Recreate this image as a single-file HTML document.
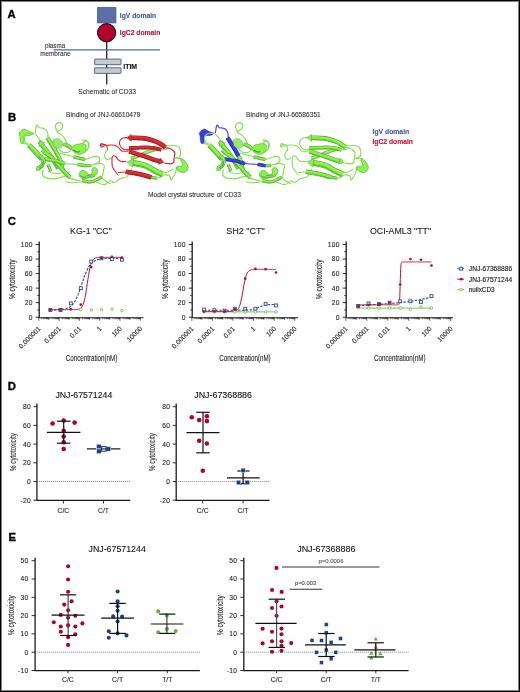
<!DOCTYPE html>
<html><head><meta charset="utf-8"><style>
html,body{margin:0;padding:0;background:#fff;width:520px;height:692px;overflow:hidden}
svg{display:block;font-family:"Liberation Sans", sans-serif;will-change:transform}
</style></head><body>
<svg width="520" height="692" viewBox="0 0 520 692">
<rect x="0.5" y="0.5" width="519" height="691" fill="#fff" stroke="#000" stroke-width="1"/>
<rect x="1.5" y="1.5" width="517" height="689" fill="none" stroke="#808080" stroke-width="1"/>
<text x="7.5" y="18.1" font-size="11.3" font-weight="bold" fill="#000" text-anchor="start"  stroke="#000" stroke-width="0.35">A</text>
<text x="7.9" y="121.3" font-size="11.3" font-weight="bold" fill="#000" text-anchor="start"  stroke="#000" stroke-width="0.35">B</text>
<text x="7.7" y="224.9" font-size="11.3" font-weight="bold" fill="#000" text-anchor="start"  stroke="#000" stroke-width="0.35">C</text>
<text x="7.7" y="389.9" font-size="11.3" font-weight="bold" fill="#000" text-anchor="start"  stroke="#000" stroke-width="0.35">D</text>
<text x="8.6" y="540.8" font-size="11.3" font-weight="bold" fill="#000" text-anchor="start"  stroke="#000" stroke-width="0.35">E</text>
<line x1="106.7" y1="40" x2="106.7" y2="84.4" stroke="#333" stroke-width="1.4"/>
<rect x="97.6" y="7.6" width="18.3" height="15.3" fill="#5b6ea6" stroke="#3d5591" stroke-width="0.8"/>
<circle cx="106.6" cy="32.7" r="9.1" fill="#b5002b" stroke="#000" stroke-width="1"/>
<line x1="53.7" y1="49.8" x2="160" y2="49.8" stroke="#4d6ba6" stroke-width="1.2"/>
<rect x="94.6" y="59.1" width="26.4" height="5.6" rx="0.5" fill="#c9c9c9" stroke="#3f5e9c" stroke-width="0.9"/>
<rect x="94.6" y="67.8" width="26.4" height="5.6" rx="0.5" fill="#c9c9c9" stroke="#3f5e9c" stroke-width="0.9"/>
<text x="119.8" y="17.7" font-size="6.8" font-weight="bold" fill="#3c5a96" text-anchor="start" textLength="36.4" lengthAdjust="spacingAndGlyphs"  stroke="#3c5a96" stroke-width="0.1">IgV domain</text>
<text x="119.8" y="35.2" font-size="6.8" font-weight="bold" fill="#b3123c" text-anchor="start" textLength="40.6" lengthAdjust="spacingAndGlyphs"  stroke="#b3123c" stroke-width="0.1">IgC2 domain</text>
<text x="45" y="48" font-size="6.3" font-weight="normal" fill="#333" text-anchor="start" textLength="20.2" lengthAdjust="spacingAndGlyphs"  stroke="#333" stroke-width="0.1">plasma</text>
<text x="40.2" y="55.9" font-size="6.3" font-weight="normal" fill="#333" text-anchor="start" textLength="30.4" lengthAdjust="spacingAndGlyphs"  stroke="#333" stroke-width="0.1">membrane</text>
<text x="123.3" y="68.5" font-size="6.9" font-weight="bold" fill="#111" text-anchor="start" textLength="13.8" lengthAdjust="spacingAndGlyphs"  stroke="#111" stroke-width="0.1">ITIM</text>
<text x="78.3" y="93.8" font-size="6.7" font-weight="normal" fill="#333" text-anchor="start" textLength="57.7" lengthAdjust="spacingAndGlyphs"  stroke="#333" stroke-width="0.1">Schematic of CD33</text>
<text x="66.1" y="117.1" font-size="6.6" font-weight="normal" fill="#333" text-anchor="start" textLength="74.3" lengthAdjust="spacingAndGlyphs"  stroke="#333" stroke-width="0.1">Binding of JNJ-66610479</text>
<text x="246.1" y="117.1" font-size="6.6" font-weight="normal" fill="#333" text-anchor="start" textLength="74.7" lengthAdjust="spacingAndGlyphs"  stroke="#333" stroke-width="0.1">Binding of JNJ-66586351</text>
<text x="148" y="196.6" font-size="6.6" font-weight="normal" fill="#333" text-anchor="start" textLength="93" lengthAdjust="spacingAndGlyphs"  stroke="#333" stroke-width="0.1">Model crystal structure of CD33</text>
<text x="372.5" y="133.8" font-size="6.8" font-weight="bold" fill="#3c5a96" text-anchor="start" textLength="36.7" lengthAdjust="spacingAndGlyphs"  stroke="#3c5a96" stroke-width="0.1">IgV domain</text>
<text x="372.5" y="144.2" font-size="6.8" font-weight="bold" fill="#b3123c" text-anchor="start" textLength="40.4" lengthAdjust="spacingAndGlyphs"  stroke="#b3123c" stroke-width="0.1">IgC2 domain</text>
<g id="prot"><g><path d="M35.20,132.70 C35.40,131.55 36.00,126.98 36.40,125.80 C36.80,124.62 37.13,125.27 37.60,125.60 C38.07,125.93 38.38,127.38 39.20,127.80 C40.02,128.22 41.37,127.77 42.50,128.10 C43.63,128.43 45.13,128.93 46.00,129.80 C46.87,130.67 47.37,132.15 47.70,133.30 C48.03,134.45 47.95,136.13 48.00,136.70" fill="none" stroke="#84e052" stroke-width="1.2" stroke-linecap="round" stroke-linejoin="round"/>
<path d="M57.50,131.80 C57.13,131.00 55.40,128.38 55.30,127.00 C55.20,125.62 56.05,124.18 56.90,123.50 C57.75,122.82 59.43,122.62 60.40,122.90 C61.37,123.18 62.52,124.23 62.70,125.20 C62.88,126.17 62.27,127.68 61.50,128.70 C60.73,129.72 58.82,130.70 58.10,131.30 C57.38,131.90 56.92,131.88 57.20,132.30 C57.48,132.72 58.78,133.07 59.80,133.80 C60.82,134.53 62.35,135.67 63.30,136.70 C64.25,137.73 64.88,138.87 65.50,140.00 C66.12,141.13 66.75,142.92 67.00,143.50" fill="none" stroke="#84e052" stroke-width="1.2" stroke-linecap="round" stroke-linejoin="round"/>
<path d="M35.20,133.80 C35.68,134.38 37.23,136.23 38.10,137.30 C38.97,138.37 40.02,139.72 40.40,140.20" fill="none" stroke="#84e052" stroke-width="1.1" stroke-linecap="round" stroke-linejoin="round"/>
<path d="M21.50,142.50 C22.00,142.67 23.50,143.17 24.50,143.50 C25.50,143.83 27.00,144.33 27.50,144.50" fill="none" stroke="#84e052" stroke-width="1.1" stroke-linecap="round" stroke-linejoin="round"/>
<path d="M43.10,170.20 C43.02,171.00 42.12,173.72 42.60,175.00 C43.08,176.28 44.00,177.27 46.00,177.90 C48.00,178.53 51.88,178.97 54.60,178.80 C57.32,178.63 59.73,177.53 62.30,176.90 C64.87,176.27 68.72,175.32 70.00,175.00" fill="none" stroke="#84e052" stroke-width="1.2" stroke-linecap="round" stroke-linejoin="round"/>
<path d="M48.00,171.00 C48.67,171.33 50.33,172.58 52.00,173.00 C53.67,173.42 56.00,173.58 58.00,173.50 C60.00,173.42 62.00,172.75 64.00,172.50 C66.00,172.25 69.00,172.08 70.00,172.00" fill="none" stroke="#84e052" stroke-width="1.0" stroke-linecap="round" stroke-linejoin="round"/>
<path d="M60.00,167.30 C60.48,168.10 61.30,170.33 62.90,172.10 C64.50,173.87 66.88,176.45 69.60,177.90 C72.32,179.35 77.60,180.32 79.20,180.80" fill="none" stroke="#84e052" stroke-width="1.2" stroke-linecap="round" stroke-linejoin="round"/>
<path d="M65.80,181.70 C66.75,181.87 68.78,182.70 71.50,182.70 C74.22,182.70 80.33,181.87 82.10,181.70" fill="none" stroke="#84e052" stroke-width="1.1" stroke-linecap="round" stroke-linejoin="round"/>
<path d="M58.80,149.20 C59.45,149.72 61.17,151.78 62.70,152.30 C64.23,152.82 66.72,152.55 68.00,152.30 C69.28,152.05 70.00,151.05 70.40,150.80" fill="none" stroke="#84e052" stroke-width="1.1" stroke-linecap="round" stroke-linejoin="round"/>
<path d="M60.00,152.90 C60.97,153.22 63.55,154.17 65.80,154.80 C68.05,155.43 72.22,156.38 73.50,156.70" fill="none" stroke="#84e052" stroke-width="1.1" stroke-linecap="round" stroke-linejoin="round"/>
<path d="M85.00,159.60 C85.50,159.45 86.83,159.13 88.00,158.70 C89.17,158.27 90.58,157.40 92.00,157.00 C93.42,156.60 95.27,156.18 96.50,156.30 C97.73,156.42 98.88,157.08 99.40,157.70 C99.92,158.32 99.60,159.37 99.60,160.00 C99.60,160.63 99.92,160.92 99.40,161.50 C98.88,162.08 97.45,163.02 96.50,163.50 C95.55,163.98 94.17,164.25 93.70,164.40" fill="none" stroke="#84e052" stroke-width="1.2" stroke-linecap="round" stroke-linejoin="round"/>
<path d="M90.80,165.40 C91.67,165.17 94.40,164.32 96.00,164.00 C97.60,163.68 99.03,163.27 100.40,163.50 C101.77,163.73 103.68,164.32 104.20,165.40 C104.72,166.48 103.82,168.23 103.50,170.00 C103.18,171.77 103.13,174.68 102.30,176.00 C101.47,177.32 99.13,177.58 98.50,177.90" fill="none" stroke="#84e052" stroke-width="1.2" stroke-linecap="round" stroke-linejoin="round"/>
<path d="M82.90,140.20 C83.50,140.25 85.53,139.95 86.50,140.50 C87.47,141.05 88.40,142.25 88.70,143.50 C89.00,144.75 88.95,146.63 88.30,148.00 C87.65,149.37 85.38,151.08 84.80,151.70" fill="none" stroke="#84e052" stroke-width="1.2" stroke-linecap="round" stroke-linejoin="round"/>
<path d="M64.00,143.50 C64.67,144.00 66.67,145.67 68.00,146.50 C69.33,147.33 71.33,148.17 72.00,148.50" fill="none" stroke="#84e052" stroke-width="1.1" stroke-linecap="round" stroke-linejoin="round"/>
<path d="M101.30,176.90 C101.95,177.55 103.75,179.67 105.20,180.80 C106.65,181.93 109.20,183.22 110.00,183.70" fill="none" stroke="#84e052" stroke-width="1.1" stroke-linecap="round" stroke-linejoin="round"/>
<path d="M19.00,133.20 C19.32,132.82 20.05,131.58 20.90,130.90 C21.75,130.22 23.10,129.17 24.10,129.10 C25.10,129.03 25.75,129.97 26.90,130.50 C28.05,131.03 29.88,131.88 31.00,132.30 C32.12,132.72 33.28,132.68 33.60,133.00 C33.92,133.32 33.57,133.78 32.90,134.20 C32.23,134.62 30.53,135.28 29.60,135.50 C28.67,135.72 28.13,135.53 27.30,135.50 C26.47,135.47 25.13,134.92 24.60,135.30 C24.07,135.68 24.22,136.60 24.10,137.80 C23.98,139.00 24.37,141.57 23.90,142.50 C23.43,143.43 21.92,143.78 21.30,143.40 C20.68,143.02 20.42,141.43 20.20,140.20 C19.98,138.97 20.03,136.70 20.00,136.00Z" fill="#8af24c" stroke="#4fa42c" stroke-width="0.6"/>
<path d="M33.30,133.50 C32.30,133.53 28.75,133.12 27.30,133.70 C25.85,134.28 24.98,135.70 24.60,137.00 C24.22,138.30 24.30,140.28 25.00,141.50 C25.70,142.72 28.17,143.83 28.80,144.30" fill="none" stroke="#84e052" stroke-width="1.2" stroke-linecap="round" stroke-linejoin="round"/>
<path d="M29.00,144.90 C30.00,145.98 32.83,149.05 35.00,151.40 C37.17,153.75 40.83,157.73 42.00,159.00" fill="none" stroke="#4fa42c" stroke-width="5.1000000000000005" stroke-linecap="butt" stroke-linejoin="round"/>
<path d="M29.00,144.90 C30.00,145.98 32.83,149.05 35.00,151.40 C37.17,153.75 40.83,157.73 42.00,159.00" fill="none" stroke="#8af24c" stroke-width="3.9000000000000004" stroke-linecap="butt" stroke-linejoin="round"/>
<path d="M27.97,145.86 C28.97,146.94 31.80,150.00 33.96,152.35 C36.13,154.70 39.80,158.69 40.96,159.95" fill="none" stroke="#4fa42c" stroke-width="0.97" stroke-opacity="0.75" stroke-linecap="butt"/>
<path d="M58.50,168.50 C57.92,167.50 56.25,164.50 55.00,162.50 C53.75,160.50 52.50,158.58 51.00,156.50 C49.50,154.42 47.70,152.22 46.00,150.00 C44.30,147.78 41.48,144.07 40.80,143.20 C40.12,142.33 41.74,144.54 41.92,144.80" fill="none" stroke="#4fa42c" stroke-width="4.7" stroke-linecap="butt" stroke-linejoin="round"/>
<path d="M58.50,168.50 C57.92,167.50 56.25,164.50 55.00,162.50 C53.75,160.50 52.50,158.58 51.00,156.50 C49.50,154.42 47.70,152.22 46.00,150.00 C44.30,147.78 41.48,144.07 40.80,143.20 C40.12,142.33 41.74,144.54 41.92,144.80" fill="none" stroke="#8af24c" stroke-width="3.5" stroke-linecap="butt" stroke-linejoin="round"/>
<path d="M57.39,169.14 C56.81,168.15 55.15,165.16 53.91,163.18 C52.68,161.20 51.45,159.31 49.96,157.25 C48.47,155.18 46.68,152.99 44.98,150.78 C43.29,148.57 40.48,144.86 39.79,143.99 C39.11,143.12 40.69,145.28 40.87,145.54" fill="none" stroke="#4fa42c" stroke-width="0.88" stroke-opacity="0.75" stroke-linecap="butt"/>
<path d="M44.71,142.85 L39.23,140.95 L39.14,146.75Z" fill="#8af24c" stroke="#4fa42c" stroke-width="0.5" stroke-linejoin="round"/>
<path d="M47.30,137.70 C47.92,138.67 49.72,141.45 51.00,143.50 C52.28,145.55 53.78,147.87 55.00,150.00 C56.22,152.13 57.75,155.25 58.30,156.30" fill="none" stroke="#4fa42c" stroke-width="4.4" stroke-linecap="butt" stroke-linejoin="round"/>
<path d="M47.30,137.70 C47.92,138.67 49.72,141.45 51.00,143.50 C52.28,145.55 53.78,147.87 55.00,150.00 C56.22,152.13 57.75,155.25 58.30,156.30" fill="none" stroke="#8af24c" stroke-width="3.2" stroke-linecap="butt" stroke-linejoin="round"/>
<path d="M46.30,138.34 C46.92,139.30 48.72,142.09 50.00,144.13 C51.27,146.17 52.76,148.47 53.97,150.59 C55.18,152.71 56.70,155.81 57.25,156.85" fill="none" stroke="#4fa42c" stroke-width="0.81" stroke-opacity="0.75" stroke-linecap="butt"/>
<path d="M58.50,156.50 C58.82,157.22 59.70,158.55 60.40,160.80 C61.10,163.05 62.32,168.47 62.70,170.00" fill="none" stroke="#4fa42c" stroke-width="4.3" stroke-linecap="butt" stroke-linejoin="round"/>
<path d="M58.50,156.50 C58.82,157.22 59.70,158.55 60.40,160.80 C61.10,163.05 62.32,168.47 62.70,170.00" fill="none" stroke="#8af24c" stroke-width="3.1" stroke-linecap="butt" stroke-linejoin="round"/>
<path d="M57.45,156.97 C57.76,157.66 58.61,158.92 59.30,161.14 C59.99,163.36 61.20,168.76 61.58,170.28" fill="none" stroke="#4fa42c" stroke-width="0.79" stroke-opacity="0.75" stroke-linecap="butt"/>
<path d="M42.10,150.00 C42.75,150.58 44.40,152.22 46.00,153.50 C47.60,154.78 50.03,156.20 51.70,157.70 C53.37,159.20 54.55,160.90 56.00,162.50 C57.45,164.10 58.90,165.63 60.40,167.30 C61.90,168.97 63.40,170.80 65.00,172.50 C66.60,174.20 69.17,176.67 70.00,177.50" fill="none" stroke="#4fa42c" stroke-width="4.1" stroke-linecap="butt" stroke-linejoin="round"/>
<path d="M42.10,150.00 C42.75,150.58 44.40,152.22 46.00,153.50 C47.60,154.78 50.03,156.20 51.70,157.70 C53.37,159.20 54.55,160.90 56.00,162.50 C57.45,164.10 58.90,165.63 60.40,167.30 C61.90,168.97 63.40,170.80 65.00,172.50 C66.60,174.20 69.17,176.67 70.00,177.50" fill="none" stroke="#8af24c" stroke-width="2.9" stroke-linecap="butt" stroke-linejoin="round"/>
<path d="M41.37,150.81 C42.03,151.40 43.72,153.07 45.32,154.35 C46.92,155.63 49.33,157.03 50.97,158.51 C52.62,159.99 53.76,161.64 55.19,163.23 C56.63,164.82 58.09,166.36 59.59,168.03 C61.09,169.70 62.60,171.54 64.21,173.25 C65.81,174.95 68.39,177.43 69.23,178.27" fill="none" stroke="#4fa42c" stroke-width="0.75" stroke-opacity="0.75" stroke-linecap="butt"/>
<path d="M44.00,159.00 C45.00,159.17 48.07,159.70 50.00,160.00 C51.93,160.30 53.93,160.43 55.60,160.80 C57.27,161.17 58.47,161.72 60.00,162.20 C61.53,162.68 64.00,163.45 64.80,163.70" fill="none" stroke="#4fa42c" stroke-width="3.7" stroke-linecap="butt" stroke-linejoin="round"/>
<path d="M44.00,159.00 C45.00,159.17 48.07,159.70 50.00,160.00 C51.93,160.30 53.93,160.43 55.60,160.80 C57.27,161.17 58.47,161.72 60.00,162.20 C61.53,162.68 64.00,163.45 64.80,163.70" fill="none" stroke="#8af24c" stroke-width="2.5" stroke-linecap="butt" stroke-linejoin="round"/>
<path d="M43.84,159.95 C44.84,160.11 47.93,160.65 49.85,160.95 C51.78,161.25 53.75,161.38 55.39,161.74 C57.04,162.10 58.19,162.64 59.71,163.12 C61.23,163.60 63.71,164.37 64.51,164.62" fill="none" stroke="#4fa42c" stroke-width="0.66" stroke-opacity="0.75" stroke-linecap="butt"/>
<path d="M64.80,163.70 C65.67,163.75 67.88,163.87 70.00,164.00 C72.12,164.13 76.25,164.42 77.50,164.50" fill="none" stroke="#84e052" stroke-width="1.2" stroke-linecap="round" stroke-linejoin="round"/>
<path d="M47.90,164.40 C48.17,165.00 49.02,166.87 49.50,168.00 C49.98,169.13 50.58,170.67 50.80,171.20" fill="none" stroke="#4fa42c" stroke-width="3.0999999999999996" stroke-linecap="butt" stroke-linejoin="round"/>
<path d="M47.90,164.40 C48.17,165.00 49.02,166.87 49.50,168.00 C49.98,169.13 50.58,170.67 50.80,171.20" fill="none" stroke="#8af24c" stroke-width="1.9" stroke-linecap="butt" stroke-linejoin="round"/>
<path d="M47.20,164.71 C47.46,165.31 48.31,167.17 48.79,168.30 C49.28,169.43 49.87,170.96 50.09,171.49" fill="none" stroke="#4fa42c" stroke-width="0.60" stroke-opacity="0.75" stroke-linecap="butt"/>
<path d="M53.00,140.00 C53.58,139.77 55.25,138.63 56.50,138.60 C57.75,138.57 59.47,138.98 60.50,139.80 C61.53,140.62 62.53,142.27 62.70,143.50 C62.87,144.73 62.45,146.42 61.50,147.20 C60.55,147.98 58.28,148.48 57.00,148.20 C55.72,147.92 54.33,145.95 53.80,145.50Z" fill="#98e86a" stroke="#6cbf44" stroke-width="0.6"/>
<path d="M40.20,155.80 C40.75,156.53 43.18,158.58 43.50,160.20 C43.82,161.82 42.93,164.20 42.10,165.50 C41.27,166.80 39.10,167.17 38.50,168.00 C37.90,168.83 38.50,170.08 38.50,170.50" fill="none" stroke="#4fa42c" stroke-width="4.1" stroke-linecap="butt" stroke-linejoin="round"/>
<path d="M40.20,155.80 C40.75,156.53 43.18,158.58 43.50,160.20 C43.82,161.82 42.93,164.20 42.10,165.50 C41.27,166.80 39.10,167.17 38.50,168.00 C37.90,168.83 38.50,170.08 38.50,170.50" fill="none" stroke="#8af24c" stroke-width="2.9" stroke-linecap="butt" stroke-linejoin="round"/>
<path d="M39.33,156.45 C39.85,157.11 41.82,158.80 42.43,160.41 C43.05,162.01 43.52,164.72 43.02,166.09 C42.51,167.46 40.32,167.90 39.38,168.64 C38.45,169.37 37.74,170.19 37.41,170.50" fill="none" stroke="#4fa42c" stroke-width="0.75" stroke-opacity="0.75" stroke-linecap="butt"/>
<path d="M43.60,161.00 C43.38,161.67 43.03,163.90 42.30,165.00 C41.57,166.10 39.72,167.17 39.20,167.60" fill="none" stroke="#3f8f22" stroke-width="0.8999999999999999" stroke-linecap="butt" stroke-linejoin="round"/>
<path d="M63.50,143.80 C64.08,144.08 65.98,144.97 67.00,145.50 C68.02,146.03 68.77,146.38 69.60,147.00 C70.43,147.62 71.60,148.83 72.00,149.20" fill="none" stroke="#4fa42c" stroke-width="3.7" stroke-linecap="butt" stroke-linejoin="round"/>
<path d="M63.50,143.80 C64.08,144.08 65.98,144.97 67.00,145.50 C68.02,146.03 68.77,146.38 69.60,147.00 C70.43,147.62 71.60,148.83 72.00,149.20" fill="none" stroke="#8af24c" stroke-width="2.5" stroke-linecap="butt" stroke-linejoin="round"/>
<path d="M63.08,144.66 C63.66,144.94 65.56,145.83 66.55,146.35 C67.55,146.87 68.23,147.18 69.03,147.77 C69.83,148.36 70.96,149.55 71.35,149.91" fill="none" stroke="#4fa42c" stroke-width="0.66" stroke-opacity="0.75" stroke-linecap="butt"/>
<path d="M71.50,148.50 C72.00,147.92 73.33,145.72 74.50,145.00 C75.67,144.28 77.25,144.45 78.50,144.20 C79.75,143.95 80.83,143.45 82.00,143.50 C83.17,143.55 84.83,143.67 85.50,144.50 C86.17,145.33 86.17,147.17 86.00,148.50 C85.83,149.83 85.42,151.53 84.50,152.50 C83.58,153.47 81.83,154.08 80.50,154.30 C79.17,154.52 77.75,154.27 76.50,153.80 C75.25,153.33 73.58,151.88 73.00,151.50Z" fill="#8af24c" stroke="#4fa42c" stroke-width="0.6"/>
<path d="M73.50,150.00 C74.08,150.33 75.92,151.75 77.00,152.00 C78.08,152.25 79.50,151.58 80.00,151.50" fill="none" stroke="#3f8f22" stroke-width="1.1" stroke-linecap="butt" stroke-linejoin="round"/>
<path d="M82.00,143.80 C82.58,143.37 84.45,141.33 85.50,141.20 C86.55,141.07 87.80,141.95 88.30,143.00 C88.80,144.05 88.88,146.17 88.50,147.50 C88.12,148.83 86.42,150.42 86.00,151.00" fill="none" stroke="#84e052" stroke-width="1.3" stroke-linecap="round" stroke-linejoin="round"/>
<path d="M73.50,156.80 C74.42,157.03 77.08,157.73 79.00,158.20 C80.92,158.67 84.00,159.37 85.00,159.60" fill="none" stroke="#4fa42c" stroke-width="3.3" stroke-linecap="butt" stroke-linejoin="round"/>
<path d="M73.50,156.80 C74.42,157.03 77.08,157.73 79.00,158.20 C80.92,158.67 84.00,159.37 85.00,159.60" fill="none" stroke="#8af24c" stroke-width="2.1" stroke-linecap="butt" stroke-linejoin="round"/>
<path d="M73.29,157.61 C74.21,157.84 76.88,158.54 78.80,159.01 C80.72,159.48 83.81,160.18 84.81,160.41" fill="none" stroke="#4fa42c" stroke-width="0.60" stroke-opacity="0.75" stroke-linecap="butt"/>
<path d="M77.50,164.40 C78.17,164.50 80.15,164.77 81.50,165.00 C82.85,165.23 84.92,165.67 85.60,165.80" fill="none" stroke="#4fa42c" stroke-width="3.5" stroke-linecap="butt" stroke-linejoin="round"/>
<path d="M77.50,164.40 C78.17,164.50 80.15,164.77 81.50,165.00 C82.85,165.23 84.92,165.67 85.60,165.80" fill="none" stroke="#8af24c" stroke-width="2.3" stroke-linecap="butt" stroke-linejoin="round"/>
<path d="M77.37,165.29 C78.03,165.39 80.00,165.65 81.35,165.88 C82.69,166.12 84.75,166.55 85.43,166.68" fill="none" stroke="#4fa42c" stroke-width="0.62" stroke-opacity="0.75" stroke-linecap="butt"/>
<path d="M85.60,165.80 C86.00,165.78 87.13,165.77 88.00,165.70 C88.87,165.63 90.33,165.45 90.80,165.40" fill="none" stroke="#4fa42c" stroke-width="3.0999999999999996" stroke-linecap="butt" stroke-linejoin="round"/>
<path d="M85.60,165.80 C86.00,165.78 87.13,165.77 88.00,165.70 C88.87,165.63 90.33,165.45 90.80,165.40" fill="none" stroke="#8af24c" stroke-width="1.9" stroke-linecap="butt" stroke-linejoin="round"/>
<path d="M85.63,166.57 C86.04,166.55 87.18,166.53 88.06,166.47 C88.93,166.40 90.41,166.21 90.88,166.16" fill="none" stroke="#4fa42c" stroke-width="0.60" stroke-opacity="0.75" stroke-linecap="butt"/>
<path d="M79.00,173.50 C79.50,173.00 80.83,170.83 82.00,170.50 C83.17,170.17 84.92,170.83 86.00,171.50 C87.08,172.17 87.50,174.17 88.50,174.50 C89.50,174.83 91.45,174.33 92.00,173.50 C92.55,172.67 91.38,170.50 91.80,169.50 C92.22,168.50 93.55,167.50 94.50,167.50 C95.45,167.50 97.08,168.50 97.50,169.50 C97.92,170.50 97.67,172.33 97.00,173.50 C96.33,174.67 95.00,175.75 93.50,176.50 C92.00,177.25 89.75,177.58 88.00,178.00 C86.25,178.42 84.37,179.17 83.00,179.00 C81.63,178.83 80.33,177.33 79.80,177.00Z" fill="#8af24c" stroke="#4fa42c" stroke-width="0.6"/>
<path d="M80.50,175.50 C80.92,175.78 82.08,176.95 83.00,177.20 C83.92,177.45 85.50,177.03 86.00,177.00" fill="none" stroke="#3f8f22" stroke-width="0.8999999999999999" stroke-linecap="butt" stroke-linejoin="round"/>
<path d="M82.10,180.60 C83.08,180.80 86.18,181.65 88.00,181.80 C89.82,181.95 91.25,182.00 93.00,181.50 C94.75,181.00 97.12,179.57 98.50,178.80 C99.88,178.03 100.83,177.22 101.30,176.90" fill="none" stroke="#4fa42c" stroke-width="3.3" stroke-linecap="butt" stroke-linejoin="round"/>
<path d="M82.10,180.60 C83.08,180.80 86.18,181.65 88.00,181.80 C89.82,181.95 91.25,182.00 93.00,181.50 C94.75,181.00 97.12,179.57 98.50,178.80 C99.88,178.03 100.83,177.22 101.30,176.90" fill="none" stroke="#8af24c" stroke-width="2.1" stroke-linecap="butt" stroke-linejoin="round"/>
<path d="M81.93,181.42 C82.93,181.62 86.05,182.48 87.93,182.63 C89.81,182.78 91.40,182.82 93.23,182.30 C95.06,181.78 97.48,180.31 98.90,179.53 C100.33,178.74 101.29,177.91 101.77,177.59" fill="none" stroke="#4fa42c" stroke-width="0.60" stroke-opacity="0.75" stroke-linecap="butt"/>
<path d="M86.00,177.00 C86.67,176.87 88.50,176.37 90.00,176.20 C91.50,176.03 94.17,176.03 95.00,176.00" fill="none" stroke="#4fa42c" stroke-width="2.7" stroke-linecap="butt" stroke-linejoin="round"/>
<path d="M86.00,177.00 C86.67,176.87 88.50,176.37 90.00,176.20 C91.50,176.03 94.17,176.03 95.00,176.00" fill="none" stroke="#8af24c" stroke-width="1.5" stroke-linecap="butt" stroke-linejoin="round"/>
<path d="M86.13,177.63 C86.78,177.50 88.59,177.00 90.07,176.84 C91.55,176.67 94.20,176.67 95.03,176.64" fill="none" stroke="#4fa42c" stroke-width="0.60" stroke-opacity="0.75" stroke-linecap="butt"/>
<path d="M100.30,145.70 C100.42,145.38 100.55,144.07 101.00,143.80 C101.45,143.53 102.45,143.82 103.00,144.10 C103.55,144.38 104.38,145.02 104.30,145.50 C104.22,145.98 103.12,146.83 102.50,147.00 C101.88,147.17 100.57,146.87 100.60,146.50 C100.63,146.13 101.72,145.00 102.70,144.80 C103.68,144.60 105.70,144.43 106.50,145.30 C107.30,146.17 107.33,149.22 107.50,150.00" fill="none" stroke="#cc2c34" stroke-width="1.1" stroke-linecap="round" stroke-linejoin="round"/>
<path d="M106.00,145.60 C106.67,145.50 108.63,145.07 110.00,145.00 C111.37,144.93 112.85,144.85 114.20,145.20 C115.55,145.55 116.82,146.13 118.10,147.10 C119.38,148.07 120.13,150.35 121.90,151.00 C123.67,151.65 127.57,151.00 128.70,151.00" fill="none" stroke="#cc2c34" stroke-width="1.1" stroke-linecap="round" stroke-linejoin="round"/>
<path d="M126.70,137.50 C125.92,137.67 123.20,137.75 122.00,138.50 C120.80,139.25 119.75,140.67 119.50,142.00 C119.25,143.33 119.75,145.25 120.50,146.50 C121.25,147.75 122.58,149.00 124.00,149.50 C125.42,150.00 128.17,149.50 129.00,149.50" fill="none" stroke="#cc2c34" stroke-width="1.1" stroke-linecap="round" stroke-linejoin="round"/>
<path d="M112.30,157.50 C112.47,157.22 112.68,155.92 113.30,155.80 C113.92,155.68 115.20,156.17 116.00,156.80 C116.80,157.43 117.27,158.82 118.10,159.60 C118.93,160.38 119.68,161.18 121.00,161.50 C122.32,161.82 125.17,161.50 126.00,161.50" fill="none" stroke="#cc2c34" stroke-width="1.1" stroke-linecap="round" stroke-linejoin="round"/>
<path d="M112.00,157.50 C112.05,158.97 111.80,164.05 112.30,166.30 C112.80,168.55 114.03,169.55 115.00,171.00 C115.97,172.45 117.58,174.33 118.10,175.00" fill="none" stroke="#cc2c34" stroke-width="1.1" stroke-linecap="round" stroke-linejoin="round"/>
<path d="M118.50,172.50 C119.08,172.45 120.78,172.28 122.00,172.20 C123.22,172.12 125.17,172.03 125.80,172.00" fill="none" stroke="#cc2c34" stroke-width="1.1" stroke-linecap="round" stroke-linejoin="round"/>
<path d="M107.50,150.00 C107.18,150.33 106.08,150.88 105.60,152.00 C105.12,153.12 104.28,155.43 104.60,156.70 C104.92,157.97 106.53,159.38 107.50,159.60 C108.47,159.82 109.92,158.27 110.40,158.00" fill="none" stroke="#84e052" stroke-width="1.1" stroke-linecap="round" stroke-linejoin="round"/>
<path d="M96.00,182.00 C97.43,182.43 102.20,184.80 104.60,184.60 C107.00,184.40 108.80,181.12 110.40,180.80 C112.00,180.48 112.60,183.03 114.20,182.70 C115.80,182.37 117.92,179.77 120.00,178.80 C122.08,177.83 124.78,178.50 126.70,176.90 C128.62,175.30 130.70,170.48 131.50,169.20" fill="none" stroke="#84e052" stroke-width="1.1" stroke-linecap="round" stroke-linejoin="round"/>
<path d="M165.40,147.70 C166.17,147.83 168.82,148.12 170.00,148.50 C171.18,148.88 171.70,149.27 172.50,150.00 C173.30,150.73 174.52,151.65 174.80,152.90 C175.08,154.15 174.38,155.97 174.20,157.50 C174.02,159.03 174.27,161.05 173.70,162.10 C173.13,163.15 172.25,163.60 170.80,163.80 C169.35,164.00 165.97,163.38 165.00,163.30" fill="none" stroke="#cc2c34" stroke-width="1.2" stroke-linecap="round" stroke-linejoin="round"/>
<path d="M166.40,146.20 C167.33,146.08 170.07,145.45 172.00,145.50 C173.93,145.55 176.63,145.75 178.00,146.50 C179.37,147.25 179.77,148.83 180.20,150.00 C180.63,151.17 180.73,152.35 180.60,153.50 C180.47,154.65 180.27,156.13 179.40,156.90 C178.53,157.67 175.02,157.80 175.40,158.10 C175.78,158.40 180.65,158.60 181.70,158.70" fill="none" stroke="#84e052" stroke-width="1.2" stroke-linecap="round" stroke-linejoin="round"/>
<path d="M176.50,167.30 C176.32,168.27 176.17,171.17 175.40,173.10 C174.63,175.03 172.67,177.75 171.90,178.90 C171.13,180.05 171.18,180.48 170.80,180.00 C170.42,179.52 170.57,176.87 169.60,176.00 C168.63,175.13 165.77,175.00 165.00,174.80" fill="none" stroke="#84e052" stroke-width="1.2" stroke-linecap="round" stroke-linejoin="round"/>
<path d="M173.00,169.00 C172.17,169.47 169.50,171.13 168.00,171.80 C166.50,172.47 164.67,172.80 164.00,173.00" fill="none" stroke="#84e052" stroke-width="1.1" stroke-linecap="round" stroke-linejoin="round"/>
<path d="M152.00,177.50 C153.00,177.58 156.00,178.42 158.00,178.00 C160.00,177.58 163.00,175.50 164.00,175.00" fill="none" stroke="#84e052" stroke-width="1.1" stroke-linecap="round" stroke-linejoin="round"/>
<path d="M158.00,149.30 C158.83,149.38 161.60,149.77 163.00,149.80 C164.40,149.83 165.83,149.55 166.40,149.50" fill="none" stroke="#84e052" stroke-width="1.1" stroke-linecap="round" stroke-linejoin="round"/>
<path d="M131.00,158.40 C132.17,158.00 135.30,157.03 138.00,156.00 C140.70,154.97 144.63,153.20 147.20,152.20 C149.77,151.20 151.22,150.63 153.40,150.00 C155.58,149.37 159.15,148.67 160.30,148.40" fill="none" stroke="#6cbf44" stroke-width="3.5" stroke-linecap="butt" stroke-linejoin="round"/>
<path d="M131.00,158.40 C132.17,158.00 135.30,157.03 138.00,156.00 C140.70,154.97 144.63,153.20 147.20,152.20 C149.77,151.20 151.22,150.63 153.40,150.00 C155.58,149.37 159.15,148.67 160.30,148.40" fill="none" stroke="#98e86a" stroke-width="2.3" stroke-linecap="butt" stroke-linejoin="round"/>
<path d="M131.29,159.25 C132.46,158.85 135.61,157.87 138.32,156.84 C141.03,155.80 144.97,154.03 147.53,153.03 C150.08,152.04 151.49,151.49 153.65,150.86 C155.81,150.23 159.36,149.54 160.50,149.27" fill="none" stroke="#6cbf44" stroke-width="0.62" stroke-opacity="0.75" stroke-linecap="butt"/>
<path d="M131.30,137.80 C131.75,137.80 132.22,137.73 134.00,137.80 C135.78,137.87 139.33,137.90 142.00,138.20 C144.67,138.50 147.67,139.02 150.00,139.60 C152.33,140.18 154.17,140.92 156.00,141.70 C157.83,142.48 159.43,143.33 161.00,144.30 C162.57,145.27 164.67,146.97 165.40,147.50" fill="none" stroke="#a0141c" stroke-width="4.7" stroke-linecap="butt" stroke-linejoin="round"/>
<path d="M131.30,137.80 C131.75,137.80 132.22,137.73 134.00,137.80 C135.78,137.87 139.33,137.90 142.00,138.20 C144.67,138.50 147.67,139.02 150.00,139.60 C152.33,140.18 154.17,140.92 156.00,141.70 C157.83,142.48 159.43,143.33 161.00,144.30 C162.57,145.27 164.67,146.97 165.40,147.50" fill="none" stroke="#d83032" stroke-width="3.5" stroke-linecap="butt" stroke-linejoin="round"/>
<path d="M131.30,139.08 C131.74,139.08 132.19,139.01 133.95,139.08 C135.71,139.14 139.23,139.18 141.86,139.47 C144.48,139.77 147.42,140.27 149.69,140.84 C151.96,141.41 153.72,142.12 155.50,142.88 C157.27,143.63 158.80,144.45 160.33,145.39 C161.85,146.33 163.93,148.01 164.65,148.54" fill="none" stroke="#a0141c" stroke-width="0.88" stroke-opacity="0.75" stroke-linecap="butt"/>
<path d="M131.30,134.40 L126.60,137.80 L131.30,141.20Z" fill="#d83032" stroke="#a0141c" stroke-width="0.5" stroke-linejoin="round"/>
<path d="M129.20,148.20 C131.00,148.10 136.53,147.70 140.00,147.60 C143.47,147.50 147.33,147.48 150.00,147.60 C152.67,147.72 154.13,147.93 156.00,148.30 C157.87,148.67 160.33,149.55 161.20,149.80" fill="none" stroke="#a0141c" stroke-width="3.9000000000000004" stroke-linecap="butt" stroke-linejoin="round"/>
<path d="M129.20,148.20 C131.00,148.10 136.53,147.70 140.00,147.60 C143.47,147.50 147.33,147.48 150.00,147.60 C152.67,147.72 154.13,147.93 156.00,148.30 C157.87,148.67 160.33,149.55 161.20,149.80" fill="none" stroke="#d83032" stroke-width="2.7" stroke-linecap="butt" stroke-linejoin="round"/>
<path d="M129.26,149.22 C131.05,149.12 136.58,148.72 140.03,148.62 C143.48,148.52 147.33,148.51 149.96,148.62 C152.58,148.74 153.98,148.94 155.80,149.30 C157.63,149.66 160.06,150.54 160.92,150.78" fill="none" stroke="#a0141c" stroke-width="0.70" stroke-opacity="0.75" stroke-linecap="butt"/>
<path d="M129.20,151.40 C130.67,151.88 135.20,153.40 138.00,154.30 C140.80,155.20 143.50,155.97 146.00,156.80 C148.50,157.63 150.75,158.55 153.00,159.30 C155.25,160.05 158.42,160.95 159.50,161.28" fill="none" stroke="#a0141c" stroke-width="4.5" stroke-linecap="butt" stroke-linejoin="round"/>
<path d="M129.20,151.40 C130.67,151.88 135.20,153.40 138.00,154.30 C140.80,155.20 143.50,155.97 146.00,156.80 C148.50,157.63 150.75,158.55 153.00,159.30 C155.25,160.05 158.42,160.95 159.50,161.28" fill="none" stroke="#d83032" stroke-width="3.3" stroke-linecap="butt" stroke-linejoin="round"/>
<path d="M128.82,152.55 C130.29,153.04 134.83,154.56 137.63,155.46 C140.43,156.36 143.12,157.12 145.62,157.95 C148.11,158.79 150.36,159.71 152.62,160.45 C154.87,161.20 158.06,162.11 159.15,162.44" fill="none" stroke="#a0141c" stroke-width="0.84" stroke-opacity="0.75" stroke-linecap="butt"/>
<path d="M158.56,164.37 L163.79,162.59 L160.44,158.19Z" fill="#d83032" stroke="#a0141c" stroke-width="0.5" stroke-linejoin="round"/>
<path d="M133.15,162.90 C133.46,162.95 133.02,162.77 135.00,163.20 C136.98,163.63 142.00,164.40 145.00,165.50 C148.00,166.60 150.08,168.30 153.00,169.80 C155.92,171.30 160.92,173.72 162.50,174.50" fill="none" stroke="#4fa42c" stroke-width="5.9" stroke-linecap="butt" stroke-linejoin="round"/>
<path d="M133.15,162.90 C133.46,162.95 133.02,162.77 135.00,163.20 C136.98,163.63 142.00,164.40 145.00,165.50 C148.00,166.60 150.08,168.30 153.00,169.80 C155.92,171.30 160.92,173.72 162.50,174.50" fill="none" stroke="#8af24c" stroke-width="4.7" stroke-linecap="butt" stroke-linejoin="round"/>
<path d="M132.89,164.55 C133.18,164.59 132.72,164.41 134.64,164.83 C136.57,165.24 141.49,165.99 144.43,167.06 C147.36,168.14 149.35,169.79 152.24,171.28 C155.13,172.77 160.17,175.21 161.76,175.99" fill="none" stroke="#4fa42c" stroke-width="1.14" stroke-opacity="0.75" stroke-linecap="butt"/>
<path d="M133.85,158.54 L127.20,161.95 L132.45,167.27Z" fill="#8af24c" stroke="#4fa42c" stroke-width="0.5" stroke-linejoin="round"/>
<path d="M125.80,171.70 C127.33,171.97 131.80,172.67 135.00,173.30 C138.20,173.93 142.23,174.82 145.00,175.50 C147.77,176.18 150.50,177.08 151.60,177.40" fill="none" stroke="#a0141c" stroke-width="4.5" stroke-linecap="butt" stroke-linejoin="round"/>
<path d="M125.80,171.70 C127.33,171.97 131.80,172.67 135.00,173.30 C138.20,173.93 142.23,174.82 145.00,175.50 C147.77,176.18 150.50,177.08 151.60,177.40" fill="none" stroke="#d83032" stroke-width="3.3" stroke-linecap="butt" stroke-linejoin="round"/>
<path d="M125.59,172.90 C127.12,173.16 131.58,173.86 134.76,174.49 C137.95,175.12 141.96,176.00 144.71,176.68 C147.46,177.36 150.17,178.25 151.26,178.57" fill="none" stroke="#a0141c" stroke-width="0.84" stroke-opacity="0.75" stroke-linecap="butt"/>
<path d="M151.60,177.40 L157.00,178.20" fill="none" stroke="#4fa42c" stroke-width="3.0999999999999996" stroke-linecap="butt" stroke-linejoin="round"/>
<path d="M151.60,177.40 L157.00,178.20" fill="none" stroke="#8af24c" stroke-width="1.9" stroke-linecap="butt" stroke-linejoin="round"/>
<path d="M151.49,178.16 L156.89,178.96" fill="none" stroke="#4fa42c" stroke-width="0.60" stroke-opacity="0.75" stroke-linecap="butt"/>
<path d="M181.20,158.80 C181.75,159.08 183.57,159.63 184.50,160.50 C185.43,161.37 186.18,162.83 186.80,164.00 C187.42,165.17 188.25,166.33 188.20,167.50 C188.15,168.67 187.28,170.15 186.50,171.00 C185.72,171.85 184.67,172.52 183.50,172.60 C182.33,172.68 180.67,172.10 179.50,171.50 C178.33,170.90 176.95,169.78 176.50,169.00 C176.05,168.22 176.30,167.25 176.80,166.80 C177.30,166.35 178.58,166.47 179.50,166.30 C180.42,166.13 181.88,166.35 182.30,165.80 C182.72,165.25 182.30,163.88 182.00,163.00 C181.70,162.12 180.75,160.92 180.50,160.50Z" fill="#8af24c" stroke="#4fa42c" stroke-width="0.6"/></g>
<g transform="translate(180.2,0)"><path d="M35.20,132.70 C35.40,131.55 36.00,126.98 36.40,125.80 C36.80,124.62 37.13,125.27 37.60,125.60 C38.07,125.93 38.38,127.38 39.20,127.80 C40.02,128.22 41.37,127.77 42.50,128.10 C43.63,128.43 45.13,128.93 46.00,129.80 C46.87,130.67 47.37,132.15 47.70,133.30 C48.03,134.45 47.95,136.13 48.00,136.70" fill="none" stroke="#4a4ae0" stroke-width="1.2" stroke-linecap="round" stroke-linejoin="round"/>
<path d="M57.50,131.80 C57.13,131.00 55.40,128.38 55.30,127.00 C55.20,125.62 56.05,124.18 56.90,123.50 C57.75,122.82 59.43,122.62 60.40,122.90 C61.37,123.18 62.52,124.23 62.70,125.20 C62.88,126.17 62.27,127.68 61.50,128.70 C60.73,129.72 58.82,130.70 58.10,131.30 C57.38,131.90 56.92,131.88 57.20,132.30 C57.48,132.72 58.78,133.07 59.80,133.80 C60.82,134.53 62.35,135.67 63.30,136.70 C64.25,137.73 64.88,138.87 65.50,140.00 C66.12,141.13 66.75,142.92 67.00,143.50" fill="none" stroke="#84e052" stroke-width="1.2" stroke-linecap="round" stroke-linejoin="round"/>
<path d="M35.20,133.80 C35.68,134.38 37.23,136.23 38.10,137.30 C38.97,138.37 40.02,139.72 40.40,140.20" fill="none" stroke="#84e052" stroke-width="1.1" stroke-linecap="round" stroke-linejoin="round"/>
<path d="M21.50,142.50 C22.00,142.67 23.50,143.17 24.50,143.50 C25.50,143.83 27.00,144.33 27.50,144.50" fill="none" stroke="#84e052" stroke-width="1.1" stroke-linecap="round" stroke-linejoin="round"/>
<path d="M43.10,170.20 C43.02,171.00 42.12,173.72 42.60,175.00 C43.08,176.28 44.00,177.27 46.00,177.90 C48.00,178.53 51.88,178.97 54.60,178.80 C57.32,178.63 59.73,177.53 62.30,176.90 C64.87,176.27 68.72,175.32 70.00,175.00" fill="none" stroke="#84e052" stroke-width="1.2" stroke-linecap="round" stroke-linejoin="round"/>
<path d="M48.00,171.00 C48.67,171.33 50.33,172.58 52.00,173.00 C53.67,173.42 56.00,173.58 58.00,173.50 C60.00,173.42 62.00,172.75 64.00,172.50 C66.00,172.25 69.00,172.08 70.00,172.00" fill="none" stroke="#84e052" stroke-width="1.0" stroke-linecap="round" stroke-linejoin="round"/>
<path d="M60.00,167.30 C60.48,168.10 61.30,170.33 62.90,172.10 C64.50,173.87 66.88,176.45 69.60,177.90 C72.32,179.35 77.60,180.32 79.20,180.80" fill="none" stroke="#84e052" stroke-width="1.2" stroke-linecap="round" stroke-linejoin="round"/>
<path d="M65.80,181.70 C66.75,181.87 68.78,182.70 71.50,182.70 C74.22,182.70 80.33,181.87 82.10,181.70" fill="none" stroke="#84e052" stroke-width="1.1" stroke-linecap="round" stroke-linejoin="round"/>
<path d="M58.80,149.20 C59.45,149.72 61.17,151.78 62.70,152.30 C64.23,152.82 66.72,152.55 68.00,152.30 C69.28,152.05 70.00,151.05 70.40,150.80" fill="none" stroke="#84e052" stroke-width="1.1" stroke-linecap="round" stroke-linejoin="round"/>
<path d="M60.00,152.90 C60.97,153.22 63.55,154.17 65.80,154.80 C68.05,155.43 72.22,156.38 73.50,156.70" fill="none" stroke="#84e052" stroke-width="1.1" stroke-linecap="round" stroke-linejoin="round"/>
<path d="M85.00,159.60 C85.50,159.45 86.83,159.13 88.00,158.70 C89.17,158.27 90.58,157.40 92.00,157.00 C93.42,156.60 95.27,156.18 96.50,156.30 C97.73,156.42 98.88,157.08 99.40,157.70 C99.92,158.32 99.60,159.37 99.60,160.00 C99.60,160.63 99.92,160.92 99.40,161.50 C98.88,162.08 97.45,163.02 96.50,163.50 C95.55,163.98 94.17,164.25 93.70,164.40" fill="none" stroke="#84e052" stroke-width="1.2" stroke-linecap="round" stroke-linejoin="round"/>
<path d="M90.80,165.40 C91.67,165.17 94.40,164.32 96.00,164.00 C97.60,163.68 99.03,163.27 100.40,163.50 C101.77,163.73 103.68,164.32 104.20,165.40 C104.72,166.48 103.82,168.23 103.50,170.00 C103.18,171.77 103.13,174.68 102.30,176.00 C101.47,177.32 99.13,177.58 98.50,177.90" fill="none" stroke="#84e052" stroke-width="1.2" stroke-linecap="round" stroke-linejoin="round"/>
<path d="M82.90,140.20 C83.50,140.25 85.53,139.95 86.50,140.50 C87.47,141.05 88.40,142.25 88.70,143.50 C89.00,144.75 88.95,146.63 88.30,148.00 C87.65,149.37 85.38,151.08 84.80,151.70" fill="none" stroke="#84e052" stroke-width="1.2" stroke-linecap="round" stroke-linejoin="round"/>
<path d="M64.00,143.50 C64.67,144.00 66.67,145.67 68.00,146.50 C69.33,147.33 71.33,148.17 72.00,148.50" fill="none" stroke="#84e052" stroke-width="1.1" stroke-linecap="round" stroke-linejoin="round"/>
<path d="M101.30,176.90 C101.95,177.55 103.75,179.67 105.20,180.80 C106.65,181.93 109.20,183.22 110.00,183.70" fill="none" stroke="#84e052" stroke-width="1.1" stroke-linecap="round" stroke-linejoin="round"/>
<path d="M19.00,133.20 C19.32,132.82 20.05,131.58 20.90,130.90 C21.75,130.22 23.10,129.17 24.10,129.10 C25.10,129.03 25.75,129.97 26.90,130.50 C28.05,131.03 29.88,131.88 31.00,132.30 C32.12,132.72 33.28,132.68 33.60,133.00 C33.92,133.32 33.57,133.78 32.90,134.20 C32.23,134.62 30.53,135.28 29.60,135.50 C28.67,135.72 28.13,135.53 27.30,135.50 C26.47,135.47 25.13,134.92 24.60,135.30 C24.07,135.68 24.22,136.60 24.10,137.80 C23.98,139.00 24.37,141.57 23.90,142.50 C23.43,143.43 21.92,143.78 21.30,143.40 C20.68,143.02 20.42,141.43 20.20,140.20 C19.98,138.97 20.03,136.70 20.00,136.00Z" fill="#3c3ce8" stroke="#2c2ca8" stroke-width="0.6"/>
<path d="M33.30,133.50 C32.30,133.53 28.75,133.12 27.30,133.70 C25.85,134.28 24.98,135.70 24.60,137.00 C24.22,138.30 24.30,140.28 25.00,141.50 C25.70,142.72 28.17,143.83 28.80,144.30" fill="none" stroke="#84e052" stroke-width="1.2" stroke-linecap="round" stroke-linejoin="round"/>
<path d="M29.00,144.90 C30.00,145.98 32.83,149.05 35.00,151.40 C37.17,153.75 40.83,157.73 42.00,159.00" fill="none" stroke="#4fa42c" stroke-width="5.1000000000000005" stroke-linecap="butt" stroke-linejoin="round"/>
<path d="M29.00,144.90 C30.00,145.98 32.83,149.05 35.00,151.40 C37.17,153.75 40.83,157.73 42.00,159.00" fill="none" stroke="#8af24c" stroke-width="3.9000000000000004" stroke-linecap="butt" stroke-linejoin="round"/>
<path d="M27.97,145.86 C28.97,146.94 31.80,150.00 33.96,152.35 C36.13,154.70 39.80,158.69 40.96,159.95" fill="none" stroke="#4fa42c" stroke-width="0.97" stroke-opacity="0.75" stroke-linecap="butt"/>
<path d="M58.50,168.50 C57.92,167.50 56.25,164.50 55.00,162.50 C53.75,160.50 52.50,158.58 51.00,156.50 C49.50,154.42 47.70,152.22 46.00,150.00 C44.30,147.78 41.48,144.07 40.80,143.20 C40.12,142.33 41.74,144.54 41.92,144.80" fill="none" stroke="#4fa42c" stroke-width="4.7" stroke-linecap="butt" stroke-linejoin="round"/>
<path d="M58.50,168.50 C57.92,167.50 56.25,164.50 55.00,162.50 C53.75,160.50 52.50,158.58 51.00,156.50 C49.50,154.42 47.70,152.22 46.00,150.00 C44.30,147.78 41.48,144.07 40.80,143.20 C40.12,142.33 41.74,144.54 41.92,144.80" fill="none" stroke="#8af24c" stroke-width="3.5" stroke-linecap="butt" stroke-linejoin="round"/>
<path d="M57.39,169.14 C56.81,168.15 55.15,165.16 53.91,163.18 C52.68,161.20 51.45,159.31 49.96,157.25 C48.47,155.18 46.68,152.99 44.98,150.78 C43.29,148.57 40.48,144.86 39.79,143.99 C39.11,143.12 40.69,145.28 40.87,145.54" fill="none" stroke="#4fa42c" stroke-width="0.88" stroke-opacity="0.75" stroke-linecap="butt"/>
<path d="M44.71,142.85 L39.23,140.95 L39.14,146.75Z" fill="#8af24c" stroke="#4fa42c" stroke-width="0.5" stroke-linejoin="round"/>
<path d="M47.30,137.70 C47.92,138.67 49.72,141.45 51.00,143.50 C52.28,145.55 53.78,147.87 55.00,150.00 C56.22,152.13 57.75,155.25 58.30,156.30" fill="none" stroke="#2c2ca8" stroke-width="4.4" stroke-linecap="butt" stroke-linejoin="round"/>
<path d="M47.30,137.70 C47.92,138.67 49.72,141.45 51.00,143.50 C52.28,145.55 53.78,147.87 55.00,150.00 C56.22,152.13 57.75,155.25 58.30,156.30" fill="none" stroke="#3c3ce8" stroke-width="3.2" stroke-linecap="butt" stroke-linejoin="round"/>
<path d="M46.30,138.34 C46.92,139.30 48.72,142.09 50.00,144.13 C51.27,146.17 52.76,148.47 53.97,150.59 C55.18,152.71 56.70,155.81 57.25,156.85" fill="none" stroke="#2c2ca8" stroke-width="0.81" stroke-opacity="0.75" stroke-linecap="butt"/>
<path d="M58.50,156.50 C58.82,157.22 59.70,158.55 60.40,160.80 C61.10,163.05 62.32,168.47 62.70,170.00" fill="none" stroke="#4fa42c" stroke-width="4.3" stroke-linecap="butt" stroke-linejoin="round"/>
<path d="M58.50,156.50 C58.82,157.22 59.70,158.55 60.40,160.80 C61.10,163.05 62.32,168.47 62.70,170.00" fill="none" stroke="#8af24c" stroke-width="3.1" stroke-linecap="butt" stroke-linejoin="round"/>
<path d="M57.45,156.97 C57.76,157.66 58.61,158.92 59.30,161.14 C59.99,163.36 61.20,168.76 61.58,170.28" fill="none" stroke="#4fa42c" stroke-width="0.79" stroke-opacity="0.75" stroke-linecap="butt"/>
<path d="M42.10,150.00 C42.75,150.58 44.40,152.22 46.00,153.50 C47.60,154.78 50.03,156.20 51.70,157.70 C53.37,159.20 54.55,160.90 56.00,162.50 C57.45,164.10 58.90,165.63 60.40,167.30 C61.90,168.97 63.40,170.80 65.00,172.50 C66.60,174.20 69.17,176.67 70.00,177.50" fill="none" stroke="#4fa42c" stroke-width="4.1" stroke-linecap="butt" stroke-linejoin="round"/>
<path d="M42.10,150.00 C42.75,150.58 44.40,152.22 46.00,153.50 C47.60,154.78 50.03,156.20 51.70,157.70 C53.37,159.20 54.55,160.90 56.00,162.50 C57.45,164.10 58.90,165.63 60.40,167.30 C61.90,168.97 63.40,170.80 65.00,172.50 C66.60,174.20 69.17,176.67 70.00,177.50" fill="none" stroke="#8af24c" stroke-width="2.9" stroke-linecap="butt" stroke-linejoin="round"/>
<path d="M41.37,150.81 C42.03,151.40 43.72,153.07 45.32,154.35 C46.92,155.63 49.33,157.03 50.97,158.51 C52.62,159.99 53.76,161.64 55.19,163.23 C56.63,164.82 58.09,166.36 59.59,168.03 C61.09,169.70 62.60,171.54 64.21,173.25 C65.81,174.95 68.39,177.43 69.23,178.27" fill="none" stroke="#4fa42c" stroke-width="0.75" stroke-opacity="0.75" stroke-linecap="butt"/>
<path d="M44.00,159.00 C45.00,159.17 48.07,159.70 50.00,160.00 C51.93,160.30 53.93,160.43 55.60,160.80 C57.27,161.17 58.47,161.72 60.00,162.20 C61.53,162.68 64.00,163.45 64.80,163.70" fill="none" stroke="#2c2ca8" stroke-width="3.7" stroke-linecap="butt" stroke-linejoin="round"/>
<path d="M44.00,159.00 C45.00,159.17 48.07,159.70 50.00,160.00 C51.93,160.30 53.93,160.43 55.60,160.80 C57.27,161.17 58.47,161.72 60.00,162.20 C61.53,162.68 64.00,163.45 64.80,163.70" fill="none" stroke="#3c3ce8" stroke-width="2.5" stroke-linecap="butt" stroke-linejoin="round"/>
<path d="M43.84,159.95 C44.84,160.11 47.93,160.65 49.85,160.95 C51.78,161.25 53.75,161.38 55.39,161.74 C57.04,162.10 58.19,162.64 59.71,163.12 C61.23,163.60 63.71,164.37 64.51,164.62" fill="none" stroke="#2c2ca8" stroke-width="0.66" stroke-opacity="0.75" stroke-linecap="butt"/>
<path d="M64.80,163.70 C65.67,163.75 67.88,163.87 70.00,164.00 C72.12,164.13 76.25,164.42 77.50,164.50" fill="none" stroke="#4a4ae0" stroke-width="1.2" stroke-linecap="round" stroke-linejoin="round"/>
<path d="M47.90,164.40 C48.17,165.00 49.02,166.87 49.50,168.00 C49.98,169.13 50.58,170.67 50.80,171.20" fill="none" stroke="#4fa42c" stroke-width="3.0999999999999996" stroke-linecap="butt" stroke-linejoin="round"/>
<path d="M47.90,164.40 C48.17,165.00 49.02,166.87 49.50,168.00 C49.98,169.13 50.58,170.67 50.80,171.20" fill="none" stroke="#8af24c" stroke-width="1.9" stroke-linecap="butt" stroke-linejoin="round"/>
<path d="M47.20,164.71 C47.46,165.31 48.31,167.17 48.79,168.30 C49.28,169.43 49.87,170.96 50.09,171.49" fill="none" stroke="#4fa42c" stroke-width="0.60" stroke-opacity="0.75" stroke-linecap="butt"/>
<path d="M53.00,140.00 C53.58,139.77 55.25,138.63 56.50,138.60 C57.75,138.57 59.47,138.98 60.50,139.80 C61.53,140.62 62.53,142.27 62.70,143.50 C62.87,144.73 62.45,146.42 61.50,147.20 C60.55,147.98 58.28,148.48 57.00,148.20 C55.72,147.92 54.33,145.95 53.80,145.50Z" fill="#98e86a" stroke="#6cbf44" stroke-width="0.6"/>
<path d="M40.20,155.80 C40.75,156.53 43.18,158.58 43.50,160.20 C43.82,161.82 42.93,164.20 42.10,165.50 C41.27,166.80 39.10,167.17 38.50,168.00 C37.90,168.83 38.50,170.08 38.50,170.50" fill="none" stroke="#4fa42c" stroke-width="4.1" stroke-linecap="butt" stroke-linejoin="round"/>
<path d="M40.20,155.80 C40.75,156.53 43.18,158.58 43.50,160.20 C43.82,161.82 42.93,164.20 42.10,165.50 C41.27,166.80 39.10,167.17 38.50,168.00 C37.90,168.83 38.50,170.08 38.50,170.50" fill="none" stroke="#8af24c" stroke-width="2.9" stroke-linecap="butt" stroke-linejoin="round"/>
<path d="M39.33,156.45 C39.85,157.11 41.82,158.80 42.43,160.41 C43.05,162.01 43.52,164.72 43.02,166.09 C42.51,167.46 40.32,167.90 39.38,168.64 C38.45,169.37 37.74,170.19 37.41,170.50" fill="none" stroke="#4fa42c" stroke-width="0.75" stroke-opacity="0.75" stroke-linecap="butt"/>
<path d="M43.60,161.00 C43.38,161.67 43.03,163.90 42.30,165.00 C41.57,166.10 39.72,167.17 39.20,167.60" fill="none" stroke="#3f8f22" stroke-width="0.8999999999999999" stroke-linecap="butt" stroke-linejoin="round"/>
<path d="M63.50,143.80 C64.08,144.08 65.98,144.97 67.00,145.50 C68.02,146.03 68.77,146.38 69.60,147.00 C70.43,147.62 71.60,148.83 72.00,149.20" fill="none" stroke="#4fa42c" stroke-width="3.7" stroke-linecap="butt" stroke-linejoin="round"/>
<path d="M63.50,143.80 C64.08,144.08 65.98,144.97 67.00,145.50 C68.02,146.03 68.77,146.38 69.60,147.00 C70.43,147.62 71.60,148.83 72.00,149.20" fill="none" stroke="#8af24c" stroke-width="2.5" stroke-linecap="butt" stroke-linejoin="round"/>
<path d="M63.08,144.66 C63.66,144.94 65.56,145.83 66.55,146.35 C67.55,146.87 68.23,147.18 69.03,147.77 C69.83,148.36 70.96,149.55 71.35,149.91" fill="none" stroke="#4fa42c" stroke-width="0.66" stroke-opacity="0.75" stroke-linecap="butt"/>
<path d="M71.50,148.50 C72.00,147.92 73.33,145.72 74.50,145.00 C75.67,144.28 77.25,144.45 78.50,144.20 C79.75,143.95 80.83,143.45 82.00,143.50 C83.17,143.55 84.83,143.67 85.50,144.50 C86.17,145.33 86.17,147.17 86.00,148.50 C85.83,149.83 85.42,151.53 84.50,152.50 C83.58,153.47 81.83,154.08 80.50,154.30 C79.17,154.52 77.75,154.27 76.50,153.80 C75.25,153.33 73.58,151.88 73.00,151.50Z" fill="#8af24c" stroke="#4fa42c" stroke-width="0.6"/>
<path d="M73.50,150.00 C74.08,150.33 75.92,151.75 77.00,152.00 C78.08,152.25 79.50,151.58 80.00,151.50" fill="none" stroke="#3f8f22" stroke-width="1.1" stroke-linecap="butt" stroke-linejoin="round"/>
<path d="M82.00,143.80 C82.58,143.37 84.45,141.33 85.50,141.20 C86.55,141.07 87.80,141.95 88.30,143.00 C88.80,144.05 88.88,146.17 88.50,147.50 C88.12,148.83 86.42,150.42 86.00,151.00" fill="none" stroke="#84e052" stroke-width="1.3" stroke-linecap="round" stroke-linejoin="round"/>
<path d="M73.50,156.80 C74.42,157.03 77.08,157.73 79.00,158.20 C80.92,158.67 84.00,159.37 85.00,159.60" fill="none" stroke="#4fa42c" stroke-width="3.3" stroke-linecap="butt" stroke-linejoin="round"/>
<path d="M73.50,156.80 C74.42,157.03 77.08,157.73 79.00,158.20 C80.92,158.67 84.00,159.37 85.00,159.60" fill="none" stroke="#8af24c" stroke-width="2.1" stroke-linecap="butt" stroke-linejoin="round"/>
<path d="M73.29,157.61 C74.21,157.84 76.88,158.54 78.80,159.01 C80.72,159.48 83.81,160.18 84.81,160.41" fill="none" stroke="#4fa42c" stroke-width="0.60" stroke-opacity="0.75" stroke-linecap="butt"/>
<path d="M77.50,164.40 C78.17,164.50 80.15,164.77 81.50,165.00 C82.85,165.23 84.92,165.67 85.60,165.80" fill="none" stroke="#2c2ca8" stroke-width="3.5" stroke-linecap="butt" stroke-linejoin="round"/>
<path d="M77.50,164.40 C78.17,164.50 80.15,164.77 81.50,165.00 C82.85,165.23 84.92,165.67 85.60,165.80" fill="none" stroke="#3c3ce8" stroke-width="2.3" stroke-linecap="butt" stroke-linejoin="round"/>
<path d="M77.37,165.29 C78.03,165.39 80.00,165.65 81.35,165.88 C82.69,166.12 84.75,166.55 85.43,166.68" fill="none" stroke="#2c2ca8" stroke-width="0.62" stroke-opacity="0.75" stroke-linecap="butt"/>
<path d="M85.60,165.80 C86.00,165.78 87.13,165.77 88.00,165.70 C88.87,165.63 90.33,165.45 90.80,165.40" fill="none" stroke="#4fa42c" stroke-width="3.0999999999999996" stroke-linecap="butt" stroke-linejoin="round"/>
<path d="M85.60,165.80 C86.00,165.78 87.13,165.77 88.00,165.70 C88.87,165.63 90.33,165.45 90.80,165.40" fill="none" stroke="#8af24c" stroke-width="1.9" stroke-linecap="butt" stroke-linejoin="round"/>
<path d="M85.63,166.57 C86.04,166.55 87.18,166.53 88.06,166.47 C88.93,166.40 90.41,166.21 90.88,166.16" fill="none" stroke="#4fa42c" stroke-width="0.60" stroke-opacity="0.75" stroke-linecap="butt"/>
<path d="M79.00,173.50 C79.50,173.00 80.83,170.83 82.00,170.50 C83.17,170.17 84.92,170.83 86.00,171.50 C87.08,172.17 87.50,174.17 88.50,174.50 C89.50,174.83 91.45,174.33 92.00,173.50 C92.55,172.67 91.38,170.50 91.80,169.50 C92.22,168.50 93.55,167.50 94.50,167.50 C95.45,167.50 97.08,168.50 97.50,169.50 C97.92,170.50 97.67,172.33 97.00,173.50 C96.33,174.67 95.00,175.75 93.50,176.50 C92.00,177.25 89.75,177.58 88.00,178.00 C86.25,178.42 84.37,179.17 83.00,179.00 C81.63,178.83 80.33,177.33 79.80,177.00Z" fill="#8af24c" stroke="#4fa42c" stroke-width="0.6"/>
<path d="M80.50,175.50 C80.92,175.78 82.08,176.95 83.00,177.20 C83.92,177.45 85.50,177.03 86.00,177.00" fill="none" stroke="#3f8f22" stroke-width="0.8999999999999999" stroke-linecap="butt" stroke-linejoin="round"/>
<path d="M82.10,180.60 C83.08,180.80 86.18,181.65 88.00,181.80 C89.82,181.95 91.25,182.00 93.00,181.50 C94.75,181.00 97.12,179.57 98.50,178.80 C99.88,178.03 100.83,177.22 101.30,176.90" fill="none" stroke="#4fa42c" stroke-width="3.3" stroke-linecap="butt" stroke-linejoin="round"/>
<path d="M82.10,180.60 C83.08,180.80 86.18,181.65 88.00,181.80 C89.82,181.95 91.25,182.00 93.00,181.50 C94.75,181.00 97.12,179.57 98.50,178.80 C99.88,178.03 100.83,177.22 101.30,176.90" fill="none" stroke="#8af24c" stroke-width="2.1" stroke-linecap="butt" stroke-linejoin="round"/>
<path d="M81.93,181.42 C82.93,181.62 86.05,182.48 87.93,182.63 C89.81,182.78 91.40,182.82 93.23,182.30 C95.06,181.78 97.48,180.31 98.90,179.53 C100.33,178.74 101.29,177.91 101.77,177.59" fill="none" stroke="#4fa42c" stroke-width="0.60" stroke-opacity="0.75" stroke-linecap="butt"/>
<path d="M86.00,177.00 C86.67,176.87 88.50,176.37 90.00,176.20 C91.50,176.03 94.17,176.03 95.00,176.00" fill="none" stroke="#4fa42c" stroke-width="2.7" stroke-linecap="butt" stroke-linejoin="round"/>
<path d="M86.00,177.00 C86.67,176.87 88.50,176.37 90.00,176.20 C91.50,176.03 94.17,176.03 95.00,176.00" fill="none" stroke="#8af24c" stroke-width="1.5" stroke-linecap="butt" stroke-linejoin="round"/>
<path d="M86.13,177.63 C86.78,177.50 88.59,177.00 90.07,176.84 C91.55,176.67 94.20,176.67 95.03,176.64" fill="none" stroke="#4fa42c" stroke-width="0.60" stroke-opacity="0.75" stroke-linecap="butt"/>
<path d="M100.30,145.70 C100.42,145.38 100.55,144.07 101.00,143.80 C101.45,143.53 102.45,143.82 103.00,144.10 C103.55,144.38 104.38,145.02 104.30,145.50 C104.22,145.98 103.12,146.83 102.50,147.00 C101.88,147.17 100.57,146.87 100.60,146.50 C100.63,146.13 101.72,145.00 102.70,144.80 C103.68,144.60 105.70,144.43 106.50,145.30 C107.30,146.17 107.33,149.22 107.50,150.00" fill="none" stroke="#84e052" stroke-width="1.1" stroke-linecap="round" stroke-linejoin="round"/>
<path d="M106.00,145.60 C106.67,145.50 108.63,145.07 110.00,145.00 C111.37,144.93 112.85,144.85 114.20,145.20 C115.55,145.55 116.82,146.13 118.10,147.10 C119.38,148.07 120.13,150.35 121.90,151.00 C123.67,151.65 127.57,151.00 128.70,151.00" fill="none" stroke="#84e052" stroke-width="1.1" stroke-linecap="round" stroke-linejoin="round"/>
<path d="M126.70,137.50 C125.92,137.67 123.20,137.75 122.00,138.50 C120.80,139.25 119.75,140.67 119.50,142.00 C119.25,143.33 119.75,145.25 120.50,146.50 C121.25,147.75 122.58,149.00 124.00,149.50 C125.42,150.00 128.17,149.50 129.00,149.50" fill="none" stroke="#84e052" stroke-width="1.1" stroke-linecap="round" stroke-linejoin="round"/>
<path d="M112.30,157.50 C112.47,157.22 112.68,155.92 113.30,155.80 C113.92,155.68 115.20,156.17 116.00,156.80 C116.80,157.43 117.27,158.82 118.10,159.60 C118.93,160.38 119.68,161.18 121.00,161.50 C122.32,161.82 125.17,161.50 126.00,161.50" fill="none" stroke="#84e052" stroke-width="1.1" stroke-linecap="round" stroke-linejoin="round"/>
<path d="M112.00,157.50 C112.05,158.97 111.80,164.05 112.30,166.30 C112.80,168.55 114.03,169.55 115.00,171.00 C115.97,172.45 117.58,174.33 118.10,175.00" fill="none" stroke="#84e052" stroke-width="1.1" stroke-linecap="round" stroke-linejoin="round"/>
<path d="M118.50,172.50 C119.08,172.45 120.78,172.28 122.00,172.20 C123.22,172.12 125.17,172.03 125.80,172.00" fill="none" stroke="#84e052" stroke-width="1.1" stroke-linecap="round" stroke-linejoin="round"/>
<path d="M107.50,150.00 C107.18,150.33 106.08,150.88 105.60,152.00 C105.12,153.12 104.28,155.43 104.60,156.70 C104.92,157.97 106.53,159.38 107.50,159.60 C108.47,159.82 109.92,158.27 110.40,158.00" fill="none" stroke="#84e052" stroke-width="1.1" stroke-linecap="round" stroke-linejoin="round"/>
<path d="M96.00,182.00 C97.43,182.43 102.20,184.80 104.60,184.60 C107.00,184.40 108.80,181.12 110.40,180.80 C112.00,180.48 112.60,183.03 114.20,182.70 C115.80,182.37 117.92,179.77 120.00,178.80 C122.08,177.83 124.78,178.50 126.70,176.90 C128.62,175.30 130.70,170.48 131.50,169.20" fill="none" stroke="#84e052" stroke-width="1.1" stroke-linecap="round" stroke-linejoin="round"/>
<path d="M165.40,147.70 C166.17,147.83 168.82,148.12 170.00,148.50 C171.18,148.88 171.70,149.27 172.50,150.00 C173.30,150.73 174.52,151.65 174.80,152.90 C175.08,154.15 174.38,155.97 174.20,157.50 C174.02,159.03 174.27,161.05 173.70,162.10 C173.13,163.15 172.25,163.60 170.80,163.80 C169.35,164.00 165.97,163.38 165.00,163.30" fill="none" stroke="#84e052" stroke-width="1.2" stroke-linecap="round" stroke-linejoin="round"/>
<path d="M166.40,146.20 C167.33,146.08 170.07,145.45 172.00,145.50 C173.93,145.55 176.63,145.75 178.00,146.50 C179.37,147.25 179.77,148.83 180.20,150.00 C180.63,151.17 180.73,152.35 180.60,153.50 C180.47,154.65 180.27,156.13 179.40,156.90 C178.53,157.67 175.02,157.80 175.40,158.10 C175.78,158.40 180.65,158.60 181.70,158.70" fill="none" stroke="#84e052" stroke-width="1.2" stroke-linecap="round" stroke-linejoin="round"/>
<path d="M176.50,167.30 C176.32,168.27 176.17,171.17 175.40,173.10 C174.63,175.03 172.67,177.75 171.90,178.90 C171.13,180.05 171.18,180.48 170.80,180.00 C170.42,179.52 170.57,176.87 169.60,176.00 C168.63,175.13 165.77,175.00 165.00,174.80" fill="none" stroke="#84e052" stroke-width="1.2" stroke-linecap="round" stroke-linejoin="round"/>
<path d="M173.00,169.00 C172.17,169.47 169.50,171.13 168.00,171.80 C166.50,172.47 164.67,172.80 164.00,173.00" fill="none" stroke="#84e052" stroke-width="1.1" stroke-linecap="round" stroke-linejoin="round"/>
<path d="M152.00,177.50 C153.00,177.58 156.00,178.42 158.00,178.00 C160.00,177.58 163.00,175.50 164.00,175.00" fill="none" stroke="#84e052" stroke-width="1.1" stroke-linecap="round" stroke-linejoin="round"/>
<path d="M158.00,149.30 C158.83,149.38 161.60,149.77 163.00,149.80 C164.40,149.83 165.83,149.55 166.40,149.50" fill="none" stroke="#84e052" stroke-width="1.1" stroke-linecap="round" stroke-linejoin="round"/>
<path d="M131.00,158.40 C132.17,158.00 135.30,157.03 138.00,156.00 C140.70,154.97 144.63,153.20 147.20,152.20 C149.77,151.20 151.22,150.63 153.40,150.00 C155.58,149.37 159.15,148.67 160.30,148.40" fill="none" stroke="#6cbf44" stroke-width="3.5" stroke-linecap="butt" stroke-linejoin="round"/>
<path d="M131.00,158.40 C132.17,158.00 135.30,157.03 138.00,156.00 C140.70,154.97 144.63,153.20 147.20,152.20 C149.77,151.20 151.22,150.63 153.40,150.00 C155.58,149.37 159.15,148.67 160.30,148.40" fill="none" stroke="#98e86a" stroke-width="2.3" stroke-linecap="butt" stroke-linejoin="round"/>
<path d="M131.29,159.25 C132.46,158.85 135.61,157.87 138.32,156.84 C141.03,155.80 144.97,154.03 147.53,153.03 C150.08,152.04 151.49,151.49 153.65,150.86 C155.81,150.23 159.36,149.54 160.50,149.27" fill="none" stroke="#6cbf44" stroke-width="0.62" stroke-opacity="0.75" stroke-linecap="butt"/>
<path d="M131.30,137.80 C131.75,137.80 132.22,137.73 134.00,137.80 C135.78,137.87 139.33,137.90 142.00,138.20 C144.67,138.50 147.67,139.02 150.00,139.60 C152.33,140.18 154.17,140.92 156.00,141.70 C157.83,142.48 159.43,143.33 161.00,144.30 C162.57,145.27 164.67,146.97 165.40,147.50" fill="none" stroke="#4fa42c" stroke-width="4.7" stroke-linecap="butt" stroke-linejoin="round"/>
<path d="M131.30,137.80 C131.75,137.80 132.22,137.73 134.00,137.80 C135.78,137.87 139.33,137.90 142.00,138.20 C144.67,138.50 147.67,139.02 150.00,139.60 C152.33,140.18 154.17,140.92 156.00,141.70 C157.83,142.48 159.43,143.33 161.00,144.30 C162.57,145.27 164.67,146.97 165.40,147.50" fill="none" stroke="#8af24c" stroke-width="3.5" stroke-linecap="butt" stroke-linejoin="round"/>
<path d="M131.30,139.08 C131.74,139.08 132.19,139.01 133.95,139.08 C135.71,139.14 139.23,139.18 141.86,139.47 C144.48,139.77 147.42,140.27 149.69,140.84 C151.96,141.41 153.72,142.12 155.50,142.88 C157.27,143.63 158.80,144.45 160.33,145.39 C161.85,146.33 163.93,148.01 164.65,148.54" fill="none" stroke="#4fa42c" stroke-width="0.88" stroke-opacity="0.75" stroke-linecap="butt"/>
<path d="M131.30,134.40 L126.60,137.80 L131.30,141.20Z" fill="#8af24c" stroke="#4fa42c" stroke-width="0.5" stroke-linejoin="round"/>
<path d="M129.20,148.20 C131.00,148.10 136.53,147.70 140.00,147.60 C143.47,147.50 147.33,147.48 150.00,147.60 C152.67,147.72 154.13,147.93 156.00,148.30 C157.87,148.67 160.33,149.55 161.20,149.80" fill="none" stroke="#4fa42c" stroke-width="3.9000000000000004" stroke-linecap="butt" stroke-linejoin="round"/>
<path d="M129.20,148.20 C131.00,148.10 136.53,147.70 140.00,147.60 C143.47,147.50 147.33,147.48 150.00,147.60 C152.67,147.72 154.13,147.93 156.00,148.30 C157.87,148.67 160.33,149.55 161.20,149.80" fill="none" stroke="#8af24c" stroke-width="2.7" stroke-linecap="butt" stroke-linejoin="round"/>
<path d="M129.26,149.22 C131.05,149.12 136.58,148.72 140.03,148.62 C143.48,148.52 147.33,148.51 149.96,148.62 C152.58,148.74 153.98,148.94 155.80,149.30 C157.63,149.66 160.06,150.54 160.92,150.78" fill="none" stroke="#4fa42c" stroke-width="0.70" stroke-opacity="0.75" stroke-linecap="butt"/>
<path d="M129.20,151.40 C130.67,151.88 135.20,153.40 138.00,154.30 C140.80,155.20 143.50,155.97 146.00,156.80 C148.50,157.63 150.75,158.55 153.00,159.30 C155.25,160.05 158.42,160.95 159.50,161.28" fill="none" stroke="#4fa42c" stroke-width="4.5" stroke-linecap="butt" stroke-linejoin="round"/>
<path d="M129.20,151.40 C130.67,151.88 135.20,153.40 138.00,154.30 C140.80,155.20 143.50,155.97 146.00,156.80 C148.50,157.63 150.75,158.55 153.00,159.30 C155.25,160.05 158.42,160.95 159.50,161.28" fill="none" stroke="#8af24c" stroke-width="3.3" stroke-linecap="butt" stroke-linejoin="round"/>
<path d="M128.82,152.55 C130.29,153.04 134.83,154.56 137.63,155.46 C140.43,156.36 143.12,157.12 145.62,157.95 C148.11,158.79 150.36,159.71 152.62,160.45 C154.87,161.20 158.06,162.11 159.15,162.44" fill="none" stroke="#4fa42c" stroke-width="0.84" stroke-opacity="0.75" stroke-linecap="butt"/>
<path d="M158.56,164.37 L163.79,162.59 L160.44,158.19Z" fill="#8af24c" stroke="#4fa42c" stroke-width="0.5" stroke-linejoin="round"/>
<path d="M133.15,162.90 C133.46,162.95 133.02,162.77 135.00,163.20 C136.98,163.63 142.00,164.40 145.00,165.50 C148.00,166.60 150.08,168.30 153.00,169.80 C155.92,171.30 160.92,173.72 162.50,174.50" fill="none" stroke="#4fa42c" stroke-width="5.9" stroke-linecap="butt" stroke-linejoin="round"/>
<path d="M133.15,162.90 C133.46,162.95 133.02,162.77 135.00,163.20 C136.98,163.63 142.00,164.40 145.00,165.50 C148.00,166.60 150.08,168.30 153.00,169.80 C155.92,171.30 160.92,173.72 162.50,174.50" fill="none" stroke="#8af24c" stroke-width="4.7" stroke-linecap="butt" stroke-linejoin="round"/>
<path d="M132.89,164.55 C133.18,164.59 132.72,164.41 134.64,164.83 C136.57,165.24 141.49,165.99 144.43,167.06 C147.36,168.14 149.35,169.79 152.24,171.28 C155.13,172.77 160.17,175.21 161.76,175.99" fill="none" stroke="#4fa42c" stroke-width="1.14" stroke-opacity="0.75" stroke-linecap="butt"/>
<path d="M133.85,158.54 L127.20,161.95 L132.45,167.27Z" fill="#8af24c" stroke="#4fa42c" stroke-width="0.5" stroke-linejoin="round"/>
<path d="M125.80,171.70 C127.33,171.97 131.80,172.67 135.00,173.30 C138.20,173.93 142.23,174.82 145.00,175.50 C147.77,176.18 150.50,177.08 151.60,177.40" fill="none" stroke="#4fa42c" stroke-width="4.5" stroke-linecap="butt" stroke-linejoin="round"/>
<path d="M125.80,171.70 C127.33,171.97 131.80,172.67 135.00,173.30 C138.20,173.93 142.23,174.82 145.00,175.50 C147.77,176.18 150.50,177.08 151.60,177.40" fill="none" stroke="#8af24c" stroke-width="3.3" stroke-linecap="butt" stroke-linejoin="round"/>
<path d="M125.59,172.90 C127.12,173.16 131.58,173.86 134.76,174.49 C137.95,175.12 141.96,176.00 144.71,176.68 C147.46,177.36 150.17,178.25 151.26,178.57" fill="none" stroke="#4fa42c" stroke-width="0.84" stroke-opacity="0.75" stroke-linecap="butt"/>
<path d="M151.60,177.40 L157.00,178.20" fill="none" stroke="#4fa42c" stroke-width="3.0999999999999996" stroke-linecap="butt" stroke-linejoin="round"/>
<path d="M151.60,177.40 L157.00,178.20" fill="none" stroke="#8af24c" stroke-width="1.9" stroke-linecap="butt" stroke-linejoin="round"/>
<path d="M151.49,178.16 L156.89,178.96" fill="none" stroke="#4fa42c" stroke-width="0.60" stroke-opacity="0.75" stroke-linecap="butt"/>
<path d="M181.20,158.80 C181.75,159.08 183.57,159.63 184.50,160.50 C185.43,161.37 186.18,162.83 186.80,164.00 C187.42,165.17 188.25,166.33 188.20,167.50 C188.15,168.67 187.28,170.15 186.50,171.00 C185.72,171.85 184.67,172.52 183.50,172.60 C182.33,172.68 180.67,172.10 179.50,171.50 C178.33,170.90 176.95,169.78 176.50,169.00 C176.05,168.22 176.30,167.25 176.80,166.80 C177.30,166.35 178.58,166.47 179.50,166.30 C180.42,166.13 181.88,166.35 182.30,165.80 C182.72,165.25 182.30,163.88 182.00,163.00 C181.70,162.12 180.75,160.92 180.50,160.50Z" fill="#8af24c" stroke="#4fa42c" stroke-width="0.6"/></g></g>
<text x="70.1" y="234.3" font-size="8.7" font-weight="normal" fill="#222" text-anchor="start" textLength="41.7" lengthAdjust="spacingAndGlyphs"  stroke="#222" stroke-width="0.1">KG-1 "CC"</text>
<line x1="39.2" y1="241.5" x2="39.2" y2="317.7" stroke="#1a1a1a" stroke-width="1.3"/>
<line x1="35.7" y1="317.20" x2="39.2" y2="317.20" stroke="#1a1a1a" stroke-width="0.9"/>
<text x="32.9" y="319.60" font-size="6.7" font-weight="normal" fill="#222" text-anchor="end" letter-spacing="0.3" stroke="#222" stroke-width="0.1">0</text>
<line x1="37.2" y1="309.93" x2="39.2" y2="309.93" stroke="#1a1a1a" stroke-width="0.8"/>
<line x1="35.7" y1="302.66" x2="39.2" y2="302.66" stroke="#1a1a1a" stroke-width="0.9"/>
<text x="32.9" y="305.06" font-size="6.7" font-weight="normal" fill="#222" text-anchor="end" letter-spacing="0.3" stroke="#222" stroke-width="0.1">20</text>
<line x1="37.2" y1="295.39" x2="39.2" y2="295.39" stroke="#1a1a1a" stroke-width="0.8"/>
<line x1="35.7" y1="288.12" x2="39.2" y2="288.12" stroke="#1a1a1a" stroke-width="0.9"/>
<text x="32.9" y="290.52" font-size="6.7" font-weight="normal" fill="#222" text-anchor="end" letter-spacing="0.3" stroke="#222" stroke-width="0.1">40</text>
<line x1="37.2" y1="280.85" x2="39.2" y2="280.85" stroke="#1a1a1a" stroke-width="0.8"/>
<line x1="35.7" y1="273.58" x2="39.2" y2="273.58" stroke="#1a1a1a" stroke-width="0.9"/>
<text x="32.9" y="275.98" font-size="6.7" font-weight="normal" fill="#222" text-anchor="end" letter-spacing="0.3" stroke="#222" stroke-width="0.1">60</text>
<line x1="37.2" y1="266.31" x2="39.2" y2="266.31" stroke="#1a1a1a" stroke-width="0.8"/>
<line x1="35.7" y1="259.04" x2="39.2" y2="259.04" stroke="#1a1a1a" stroke-width="0.9"/>
<text x="32.9" y="261.44" font-size="6.7" font-weight="normal" fill="#222" text-anchor="end" letter-spacing="0.3" stroke="#222" stroke-width="0.1">80</text>
<line x1="37.2" y1="251.77" x2="39.2" y2="251.77" stroke="#1a1a1a" stroke-width="0.8"/>
<line x1="35.7" y1="244.50" x2="39.2" y2="244.50" stroke="#1a1a1a" stroke-width="0.9"/>
<text x="32.9" y="246.90" font-size="6.7" font-weight="normal" fill="#222" text-anchor="end" letter-spacing="0.3" stroke="#222" stroke-width="0.1">100</text>
<line x1="38.7" y1="317.7" x2="143.5" y2="317.7" stroke="#1a1a1a" stroke-width="1.1"/>
<line x1="38.80" y1="317.7" x2="38.80" y2="320.90" stroke="#1a1a1a" stroke-width="0.6"/>
<line x1="41.86" y1="317.7" x2="41.86" y2="319.20" stroke="#1a1a1a" stroke-width="0.6"/>
<line x1="43.64" y1="317.7" x2="43.64" y2="319.20" stroke="#1a1a1a" stroke-width="0.6"/>
<line x1="44.91" y1="317.7" x2="44.91" y2="319.20" stroke="#1a1a1a" stroke-width="0.6"/>
<line x1="45.89" y1="317.7" x2="45.89" y2="319.20" stroke="#1a1a1a" stroke-width="0.6"/>
<line x1="46.70" y1="317.7" x2="46.70" y2="319.20" stroke="#1a1a1a" stroke-width="0.6"/>
<line x1="47.38" y1="317.7" x2="47.38" y2="319.20" stroke="#1a1a1a" stroke-width="0.6"/>
<line x1="47.97" y1="317.7" x2="47.97" y2="319.20" stroke="#1a1a1a" stroke-width="0.6"/>
<line x1="48.49" y1="317.7" x2="48.49" y2="319.20" stroke="#1a1a1a" stroke-width="0.6"/>
<line x1="48.95" y1="317.7" x2="48.95" y2="319.70" stroke="#1a1a1a" stroke-width="0.6"/>
<line x1="52.01" y1="317.7" x2="52.01" y2="319.20" stroke="#1a1a1a" stroke-width="0.6"/>
<line x1="53.79" y1="317.7" x2="53.79" y2="319.20" stroke="#1a1a1a" stroke-width="0.6"/>
<line x1="55.06" y1="317.7" x2="55.06" y2="319.20" stroke="#1a1a1a" stroke-width="0.6"/>
<line x1="56.04" y1="317.7" x2="56.04" y2="319.20" stroke="#1a1a1a" stroke-width="0.6"/>
<line x1="56.85" y1="317.7" x2="56.85" y2="319.20" stroke="#1a1a1a" stroke-width="0.6"/>
<line x1="57.53" y1="317.7" x2="57.53" y2="319.20" stroke="#1a1a1a" stroke-width="0.6"/>
<line x1="58.12" y1="317.7" x2="58.12" y2="319.20" stroke="#1a1a1a" stroke-width="0.6"/>
<line x1="58.64" y1="317.7" x2="58.64" y2="319.20" stroke="#1a1a1a" stroke-width="0.6"/>
<line x1="59.10" y1="317.7" x2="59.10" y2="320.90" stroke="#1a1a1a" stroke-width="0.6"/>
<line x1="62.16" y1="317.7" x2="62.16" y2="319.20" stroke="#1a1a1a" stroke-width="0.6"/>
<line x1="63.94" y1="317.7" x2="63.94" y2="319.20" stroke="#1a1a1a" stroke-width="0.6"/>
<line x1="65.21" y1="317.7" x2="65.21" y2="319.20" stroke="#1a1a1a" stroke-width="0.6"/>
<line x1="66.19" y1="317.7" x2="66.19" y2="319.20" stroke="#1a1a1a" stroke-width="0.6"/>
<line x1="67.00" y1="317.7" x2="67.00" y2="319.20" stroke="#1a1a1a" stroke-width="0.6"/>
<line x1="67.68" y1="317.7" x2="67.68" y2="319.20" stroke="#1a1a1a" stroke-width="0.6"/>
<line x1="68.27" y1="317.7" x2="68.27" y2="319.20" stroke="#1a1a1a" stroke-width="0.6"/>
<line x1="68.79" y1="317.7" x2="68.79" y2="319.20" stroke="#1a1a1a" stroke-width="0.6"/>
<line x1="69.25" y1="317.7" x2="69.25" y2="319.70" stroke="#1a1a1a" stroke-width="0.6"/>
<line x1="72.31" y1="317.7" x2="72.31" y2="319.20" stroke="#1a1a1a" stroke-width="0.6"/>
<line x1="74.09" y1="317.7" x2="74.09" y2="319.20" stroke="#1a1a1a" stroke-width="0.6"/>
<line x1="75.36" y1="317.7" x2="75.36" y2="319.20" stroke="#1a1a1a" stroke-width="0.6"/>
<line x1="76.34" y1="317.7" x2="76.34" y2="319.20" stroke="#1a1a1a" stroke-width="0.6"/>
<line x1="77.15" y1="317.7" x2="77.15" y2="319.20" stroke="#1a1a1a" stroke-width="0.6"/>
<line x1="77.83" y1="317.7" x2="77.83" y2="319.20" stroke="#1a1a1a" stroke-width="0.6"/>
<line x1="78.42" y1="317.7" x2="78.42" y2="319.20" stroke="#1a1a1a" stroke-width="0.6"/>
<line x1="78.94" y1="317.7" x2="78.94" y2="319.20" stroke="#1a1a1a" stroke-width="0.6"/>
<line x1="79.40" y1="317.7" x2="79.40" y2="320.90" stroke="#1a1a1a" stroke-width="0.6"/>
<line x1="82.46" y1="317.7" x2="82.46" y2="319.20" stroke="#1a1a1a" stroke-width="0.6"/>
<line x1="84.24" y1="317.7" x2="84.24" y2="319.20" stroke="#1a1a1a" stroke-width="0.6"/>
<line x1="85.51" y1="317.7" x2="85.51" y2="319.20" stroke="#1a1a1a" stroke-width="0.6"/>
<line x1="86.49" y1="317.7" x2="86.49" y2="319.20" stroke="#1a1a1a" stroke-width="0.6"/>
<line x1="87.30" y1="317.7" x2="87.30" y2="319.20" stroke="#1a1a1a" stroke-width="0.6"/>
<line x1="87.98" y1="317.7" x2="87.98" y2="319.20" stroke="#1a1a1a" stroke-width="0.6"/>
<line x1="88.57" y1="317.7" x2="88.57" y2="319.20" stroke="#1a1a1a" stroke-width="0.6"/>
<line x1="89.09" y1="317.7" x2="89.09" y2="319.20" stroke="#1a1a1a" stroke-width="0.6"/>
<line x1="89.55" y1="317.7" x2="89.55" y2="319.70" stroke="#1a1a1a" stroke-width="0.6"/>
<line x1="92.61" y1="317.7" x2="92.61" y2="319.20" stroke="#1a1a1a" stroke-width="0.6"/>
<line x1="94.39" y1="317.7" x2="94.39" y2="319.20" stroke="#1a1a1a" stroke-width="0.6"/>
<line x1="95.66" y1="317.7" x2="95.66" y2="319.20" stroke="#1a1a1a" stroke-width="0.6"/>
<line x1="96.64" y1="317.7" x2="96.64" y2="319.20" stroke="#1a1a1a" stroke-width="0.6"/>
<line x1="97.45" y1="317.7" x2="97.45" y2="319.20" stroke="#1a1a1a" stroke-width="0.6"/>
<line x1="98.13" y1="317.7" x2="98.13" y2="319.20" stroke="#1a1a1a" stroke-width="0.6"/>
<line x1="98.72" y1="317.7" x2="98.72" y2="319.20" stroke="#1a1a1a" stroke-width="0.6"/>
<line x1="99.24" y1="317.7" x2="99.24" y2="319.20" stroke="#1a1a1a" stroke-width="0.6"/>
<line x1="99.70" y1="317.7" x2="99.70" y2="320.90" stroke="#1a1a1a" stroke-width="0.6"/>
<line x1="102.76" y1="317.7" x2="102.76" y2="319.20" stroke="#1a1a1a" stroke-width="0.6"/>
<line x1="104.54" y1="317.7" x2="104.54" y2="319.20" stroke="#1a1a1a" stroke-width="0.6"/>
<line x1="105.81" y1="317.7" x2="105.81" y2="319.20" stroke="#1a1a1a" stroke-width="0.6"/>
<line x1="106.79" y1="317.7" x2="106.79" y2="319.20" stroke="#1a1a1a" stroke-width="0.6"/>
<line x1="107.60" y1="317.7" x2="107.60" y2="319.20" stroke="#1a1a1a" stroke-width="0.6"/>
<line x1="108.28" y1="317.7" x2="108.28" y2="319.20" stroke="#1a1a1a" stroke-width="0.6"/>
<line x1="108.87" y1="317.7" x2="108.87" y2="319.20" stroke="#1a1a1a" stroke-width="0.6"/>
<line x1="109.39" y1="317.7" x2="109.39" y2="319.20" stroke="#1a1a1a" stroke-width="0.6"/>
<line x1="109.85" y1="317.7" x2="109.85" y2="319.70" stroke="#1a1a1a" stroke-width="0.6"/>
<line x1="112.91" y1="317.7" x2="112.91" y2="319.20" stroke="#1a1a1a" stroke-width="0.6"/>
<line x1="114.69" y1="317.7" x2="114.69" y2="319.20" stroke="#1a1a1a" stroke-width="0.6"/>
<line x1="115.96" y1="317.7" x2="115.96" y2="319.20" stroke="#1a1a1a" stroke-width="0.6"/>
<line x1="116.94" y1="317.7" x2="116.94" y2="319.20" stroke="#1a1a1a" stroke-width="0.6"/>
<line x1="117.75" y1="317.7" x2="117.75" y2="319.20" stroke="#1a1a1a" stroke-width="0.6"/>
<line x1="118.43" y1="317.7" x2="118.43" y2="319.20" stroke="#1a1a1a" stroke-width="0.6"/>
<line x1="119.02" y1="317.7" x2="119.02" y2="319.20" stroke="#1a1a1a" stroke-width="0.6"/>
<line x1="119.54" y1="317.7" x2="119.54" y2="319.20" stroke="#1a1a1a" stroke-width="0.6"/>
<line x1="120.00" y1="317.7" x2="120.00" y2="320.90" stroke="#1a1a1a" stroke-width="0.6"/>
<line x1="123.06" y1="317.7" x2="123.06" y2="319.20" stroke="#1a1a1a" stroke-width="0.6"/>
<line x1="124.84" y1="317.7" x2="124.84" y2="319.20" stroke="#1a1a1a" stroke-width="0.6"/>
<line x1="126.11" y1="317.7" x2="126.11" y2="319.20" stroke="#1a1a1a" stroke-width="0.6"/>
<line x1="127.09" y1="317.7" x2="127.09" y2="319.20" stroke="#1a1a1a" stroke-width="0.6"/>
<line x1="127.90" y1="317.7" x2="127.90" y2="319.20" stroke="#1a1a1a" stroke-width="0.6"/>
<line x1="128.58" y1="317.7" x2="128.58" y2="319.20" stroke="#1a1a1a" stroke-width="0.6"/>
<line x1="129.17" y1="317.7" x2="129.17" y2="319.20" stroke="#1a1a1a" stroke-width="0.6"/>
<line x1="129.69" y1="317.7" x2="129.69" y2="319.20" stroke="#1a1a1a" stroke-width="0.6"/>
<line x1="130.15" y1="317.7" x2="130.15" y2="319.70" stroke="#1a1a1a" stroke-width="0.6"/>
<line x1="133.21" y1="317.7" x2="133.21" y2="319.20" stroke="#1a1a1a" stroke-width="0.6"/>
<line x1="134.99" y1="317.7" x2="134.99" y2="319.20" stroke="#1a1a1a" stroke-width="0.6"/>
<line x1="136.26" y1="317.7" x2="136.26" y2="319.20" stroke="#1a1a1a" stroke-width="0.6"/>
<line x1="137.24" y1="317.7" x2="137.24" y2="319.20" stroke="#1a1a1a" stroke-width="0.6"/>
<line x1="138.05" y1="317.7" x2="138.05" y2="319.20" stroke="#1a1a1a" stroke-width="0.6"/>
<line x1="138.73" y1="317.7" x2="138.73" y2="319.20" stroke="#1a1a1a" stroke-width="0.6"/>
<line x1="139.32" y1="317.7" x2="139.32" y2="319.20" stroke="#1a1a1a" stroke-width="0.6"/>
<line x1="139.84" y1="317.7" x2="139.84" y2="319.20" stroke="#1a1a1a" stroke-width="0.6"/>
<line x1="140.30" y1="317.7" x2="140.30" y2="320.90" stroke="#1a1a1a" stroke-width="0.6"/>
<text x="41.20" y="329.2" font-size="6.7" font-weight="normal" fill="#222" text-anchor="end" transform="rotate(-45 41.20 329.2)" stroke="#222" stroke-width="0.1">0.000001</text>
<text x="61.50" y="329.2" font-size="6.7" font-weight="normal" fill="#222" text-anchor="end" transform="rotate(-45 61.50 329.2)" stroke="#222" stroke-width="0.1">0.0001</text>
<text x="81.80" y="329.2" font-size="6.7" font-weight="normal" fill="#222" text-anchor="end" transform="rotate(-45 81.80 329.2)" stroke="#222" stroke-width="0.1">0.01</text>
<text x="102.10" y="329.2" font-size="6.7" font-weight="normal" fill="#222" text-anchor="end" transform="rotate(-45 102.10 329.2)" stroke="#222" stroke-width="0.1">1</text>
<text x="122.40" y="329.2" font-size="6.7" font-weight="normal" fill="#222" text-anchor="end" transform="rotate(-45 122.40 329.2)" stroke="#222" stroke-width="0.1">100</text>
<text x="142.70" y="329.2" font-size="6.7" font-weight="normal" fill="#222" text-anchor="end" transform="rotate(-45 142.70 329.2)" stroke="#222" stroke-width="0.1">10000</text>
<text x="65.80000000000001" y="360.8" font-size="9" font-weight="normal" fill="#222" text-anchor="start" textLength="51.5" lengthAdjust="spacingAndGlyphs"  stroke="#222" stroke-width="0.1">Concentration(nM)</text>
<text x="14.600000000000001" y="279.3" font-size="8.6" font-weight="normal" fill="#222" text-anchor="middle" textLength="39.5" lengthAdjust="spacingAndGlyphs" transform="rotate(-90 14.600000000000001 279.3)" stroke="#222" stroke-width="0.1">% cytotoxicity</text>
<text x="226.2" y="234.3" font-size="8.7" font-weight="normal" fill="#222" text-anchor="start" textLength="38.6" lengthAdjust="spacingAndGlyphs"  stroke="#222" stroke-width="0.1">SH2 "CT"</text>
<line x1="192.2" y1="241.5" x2="192.2" y2="317.7" stroke="#1a1a1a" stroke-width="1.3"/>
<line x1="188.7" y1="317.20" x2="192.2" y2="317.20" stroke="#1a1a1a" stroke-width="0.9"/>
<text x="185.9" y="319.60" font-size="6.7" font-weight="normal" fill="#222" text-anchor="end" letter-spacing="0.3" stroke="#222" stroke-width="0.1">0</text>
<line x1="190.2" y1="309.93" x2="192.2" y2="309.93" stroke="#1a1a1a" stroke-width="0.8"/>
<line x1="188.7" y1="302.66" x2="192.2" y2="302.66" stroke="#1a1a1a" stroke-width="0.9"/>
<text x="185.9" y="305.06" font-size="6.7" font-weight="normal" fill="#222" text-anchor="end" letter-spacing="0.3" stroke="#222" stroke-width="0.1">20</text>
<line x1="190.2" y1="295.39" x2="192.2" y2="295.39" stroke="#1a1a1a" stroke-width="0.8"/>
<line x1="188.7" y1="288.12" x2="192.2" y2="288.12" stroke="#1a1a1a" stroke-width="0.9"/>
<text x="185.9" y="290.52" font-size="6.7" font-weight="normal" fill="#222" text-anchor="end" letter-spacing="0.3" stroke="#222" stroke-width="0.1">40</text>
<line x1="190.2" y1="280.85" x2="192.2" y2="280.85" stroke="#1a1a1a" stroke-width="0.8"/>
<line x1="188.7" y1="273.58" x2="192.2" y2="273.58" stroke="#1a1a1a" stroke-width="0.9"/>
<text x="185.9" y="275.98" font-size="6.7" font-weight="normal" fill="#222" text-anchor="end" letter-spacing="0.3" stroke="#222" stroke-width="0.1">60</text>
<line x1="190.2" y1="266.31" x2="192.2" y2="266.31" stroke="#1a1a1a" stroke-width="0.8"/>
<line x1="188.7" y1="259.04" x2="192.2" y2="259.04" stroke="#1a1a1a" stroke-width="0.9"/>
<text x="185.9" y="261.44" font-size="6.7" font-weight="normal" fill="#222" text-anchor="end" letter-spacing="0.3" stroke="#222" stroke-width="0.1">80</text>
<line x1="190.2" y1="251.77" x2="192.2" y2="251.77" stroke="#1a1a1a" stroke-width="0.8"/>
<line x1="188.7" y1="244.50" x2="192.2" y2="244.50" stroke="#1a1a1a" stroke-width="0.9"/>
<text x="185.9" y="246.90" font-size="6.7" font-weight="normal" fill="#222" text-anchor="end" letter-spacing="0.3" stroke="#222" stroke-width="0.1">100</text>
<line x1="191.7" y1="317.7" x2="298.0" y2="317.7" stroke="#1a1a1a" stroke-width="1.1"/>
<line x1="191.80" y1="317.7" x2="191.80" y2="320.90" stroke="#1a1a1a" stroke-width="0.6"/>
<line x1="194.90" y1="317.7" x2="194.90" y2="319.20" stroke="#1a1a1a" stroke-width="0.6"/>
<line x1="196.71" y1="317.7" x2="196.71" y2="319.20" stroke="#1a1a1a" stroke-width="0.6"/>
<line x1="198.00" y1="317.7" x2="198.00" y2="319.20" stroke="#1a1a1a" stroke-width="0.6"/>
<line x1="199.00" y1="317.7" x2="199.00" y2="319.20" stroke="#1a1a1a" stroke-width="0.6"/>
<line x1="199.81" y1="317.7" x2="199.81" y2="319.20" stroke="#1a1a1a" stroke-width="0.6"/>
<line x1="200.50" y1="317.7" x2="200.50" y2="319.20" stroke="#1a1a1a" stroke-width="0.6"/>
<line x1="201.10" y1="317.7" x2="201.10" y2="319.20" stroke="#1a1a1a" stroke-width="0.6"/>
<line x1="201.63" y1="317.7" x2="201.63" y2="319.20" stroke="#1a1a1a" stroke-width="0.6"/>
<line x1="202.10" y1="317.7" x2="202.10" y2="319.70" stroke="#1a1a1a" stroke-width="0.6"/>
<line x1="205.20" y1="317.7" x2="205.20" y2="319.20" stroke="#1a1a1a" stroke-width="0.6"/>
<line x1="207.01" y1="317.7" x2="207.01" y2="319.20" stroke="#1a1a1a" stroke-width="0.6"/>
<line x1="208.30" y1="317.7" x2="208.30" y2="319.20" stroke="#1a1a1a" stroke-width="0.6"/>
<line x1="209.30" y1="317.7" x2="209.30" y2="319.20" stroke="#1a1a1a" stroke-width="0.6"/>
<line x1="210.11" y1="317.7" x2="210.11" y2="319.20" stroke="#1a1a1a" stroke-width="0.6"/>
<line x1="210.80" y1="317.7" x2="210.80" y2="319.20" stroke="#1a1a1a" stroke-width="0.6"/>
<line x1="211.40" y1="317.7" x2="211.40" y2="319.20" stroke="#1a1a1a" stroke-width="0.6"/>
<line x1="211.93" y1="317.7" x2="211.93" y2="319.20" stroke="#1a1a1a" stroke-width="0.6"/>
<line x1="212.40" y1="317.7" x2="212.40" y2="320.90" stroke="#1a1a1a" stroke-width="0.6"/>
<line x1="215.50" y1="317.7" x2="215.50" y2="319.20" stroke="#1a1a1a" stroke-width="0.6"/>
<line x1="217.31" y1="317.7" x2="217.31" y2="319.20" stroke="#1a1a1a" stroke-width="0.6"/>
<line x1="218.60" y1="317.7" x2="218.60" y2="319.20" stroke="#1a1a1a" stroke-width="0.6"/>
<line x1="219.60" y1="317.7" x2="219.60" y2="319.20" stroke="#1a1a1a" stroke-width="0.6"/>
<line x1="220.41" y1="317.7" x2="220.41" y2="319.20" stroke="#1a1a1a" stroke-width="0.6"/>
<line x1="221.10" y1="317.7" x2="221.10" y2="319.20" stroke="#1a1a1a" stroke-width="0.6"/>
<line x1="221.70" y1="317.7" x2="221.70" y2="319.20" stroke="#1a1a1a" stroke-width="0.6"/>
<line x1="222.23" y1="317.7" x2="222.23" y2="319.20" stroke="#1a1a1a" stroke-width="0.6"/>
<line x1="222.70" y1="317.7" x2="222.70" y2="319.70" stroke="#1a1a1a" stroke-width="0.6"/>
<line x1="225.80" y1="317.7" x2="225.80" y2="319.20" stroke="#1a1a1a" stroke-width="0.6"/>
<line x1="227.61" y1="317.7" x2="227.61" y2="319.20" stroke="#1a1a1a" stroke-width="0.6"/>
<line x1="228.90" y1="317.7" x2="228.90" y2="319.20" stroke="#1a1a1a" stroke-width="0.6"/>
<line x1="229.90" y1="317.7" x2="229.90" y2="319.20" stroke="#1a1a1a" stroke-width="0.6"/>
<line x1="230.71" y1="317.7" x2="230.71" y2="319.20" stroke="#1a1a1a" stroke-width="0.6"/>
<line x1="231.40" y1="317.7" x2="231.40" y2="319.20" stroke="#1a1a1a" stroke-width="0.6"/>
<line x1="232.00" y1="317.7" x2="232.00" y2="319.20" stroke="#1a1a1a" stroke-width="0.6"/>
<line x1="232.53" y1="317.7" x2="232.53" y2="319.20" stroke="#1a1a1a" stroke-width="0.6"/>
<line x1="233.00" y1="317.7" x2="233.00" y2="320.90" stroke="#1a1a1a" stroke-width="0.6"/>
<line x1="236.10" y1="317.7" x2="236.10" y2="319.20" stroke="#1a1a1a" stroke-width="0.6"/>
<line x1="237.91" y1="317.7" x2="237.91" y2="319.20" stroke="#1a1a1a" stroke-width="0.6"/>
<line x1="239.20" y1="317.7" x2="239.20" y2="319.20" stroke="#1a1a1a" stroke-width="0.6"/>
<line x1="240.20" y1="317.7" x2="240.20" y2="319.20" stroke="#1a1a1a" stroke-width="0.6"/>
<line x1="241.01" y1="317.7" x2="241.01" y2="319.20" stroke="#1a1a1a" stroke-width="0.6"/>
<line x1="241.70" y1="317.7" x2="241.70" y2="319.20" stroke="#1a1a1a" stroke-width="0.6"/>
<line x1="242.30" y1="317.7" x2="242.30" y2="319.20" stroke="#1a1a1a" stroke-width="0.6"/>
<line x1="242.83" y1="317.7" x2="242.83" y2="319.20" stroke="#1a1a1a" stroke-width="0.6"/>
<line x1="243.30" y1="317.7" x2="243.30" y2="319.70" stroke="#1a1a1a" stroke-width="0.6"/>
<line x1="246.40" y1="317.7" x2="246.40" y2="319.20" stroke="#1a1a1a" stroke-width="0.6"/>
<line x1="248.21" y1="317.7" x2="248.21" y2="319.20" stroke="#1a1a1a" stroke-width="0.6"/>
<line x1="249.50" y1="317.7" x2="249.50" y2="319.20" stroke="#1a1a1a" stroke-width="0.6"/>
<line x1="250.50" y1="317.7" x2="250.50" y2="319.20" stroke="#1a1a1a" stroke-width="0.6"/>
<line x1="251.31" y1="317.7" x2="251.31" y2="319.20" stroke="#1a1a1a" stroke-width="0.6"/>
<line x1="252.00" y1="317.7" x2="252.00" y2="319.20" stroke="#1a1a1a" stroke-width="0.6"/>
<line x1="252.60" y1="317.7" x2="252.60" y2="319.20" stroke="#1a1a1a" stroke-width="0.6"/>
<line x1="253.13" y1="317.7" x2="253.13" y2="319.20" stroke="#1a1a1a" stroke-width="0.6"/>
<line x1="253.60" y1="317.7" x2="253.60" y2="320.90" stroke="#1a1a1a" stroke-width="0.6"/>
<line x1="256.70" y1="317.7" x2="256.70" y2="319.20" stroke="#1a1a1a" stroke-width="0.6"/>
<line x1="258.51" y1="317.7" x2="258.51" y2="319.20" stroke="#1a1a1a" stroke-width="0.6"/>
<line x1="259.80" y1="317.7" x2="259.80" y2="319.20" stroke="#1a1a1a" stroke-width="0.6"/>
<line x1="260.80" y1="317.7" x2="260.80" y2="319.20" stroke="#1a1a1a" stroke-width="0.6"/>
<line x1="261.61" y1="317.7" x2="261.61" y2="319.20" stroke="#1a1a1a" stroke-width="0.6"/>
<line x1="262.30" y1="317.7" x2="262.30" y2="319.20" stroke="#1a1a1a" stroke-width="0.6"/>
<line x1="262.90" y1="317.7" x2="262.90" y2="319.20" stroke="#1a1a1a" stroke-width="0.6"/>
<line x1="263.43" y1="317.7" x2="263.43" y2="319.20" stroke="#1a1a1a" stroke-width="0.6"/>
<line x1="263.90" y1="317.7" x2="263.90" y2="319.70" stroke="#1a1a1a" stroke-width="0.6"/>
<line x1="267.00" y1="317.7" x2="267.00" y2="319.20" stroke="#1a1a1a" stroke-width="0.6"/>
<line x1="268.81" y1="317.7" x2="268.81" y2="319.20" stroke="#1a1a1a" stroke-width="0.6"/>
<line x1="270.10" y1="317.7" x2="270.10" y2="319.20" stroke="#1a1a1a" stroke-width="0.6"/>
<line x1="271.10" y1="317.7" x2="271.10" y2="319.20" stroke="#1a1a1a" stroke-width="0.6"/>
<line x1="271.91" y1="317.7" x2="271.91" y2="319.20" stroke="#1a1a1a" stroke-width="0.6"/>
<line x1="272.60" y1="317.7" x2="272.60" y2="319.20" stroke="#1a1a1a" stroke-width="0.6"/>
<line x1="273.20" y1="317.7" x2="273.20" y2="319.20" stroke="#1a1a1a" stroke-width="0.6"/>
<line x1="273.73" y1="317.7" x2="273.73" y2="319.20" stroke="#1a1a1a" stroke-width="0.6"/>
<line x1="274.20" y1="317.7" x2="274.20" y2="320.90" stroke="#1a1a1a" stroke-width="0.6"/>
<line x1="277.30" y1="317.7" x2="277.30" y2="319.20" stroke="#1a1a1a" stroke-width="0.6"/>
<line x1="279.11" y1="317.7" x2="279.11" y2="319.20" stroke="#1a1a1a" stroke-width="0.6"/>
<line x1="280.40" y1="317.7" x2="280.40" y2="319.20" stroke="#1a1a1a" stroke-width="0.6"/>
<line x1="281.40" y1="317.7" x2="281.40" y2="319.20" stroke="#1a1a1a" stroke-width="0.6"/>
<line x1="282.21" y1="317.7" x2="282.21" y2="319.20" stroke="#1a1a1a" stroke-width="0.6"/>
<line x1="282.90" y1="317.7" x2="282.90" y2="319.20" stroke="#1a1a1a" stroke-width="0.6"/>
<line x1="283.50" y1="317.7" x2="283.50" y2="319.20" stroke="#1a1a1a" stroke-width="0.6"/>
<line x1="284.03" y1="317.7" x2="284.03" y2="319.20" stroke="#1a1a1a" stroke-width="0.6"/>
<line x1="284.50" y1="317.7" x2="284.50" y2="319.70" stroke="#1a1a1a" stroke-width="0.6"/>
<line x1="287.60" y1="317.7" x2="287.60" y2="319.20" stroke="#1a1a1a" stroke-width="0.6"/>
<line x1="289.41" y1="317.7" x2="289.41" y2="319.20" stroke="#1a1a1a" stroke-width="0.6"/>
<line x1="290.70" y1="317.7" x2="290.70" y2="319.20" stroke="#1a1a1a" stroke-width="0.6"/>
<line x1="291.70" y1="317.7" x2="291.70" y2="319.20" stroke="#1a1a1a" stroke-width="0.6"/>
<line x1="292.51" y1="317.7" x2="292.51" y2="319.20" stroke="#1a1a1a" stroke-width="0.6"/>
<line x1="293.20" y1="317.7" x2="293.20" y2="319.20" stroke="#1a1a1a" stroke-width="0.6"/>
<line x1="293.80" y1="317.7" x2="293.80" y2="319.20" stroke="#1a1a1a" stroke-width="0.6"/>
<line x1="294.33" y1="317.7" x2="294.33" y2="319.20" stroke="#1a1a1a" stroke-width="0.6"/>
<line x1="294.80" y1="317.7" x2="294.80" y2="320.90" stroke="#1a1a1a" stroke-width="0.6"/>
<text x="194.20" y="329.2" font-size="6.7" font-weight="normal" fill="#222" text-anchor="end" transform="rotate(-45 194.20 329.2)" stroke="#222" stroke-width="0.1">0.000001</text>
<text x="214.80" y="329.2" font-size="6.7" font-weight="normal" fill="#222" text-anchor="end" transform="rotate(-45 214.80 329.2)" stroke="#222" stroke-width="0.1">0.0001</text>
<text x="235.40" y="329.2" font-size="6.7" font-weight="normal" fill="#222" text-anchor="end" transform="rotate(-45 235.40 329.2)" stroke="#222" stroke-width="0.1">0.01</text>
<text x="256.00" y="329.2" font-size="6.7" font-weight="normal" fill="#222" text-anchor="end" transform="rotate(-45 256.00 329.2)" stroke="#222" stroke-width="0.1">1</text>
<text x="276.60" y="329.2" font-size="6.7" font-weight="normal" fill="#222" text-anchor="end" transform="rotate(-45 276.60 329.2)" stroke="#222" stroke-width="0.1">100</text>
<text x="297.20" y="329.2" font-size="6.7" font-weight="normal" fill="#222" text-anchor="end" transform="rotate(-45 297.20 329.2)" stroke="#222" stroke-width="0.1">10000</text>
<text x="219.2" y="360.8" font-size="9" font-weight="normal" fill="#222" text-anchor="start" textLength="51.5" lengthAdjust="spacingAndGlyphs"  stroke="#222" stroke-width="0.1">Concentration(nM)</text>
<text x="167.6" y="279.3" font-size="8.6" font-weight="normal" fill="#222" text-anchor="middle" textLength="39.5" lengthAdjust="spacingAndGlyphs" transform="rotate(-90 167.6 279.3)" stroke="#222" stroke-width="0.1">% cytotoxicity</text>
<text x="370" y="234.3" font-size="8.7" font-weight="normal" fill="#222" text-anchor="start" textLength="61.1" lengthAdjust="spacingAndGlyphs"  stroke="#222" stroke-width="0.1">OCI-AML3 "TT"</text>
<line x1="346.2" y1="241.5" x2="346.2" y2="317.7" stroke="#1a1a1a" stroke-width="1.3"/>
<line x1="342.7" y1="317.20" x2="346.2" y2="317.20" stroke="#1a1a1a" stroke-width="0.9"/>
<text x="339.9" y="319.60" font-size="6.7" font-weight="normal" fill="#222" text-anchor="end" letter-spacing="0.3" stroke="#222" stroke-width="0.1">0</text>
<line x1="344.2" y1="309.93" x2="346.2" y2="309.93" stroke="#1a1a1a" stroke-width="0.8"/>
<line x1="342.7" y1="302.66" x2="346.2" y2="302.66" stroke="#1a1a1a" stroke-width="0.9"/>
<text x="339.9" y="305.06" font-size="6.7" font-weight="normal" fill="#222" text-anchor="end" letter-spacing="0.3" stroke="#222" stroke-width="0.1">20</text>
<line x1="344.2" y1="295.39" x2="346.2" y2="295.39" stroke="#1a1a1a" stroke-width="0.8"/>
<line x1="342.7" y1="288.12" x2="346.2" y2="288.12" stroke="#1a1a1a" stroke-width="0.9"/>
<text x="339.9" y="290.52" font-size="6.7" font-weight="normal" fill="#222" text-anchor="end" letter-spacing="0.3" stroke="#222" stroke-width="0.1">40</text>
<line x1="344.2" y1="280.85" x2="346.2" y2="280.85" stroke="#1a1a1a" stroke-width="0.8"/>
<line x1="342.7" y1="273.58" x2="346.2" y2="273.58" stroke="#1a1a1a" stroke-width="0.9"/>
<text x="339.9" y="275.98" font-size="6.7" font-weight="normal" fill="#222" text-anchor="end" letter-spacing="0.3" stroke="#222" stroke-width="0.1">60</text>
<line x1="344.2" y1="266.31" x2="346.2" y2="266.31" stroke="#1a1a1a" stroke-width="0.8"/>
<line x1="342.7" y1="259.04" x2="346.2" y2="259.04" stroke="#1a1a1a" stroke-width="0.9"/>
<text x="339.9" y="261.44" font-size="6.7" font-weight="normal" fill="#222" text-anchor="end" letter-spacing="0.3" stroke="#222" stroke-width="0.1">80</text>
<line x1="344.2" y1="251.77" x2="346.2" y2="251.77" stroke="#1a1a1a" stroke-width="0.8"/>
<line x1="342.7" y1="244.50" x2="346.2" y2="244.50" stroke="#1a1a1a" stroke-width="0.9"/>
<text x="339.9" y="246.90" font-size="6.7" font-weight="normal" fill="#222" text-anchor="end" letter-spacing="0.3" stroke="#222" stroke-width="0.1">100</text>
<line x1="345.7" y1="317.7" x2="453.0" y2="317.7" stroke="#1a1a1a" stroke-width="1.1"/>
<line x1="345.80" y1="317.7" x2="345.80" y2="320.90" stroke="#1a1a1a" stroke-width="0.6"/>
<line x1="348.96" y1="317.7" x2="348.96" y2="319.20" stroke="#1a1a1a" stroke-width="0.6"/>
<line x1="350.81" y1="317.7" x2="350.81" y2="319.20" stroke="#1a1a1a" stroke-width="0.6"/>
<line x1="352.12" y1="317.7" x2="352.12" y2="319.20" stroke="#1a1a1a" stroke-width="0.6"/>
<line x1="353.14" y1="317.7" x2="353.14" y2="319.20" stroke="#1a1a1a" stroke-width="0.6"/>
<line x1="353.97" y1="317.7" x2="353.97" y2="319.20" stroke="#1a1a1a" stroke-width="0.6"/>
<line x1="354.67" y1="317.7" x2="354.67" y2="319.20" stroke="#1a1a1a" stroke-width="0.6"/>
<line x1="355.28" y1="317.7" x2="355.28" y2="319.20" stroke="#1a1a1a" stroke-width="0.6"/>
<line x1="355.82" y1="317.7" x2="355.82" y2="319.20" stroke="#1a1a1a" stroke-width="0.6"/>
<line x1="356.30" y1="317.7" x2="356.30" y2="319.70" stroke="#1a1a1a" stroke-width="0.6"/>
<line x1="359.46" y1="317.7" x2="359.46" y2="319.20" stroke="#1a1a1a" stroke-width="0.6"/>
<line x1="361.31" y1="317.7" x2="361.31" y2="319.20" stroke="#1a1a1a" stroke-width="0.6"/>
<line x1="362.62" y1="317.7" x2="362.62" y2="319.20" stroke="#1a1a1a" stroke-width="0.6"/>
<line x1="363.64" y1="317.7" x2="363.64" y2="319.20" stroke="#1a1a1a" stroke-width="0.6"/>
<line x1="364.47" y1="317.7" x2="364.47" y2="319.20" stroke="#1a1a1a" stroke-width="0.6"/>
<line x1="365.17" y1="317.7" x2="365.17" y2="319.20" stroke="#1a1a1a" stroke-width="0.6"/>
<line x1="365.78" y1="317.7" x2="365.78" y2="319.20" stroke="#1a1a1a" stroke-width="0.6"/>
<line x1="366.32" y1="317.7" x2="366.32" y2="319.20" stroke="#1a1a1a" stroke-width="0.6"/>
<line x1="366.80" y1="317.7" x2="366.80" y2="320.90" stroke="#1a1a1a" stroke-width="0.6"/>
<line x1="369.96" y1="317.7" x2="369.96" y2="319.20" stroke="#1a1a1a" stroke-width="0.6"/>
<line x1="371.81" y1="317.7" x2="371.81" y2="319.20" stroke="#1a1a1a" stroke-width="0.6"/>
<line x1="373.12" y1="317.7" x2="373.12" y2="319.20" stroke="#1a1a1a" stroke-width="0.6"/>
<line x1="374.14" y1="317.7" x2="374.14" y2="319.20" stroke="#1a1a1a" stroke-width="0.6"/>
<line x1="374.97" y1="317.7" x2="374.97" y2="319.20" stroke="#1a1a1a" stroke-width="0.6"/>
<line x1="375.67" y1="317.7" x2="375.67" y2="319.20" stroke="#1a1a1a" stroke-width="0.6"/>
<line x1="376.28" y1="317.7" x2="376.28" y2="319.20" stroke="#1a1a1a" stroke-width="0.6"/>
<line x1="376.82" y1="317.7" x2="376.82" y2="319.20" stroke="#1a1a1a" stroke-width="0.6"/>
<line x1="377.30" y1="317.7" x2="377.30" y2="319.70" stroke="#1a1a1a" stroke-width="0.6"/>
<line x1="380.46" y1="317.7" x2="380.46" y2="319.20" stroke="#1a1a1a" stroke-width="0.6"/>
<line x1="382.31" y1="317.7" x2="382.31" y2="319.20" stroke="#1a1a1a" stroke-width="0.6"/>
<line x1="383.62" y1="317.7" x2="383.62" y2="319.20" stroke="#1a1a1a" stroke-width="0.6"/>
<line x1="384.64" y1="317.7" x2="384.64" y2="319.20" stroke="#1a1a1a" stroke-width="0.6"/>
<line x1="385.47" y1="317.7" x2="385.47" y2="319.20" stroke="#1a1a1a" stroke-width="0.6"/>
<line x1="386.17" y1="317.7" x2="386.17" y2="319.20" stroke="#1a1a1a" stroke-width="0.6"/>
<line x1="386.78" y1="317.7" x2="386.78" y2="319.20" stroke="#1a1a1a" stroke-width="0.6"/>
<line x1="387.32" y1="317.7" x2="387.32" y2="319.20" stroke="#1a1a1a" stroke-width="0.6"/>
<line x1="387.80" y1="317.7" x2="387.80" y2="320.90" stroke="#1a1a1a" stroke-width="0.6"/>
<line x1="390.96" y1="317.7" x2="390.96" y2="319.20" stroke="#1a1a1a" stroke-width="0.6"/>
<line x1="392.81" y1="317.7" x2="392.81" y2="319.20" stroke="#1a1a1a" stroke-width="0.6"/>
<line x1="394.12" y1="317.7" x2="394.12" y2="319.20" stroke="#1a1a1a" stroke-width="0.6"/>
<line x1="395.14" y1="317.7" x2="395.14" y2="319.20" stroke="#1a1a1a" stroke-width="0.6"/>
<line x1="395.97" y1="317.7" x2="395.97" y2="319.20" stroke="#1a1a1a" stroke-width="0.6"/>
<line x1="396.67" y1="317.7" x2="396.67" y2="319.20" stroke="#1a1a1a" stroke-width="0.6"/>
<line x1="397.28" y1="317.7" x2="397.28" y2="319.20" stroke="#1a1a1a" stroke-width="0.6"/>
<line x1="397.82" y1="317.7" x2="397.82" y2="319.20" stroke="#1a1a1a" stroke-width="0.6"/>
<line x1="398.30" y1="317.7" x2="398.30" y2="319.70" stroke="#1a1a1a" stroke-width="0.6"/>
<line x1="401.46" y1="317.7" x2="401.46" y2="319.20" stroke="#1a1a1a" stroke-width="0.6"/>
<line x1="403.31" y1="317.7" x2="403.31" y2="319.20" stroke="#1a1a1a" stroke-width="0.6"/>
<line x1="404.62" y1="317.7" x2="404.62" y2="319.20" stroke="#1a1a1a" stroke-width="0.6"/>
<line x1="405.64" y1="317.7" x2="405.64" y2="319.20" stroke="#1a1a1a" stroke-width="0.6"/>
<line x1="406.47" y1="317.7" x2="406.47" y2="319.20" stroke="#1a1a1a" stroke-width="0.6"/>
<line x1="407.17" y1="317.7" x2="407.17" y2="319.20" stroke="#1a1a1a" stroke-width="0.6"/>
<line x1="407.78" y1="317.7" x2="407.78" y2="319.20" stroke="#1a1a1a" stroke-width="0.6"/>
<line x1="408.32" y1="317.7" x2="408.32" y2="319.20" stroke="#1a1a1a" stroke-width="0.6"/>
<line x1="408.80" y1="317.7" x2="408.80" y2="320.90" stroke="#1a1a1a" stroke-width="0.6"/>
<line x1="411.96" y1="317.7" x2="411.96" y2="319.20" stroke="#1a1a1a" stroke-width="0.6"/>
<line x1="413.81" y1="317.7" x2="413.81" y2="319.20" stroke="#1a1a1a" stroke-width="0.6"/>
<line x1="415.12" y1="317.7" x2="415.12" y2="319.20" stroke="#1a1a1a" stroke-width="0.6"/>
<line x1="416.14" y1="317.7" x2="416.14" y2="319.20" stroke="#1a1a1a" stroke-width="0.6"/>
<line x1="416.97" y1="317.7" x2="416.97" y2="319.20" stroke="#1a1a1a" stroke-width="0.6"/>
<line x1="417.67" y1="317.7" x2="417.67" y2="319.20" stroke="#1a1a1a" stroke-width="0.6"/>
<line x1="418.28" y1="317.7" x2="418.28" y2="319.20" stroke="#1a1a1a" stroke-width="0.6"/>
<line x1="418.82" y1="317.7" x2="418.82" y2="319.20" stroke="#1a1a1a" stroke-width="0.6"/>
<line x1="419.30" y1="317.7" x2="419.30" y2="319.70" stroke="#1a1a1a" stroke-width="0.6"/>
<line x1="422.46" y1="317.7" x2="422.46" y2="319.20" stroke="#1a1a1a" stroke-width="0.6"/>
<line x1="424.31" y1="317.7" x2="424.31" y2="319.20" stroke="#1a1a1a" stroke-width="0.6"/>
<line x1="425.62" y1="317.7" x2="425.62" y2="319.20" stroke="#1a1a1a" stroke-width="0.6"/>
<line x1="426.64" y1="317.7" x2="426.64" y2="319.20" stroke="#1a1a1a" stroke-width="0.6"/>
<line x1="427.47" y1="317.7" x2="427.47" y2="319.20" stroke="#1a1a1a" stroke-width="0.6"/>
<line x1="428.17" y1="317.7" x2="428.17" y2="319.20" stroke="#1a1a1a" stroke-width="0.6"/>
<line x1="428.78" y1="317.7" x2="428.78" y2="319.20" stroke="#1a1a1a" stroke-width="0.6"/>
<line x1="429.32" y1="317.7" x2="429.32" y2="319.20" stroke="#1a1a1a" stroke-width="0.6"/>
<line x1="429.80" y1="317.7" x2="429.80" y2="320.90" stroke="#1a1a1a" stroke-width="0.6"/>
<line x1="432.96" y1="317.7" x2="432.96" y2="319.20" stroke="#1a1a1a" stroke-width="0.6"/>
<line x1="434.81" y1="317.7" x2="434.81" y2="319.20" stroke="#1a1a1a" stroke-width="0.6"/>
<line x1="436.12" y1="317.7" x2="436.12" y2="319.20" stroke="#1a1a1a" stroke-width="0.6"/>
<line x1="437.14" y1="317.7" x2="437.14" y2="319.20" stroke="#1a1a1a" stroke-width="0.6"/>
<line x1="437.97" y1="317.7" x2="437.97" y2="319.20" stroke="#1a1a1a" stroke-width="0.6"/>
<line x1="438.67" y1="317.7" x2="438.67" y2="319.20" stroke="#1a1a1a" stroke-width="0.6"/>
<line x1="439.28" y1="317.7" x2="439.28" y2="319.20" stroke="#1a1a1a" stroke-width="0.6"/>
<line x1="439.82" y1="317.7" x2="439.82" y2="319.20" stroke="#1a1a1a" stroke-width="0.6"/>
<line x1="440.30" y1="317.7" x2="440.30" y2="319.70" stroke="#1a1a1a" stroke-width="0.6"/>
<line x1="443.46" y1="317.7" x2="443.46" y2="319.20" stroke="#1a1a1a" stroke-width="0.6"/>
<line x1="445.31" y1="317.7" x2="445.31" y2="319.20" stroke="#1a1a1a" stroke-width="0.6"/>
<line x1="446.62" y1="317.7" x2="446.62" y2="319.20" stroke="#1a1a1a" stroke-width="0.6"/>
<line x1="447.64" y1="317.7" x2="447.64" y2="319.20" stroke="#1a1a1a" stroke-width="0.6"/>
<line x1="448.47" y1="317.7" x2="448.47" y2="319.20" stroke="#1a1a1a" stroke-width="0.6"/>
<line x1="449.17" y1="317.7" x2="449.17" y2="319.20" stroke="#1a1a1a" stroke-width="0.6"/>
<line x1="449.78" y1="317.7" x2="449.78" y2="319.20" stroke="#1a1a1a" stroke-width="0.6"/>
<line x1="450.32" y1="317.7" x2="450.32" y2="319.20" stroke="#1a1a1a" stroke-width="0.6"/>
<line x1="450.80" y1="317.7" x2="450.80" y2="320.90" stroke="#1a1a1a" stroke-width="0.6"/>
<text x="348.20" y="329.2" font-size="6.7" font-weight="normal" fill="#222" text-anchor="end" transform="rotate(-45 348.20 329.2)" stroke="#222" stroke-width="0.1">0.000001</text>
<text x="369.20" y="329.2" font-size="6.7" font-weight="normal" fill="#222" text-anchor="end" transform="rotate(-45 369.20 329.2)" stroke="#222" stroke-width="0.1">0.0001</text>
<text x="390.20" y="329.2" font-size="6.7" font-weight="normal" fill="#222" text-anchor="end" transform="rotate(-45 390.20 329.2)" stroke="#222" stroke-width="0.1">0.01</text>
<text x="411.20" y="329.2" font-size="6.7" font-weight="normal" fill="#222" text-anchor="end" transform="rotate(-45 411.20 329.2)" stroke="#222" stroke-width="0.1">1</text>
<text x="432.20" y="329.2" font-size="6.7" font-weight="normal" fill="#222" text-anchor="end" transform="rotate(-45 432.20 329.2)" stroke="#222" stroke-width="0.1">100</text>
<text x="453.20" y="329.2" font-size="6.7" font-weight="normal" fill="#222" text-anchor="end" transform="rotate(-45 453.20 329.2)" stroke="#222" stroke-width="0.1">10000</text>
<text x="374.0" y="360.8" font-size="9" font-weight="normal" fill="#222" text-anchor="start" textLength="51.5" lengthAdjust="spacingAndGlyphs"  stroke="#222" stroke-width="0.1">Concentration(nM)</text>
<text x="321.59999999999997" y="279.3" font-size="8.6" font-weight="normal" fill="#222" text-anchor="middle" textLength="39.5" lengthAdjust="spacingAndGlyphs" transform="rotate(-90 321.59999999999997 279.3)" stroke="#222" stroke-width="0.1">% cytotoxicity</text>
<path d="M50.30,309.90 L50.90,309.89 L51.49,309.89 L52.09,309.88 L52.69,309.87 L53.28,309.86 L53.88,309.85 L54.48,309.84 L55.07,309.83 L55.67,309.81 L56.27,309.79 L56.86,309.77 L57.46,309.75 L58.06,309.72 L58.65,309.69 L59.25,309.66 L59.85,309.62 L60.44,309.57 L61.04,309.52 L61.64,309.46 L62.23,309.39 L62.83,309.31 L63.43,309.22 L64.02,309.12 L64.62,309.00 L65.22,308.86 L65.81,308.71 L66.41,308.53 L67.01,308.33 L67.60,308.10 L68.20,307.83 L68.80,307.54 L69.39,307.20 L69.99,306.82 L70.59,306.39 L71.18,305.90 L71.78,305.35 L72.38,304.74 L72.97,304.06 L73.57,303.30 L74.17,302.45 L74.76,301.52 L75.36,300.50 L75.96,299.38 L76.55,298.17 L77.15,296.86 L77.75,295.46 L78.34,293.97 L78.94,292.40 L79.54,290.76 L80.13,289.06 L80.73,287.32 L81.33,285.54 L81.92,283.75 L82.52,281.97 L83.12,280.20 L83.71,278.47 L84.31,276.80 L84.91,275.18 L85.50,273.65 L86.10,272.19 L86.70,270.83 L87.29,269.56 L87.89,268.39 L88.49,267.31 L89.08,266.33 L89.68,265.43 L90.28,264.62 L90.87,263.89 L91.47,263.24 L92.07,262.66 L92.66,262.13 L93.26,261.67 L93.86,261.26 L94.45,260.90 L95.05,260.58 L95.65,260.30 L96.24,260.05 L96.84,259.83 L97.44,259.64 L98.03,259.47 L98.63,259.32 L99.23,259.19 L99.82,259.08 L100.42,258.98 L101.02,258.90 L101.61,258.82 L102.21,258.76 L102.81,258.70 L103.40,258.65 L104.00,258.61 L104.60,258.57 L105.19,258.54 L105.79,258.51 L106.39,258.48 L106.98,258.46 L107.58,258.44 L108.18,258.42 L108.77,258.41 L109.37,258.40 L109.97,258.39 L110.56,258.38 L111.16,258.37 L111.76,258.36 L112.35,258.36 L112.95,258.35 L113.55,258.35 L114.14,258.34 L114.74,258.34 L115.34,258.33 L115.93,258.33 L116.53,258.33 L117.13,258.33 L117.72,258.33 L118.32,258.32 L118.92,258.32 L119.51,258.32 L120.11,258.32 L120.71,258.32 L121.30,258.32 L121.90,258.32" fill="none" stroke="#2b4b8c" stroke-width="1.15" stroke-dasharray="2.4 1.4"/>
<path d="M50.30,309.71 L50.90,309.71 L51.49,309.71 L52.09,309.71 L52.69,309.71 L53.28,309.71 L53.88,309.71 L54.48,309.71 L55.07,309.71 L55.67,309.71 L56.27,309.71 L56.86,309.71 L57.46,309.71 L58.06,309.71 L58.65,309.71 L59.25,309.71 L59.85,309.71 L60.44,309.71 L61.04,309.71 L61.64,309.71 L62.23,309.71 L62.83,309.71 L63.43,309.71 L64.02,309.71 L64.62,309.71 L65.22,309.71 L65.81,309.71 L66.41,309.71 L67.01,309.71 L67.60,309.71 L68.20,309.71 L68.80,309.71 L69.39,309.71 L69.99,309.71 L70.59,309.70 L71.18,309.70 L71.78,309.70 L72.38,309.69 L72.97,309.68 L73.57,309.67 L74.17,309.66 L74.76,309.64 L75.36,309.61 L75.96,309.58 L76.55,309.53 L77.15,309.46 L77.75,309.37 L78.34,309.25 L78.94,309.08 L79.54,308.85 L80.13,308.53 L80.73,308.11 L81.33,307.55 L81.92,306.79 L82.52,305.80 L83.12,304.50 L83.71,302.83 L84.31,300.72 L84.91,298.14 L85.50,295.07 L86.10,291.54 L86.70,287.66 L87.29,283.59 L87.89,279.51 L88.49,275.62 L89.08,272.09 L89.68,269.00 L90.28,266.41 L90.87,264.29 L91.47,262.61 L92.07,261.31 L92.66,260.30 L93.26,259.55 L93.86,258.98 L94.45,258.55 L95.05,258.24 L95.65,258.01 L96.24,257.84 L96.84,257.71 L97.44,257.62 L98.03,257.55 L98.63,257.50 L99.23,257.47 L99.82,257.44 L100.42,257.42 L101.02,257.41 L101.61,257.40 L102.21,257.39 L102.81,257.38 L103.40,257.38 L104.00,257.38 L104.60,257.37 L105.19,257.37 L105.79,257.37 L106.39,257.37 L106.98,257.37 L107.58,257.37 L108.18,257.37 L108.77,257.37 L109.37,257.37 L109.97,257.37 L110.56,257.37 L111.16,257.37 L111.76,257.37 L112.35,257.37 L112.95,257.37 L113.55,257.37 L114.14,257.37 L114.74,257.37 L115.34,257.37 L115.93,257.37 L116.53,257.37 L117.13,257.37 L117.72,257.37 L118.32,257.37 L118.92,257.37 L119.51,257.37 L120.11,257.37 L120.71,257.37 L121.30,257.37 L121.90,257.37" fill="none" stroke="#c0102f" stroke-width="1"/>
<circle cx="80.80" cy="309.71" r="1.3" fill="#fff" stroke="#6cb63c" stroke-width="0.8"/>
<circle cx="91.20" cy="309.93" r="1.3" fill="#fff" stroke="#6cb63c" stroke-width="0.8"/>
<circle cx="101.50" cy="309.71" r="1.3" fill="#fff" stroke="#6cb63c" stroke-width="0.8"/>
<circle cx="111.90" cy="309.20" r="1.3" fill="#fff" stroke="#6cb63c" stroke-width="0.8"/>
<circle cx="121.90" cy="310.66" r="1.3" fill="#fff" stroke="#6cb63c" stroke-width="0.8"/>
<rect x="48.85" y="308.48" width="2.9" height="2.9" fill="#fff" stroke="#2b4b8c" stroke-width="0.9"/>
<rect x="59.05" y="308.48" width="2.9" height="2.9" fill="#fff" stroke="#2b4b8c" stroke-width="0.9"/>
<rect x="69.35" y="301.94" width="2.9" height="2.9" fill="#fff" stroke="#2b4b8c" stroke-width="0.9"/>
<rect x="79.35" y="286.67" width="2.9" height="2.9" fill="#fff" stroke="#2b4b8c" stroke-width="0.9"/>
<rect x="89.75" y="260.13" width="2.9" height="2.9" fill="#fff" stroke="#2b4b8c" stroke-width="0.9"/>
<rect x="100.05" y="256.86" width="2.9" height="2.9" fill="#fff" stroke="#2b4b8c" stroke-width="0.9"/>
<rect x="110.45" y="257.59" width="2.9" height="2.9" fill="#fff" stroke="#2b4b8c" stroke-width="0.9"/>
<rect x="120.45" y="258.32" width="2.9" height="2.9" fill="#fff" stroke="#2b4b8c" stroke-width="0.9"/>
<circle cx="50.30" cy="309.93" r="1.35" fill="#b30d31"/>
<circle cx="60.50" cy="309.93" r="1.35" fill="#b30d31"/>
<circle cx="70.80" cy="309.20" r="1.35" fill="#b30d31"/>
<circle cx="80.80" cy="304.55" r="1.35" fill="#b30d31"/>
<circle cx="91.20" cy="267.04" r="1.35" fill="#b30d31"/>
<circle cx="101.50" cy="257.95" r="1.35" fill="#b30d31"/>
<circle cx="111.90" cy="256.86" r="1.35" fill="#b30d31"/>
<circle cx="121.90" cy="257.59" r="1.35" fill="#b30d31"/>
<path d="M204.00,311.89 L204.60,311.89 L205.20,311.89 L205.80,311.89 L206.40,311.89 L207.00,311.89 L207.60,311.89 L208.20,311.89 L208.80,311.89 L209.40,311.89 L210.00,311.89 L210.60,311.89 L211.20,311.89 L211.80,311.89 L212.40,311.89 L213.00,311.89 L213.60,311.89 L214.20,311.89 L214.80,311.89 L215.40,311.89 L216.00,311.89 L216.60,311.89 L217.20,311.89 L217.80,311.89 L218.40,311.89 L219.00,311.89 L219.60,311.89 L220.20,311.89 L220.80,311.89 L221.40,311.89 L222.00,311.89 L222.60,311.89 L223.20,311.89 L223.80,311.89 L224.40,311.89 L225.00,311.89 L225.60,311.89 L226.20,311.89 L226.80,311.89 L227.40,311.89 L228.00,311.89 L228.60,311.89 L229.20,311.89 L229.80,311.89 L230.40,311.89 L231.00,311.89 L231.60,311.89 L232.20,311.89 L232.80,311.89 L233.40,311.89 L234.00,311.89 L234.60,311.89 L235.20,311.89 L235.80,311.89 L236.40,311.89 L237.00,311.89 L237.60,311.89 L238.20,311.89 L238.80,311.89 L239.40,311.89 L240.00,311.89 L240.60,311.89 L241.20,311.89 L241.80,311.89 L242.40,311.89 L243.00,311.89 L243.60,311.89 L244.20,311.89 L244.80,311.89 L245.40,311.89 L246.00,311.89 L246.60,311.89 L247.20,311.89 L247.80,311.89 L248.40,311.89 L249.00,311.89 L249.60,311.89 L250.20,311.89 L250.80,311.89 L251.40,311.89 L252.00,311.89 L252.60,311.89 L253.20,311.89 L253.80,311.89 L254.40,311.89 L255.00,311.89 L255.60,311.89 L256.20,311.89 L256.80,311.89 L257.40,311.89 L258.00,311.89 L258.60,311.89 L259.20,311.89 L259.80,311.89 L260.40,311.89 L261.00,311.89 L261.60,311.89 L262.20,311.89 L262.80,311.89 L263.40,311.89 L264.00,311.89 L264.60,311.89 L265.20,311.89 L265.80,311.89 L266.40,311.89 L267.00,311.89 L267.60,311.89 L268.20,311.89 L268.80,311.89 L269.40,311.89 L270.00,311.89 L270.60,311.89 L271.20,311.89 L271.80,311.89 L272.40,311.89 L273.00,311.89 L273.60,311.89 L274.20,311.89 L274.80,311.89 L275.40,311.89 L276.00,311.89" fill="none" stroke="#6cb63c" stroke-width="1"/>
<path d="M204.00,310.22 L204.60,310.22 L205.20,310.22 L205.80,310.22 L206.40,310.22 L207.00,310.22 L207.60,310.22 L208.20,310.22 L208.80,310.22 L209.40,310.22 L210.00,310.22 L210.60,310.22 L211.20,310.22 L211.80,310.22 L212.40,310.22 L213.00,310.22 L213.60,310.22 L214.20,310.22 L214.80,310.22 L215.40,310.22 L216.00,310.22 L216.60,310.22 L217.20,310.22 L217.80,310.22 L218.40,310.22 L219.00,310.22 L219.60,310.22 L220.20,310.22 L220.80,310.22 L221.40,310.22 L222.00,310.22 L222.60,310.22 L223.20,310.22 L223.80,310.22 L224.40,310.22 L225.00,310.22 L225.60,310.22 L226.20,310.22 L226.80,310.22 L227.40,310.22 L228.00,310.22 L228.60,310.22 L229.20,310.22 L229.80,310.22 L230.40,310.22 L231.00,310.22 L231.60,310.22 L232.20,310.22 L232.80,310.22 L233.40,310.22 L234.00,310.22 L234.60,310.22 L235.20,310.22 L235.80,310.22 L236.40,310.22 L237.00,310.22 L237.60,310.22 L238.20,310.22 L238.80,310.21 L239.40,310.21 L240.00,310.21 L240.60,310.21 L241.20,310.21 L241.80,310.20 L242.40,310.20 L243.00,310.19 L243.60,310.19 L244.20,310.18 L244.80,310.17 L245.40,310.16 L246.00,310.15 L246.60,310.13 L247.20,310.11 L247.80,310.09 L248.40,310.06 L249.00,310.02 L249.60,309.98 L250.20,309.93 L250.80,309.87 L251.40,309.80 L252.00,309.71 L252.60,309.61 L253.20,309.49 L253.80,309.36 L254.40,309.20 L255.00,309.02 L255.60,308.82 L256.20,308.60 L256.80,308.36 L257.40,308.10 L258.00,307.82 L258.60,307.54 L259.20,307.25 L259.80,306.97 L260.40,306.69 L261.00,306.43 L261.60,306.18 L262.20,305.95 L262.80,305.74 L263.40,305.55 L264.00,305.39 L264.60,305.25 L265.20,305.12 L265.80,305.02 L266.40,304.93 L267.00,304.85 L267.60,304.79 L268.20,304.73 L268.80,304.69 L269.40,304.65 L270.00,304.62 L270.60,304.60 L271.20,304.57 L271.80,304.56 L272.40,304.54 L273.00,304.53 L273.60,304.52 L274.20,304.51 L274.80,304.51 L275.40,304.50 L276.00,304.50" fill="none" stroke="#2b4b8c" stroke-width="1.15" stroke-dasharray="2.4 1.4"/>
<path d="M204.00,311.53 L204.60,311.53 L205.20,311.53 L205.80,311.53 L206.40,311.53 L207.00,311.53 L207.60,311.53 L208.20,311.53 L208.80,311.53 L209.40,311.53 L210.00,311.53 L210.60,311.53 L211.20,311.53 L211.80,311.53 L212.40,311.53 L213.00,311.53 L213.60,311.53 L214.20,311.53 L214.80,311.53 L215.40,311.53 L216.00,311.53 L216.60,311.53 L217.20,311.53 L217.80,311.53 L218.40,311.53 L219.00,311.53 L219.60,311.53 L220.20,311.53 L220.80,311.53 L221.40,311.53 L222.00,311.53 L222.60,311.53 L223.20,311.53 L223.80,311.53 L224.40,311.53 L225.00,311.53 L225.60,311.53 L226.20,311.53 L226.80,311.52 L227.40,311.52 L228.00,311.52 L228.60,311.52 L229.20,311.51 L229.80,311.50 L230.40,311.49 L231.00,311.48 L231.60,311.45 L232.20,311.43 L232.80,311.38 L233.40,311.33 L234.00,311.25 L234.60,311.14 L235.20,310.98 L235.80,310.77 L236.40,310.48 L237.00,310.08 L237.60,309.53 L238.20,308.79 L238.80,307.80 L239.40,306.50 L240.00,304.83 L240.60,302.73 L241.20,300.19 L241.80,297.22 L242.40,293.93 L243.00,290.45 L243.60,286.96 L244.20,283.67 L244.80,280.70 L245.40,278.16 L246.00,276.06 L246.60,274.39 L247.20,273.09 L247.80,272.10 L248.40,271.36 L249.00,270.82 L249.60,270.41 L250.20,270.12 L250.80,269.91 L251.40,269.76 L252.00,269.65 L252.60,269.57 L253.20,269.51 L253.80,269.47 L254.40,269.44 L255.00,269.42 L255.60,269.40 L256.20,269.39 L256.80,269.38 L257.40,269.38 L258.00,269.37 L258.60,269.37 L259.20,269.37 L259.80,269.37 L260.40,269.37 L261.00,269.37 L261.60,269.36 L262.20,269.36 L262.80,269.36 L263.40,269.36 L264.00,269.36 L264.60,269.36 L265.20,269.36 L265.80,269.36 L266.40,269.36 L267.00,269.36 L267.60,269.36 L268.20,269.36 L268.80,269.36 L269.40,269.36 L270.00,269.36 L270.60,269.36 L271.20,269.36 L271.80,269.36 L272.40,269.36 L273.00,269.36 L273.60,269.36 L274.20,269.36 L274.80,269.36 L275.40,269.36 L276.00,269.36" fill="none" stroke="#c0102f" stroke-width="1"/>
<circle cx="204.00" cy="311.89" r="1.3" fill="#fff" stroke="#6cb63c" stroke-width="0.8"/>
<circle cx="214.40" cy="311.89" r="1.3" fill="#fff" stroke="#6cb63c" stroke-width="0.8"/>
<circle cx="224.60" cy="311.89" r="1.3" fill="#fff" stroke="#6cb63c" stroke-width="0.8"/>
<circle cx="234.80" cy="311.89" r="1.3" fill="#fff" stroke="#6cb63c" stroke-width="0.8"/>
<circle cx="245.20" cy="311.89" r="1.3" fill="#fff" stroke="#6cb63c" stroke-width="0.8"/>
<circle cx="255.40" cy="311.89" r="1.3" fill="#fff" stroke="#6cb63c" stroke-width="0.8"/>
<circle cx="265.60" cy="311.89" r="1.3" fill="#fff" stroke="#6cb63c" stroke-width="0.8"/>
<circle cx="276.00" cy="311.89" r="1.3" fill="#fff" stroke="#6cb63c" stroke-width="0.8"/>
<rect x="202.55" y="308.12" width="2.9" height="2.9" fill="#fff" stroke="#2b4b8c" stroke-width="0.9"/>
<rect x="212.95" y="308.77" width="2.9" height="2.9" fill="#fff" stroke="#2b4b8c" stroke-width="0.9"/>
<rect x="223.15" y="309.21" width="2.9" height="2.9" fill="#fff" stroke="#2b4b8c" stroke-width="0.9"/>
<rect x="233.35" y="307.24" width="2.9" height="2.9" fill="#fff" stroke="#2b4b8c" stroke-width="0.9"/>
<rect x="243.75" y="307.24" width="2.9" height="2.9" fill="#fff" stroke="#2b4b8c" stroke-width="0.9"/>
<rect x="253.95" y="307.24" width="2.9" height="2.9" fill="#fff" stroke="#2b4b8c" stroke-width="0.9"/>
<rect x="264.15" y="302.37" width="2.9" height="2.9" fill="#fff" stroke="#2b4b8c" stroke-width="0.9"/>
<rect x="274.55" y="303.97" width="2.9" height="2.9" fill="#fff" stroke="#2b4b8c" stroke-width="0.9"/>
<circle cx="204.00" cy="311.53" r="1.35" fill="#b30d31"/>
<circle cx="214.40" cy="311.38" r="1.35" fill="#b30d31"/>
<circle cx="224.60" cy="311.38" r="1.35" fill="#b30d31"/>
<circle cx="234.80" cy="309.20" r="1.35" fill="#b30d31"/>
<circle cx="245.20" cy="278.67" r="1.35" fill="#b30d31"/>
<circle cx="255.40" cy="268.85" r="1.35" fill="#b30d31"/>
<circle cx="265.60" cy="269.22" r="1.35" fill="#b30d31"/>
<circle cx="276.00" cy="272.49" r="1.35" fill="#b30d31"/>
<path d="M358.10,308.11 L358.71,308.11 L359.32,308.11 L359.94,308.11 L360.55,308.11 L361.16,308.11 L361.77,308.11 L362.38,308.11 L362.99,308.11 L363.61,308.11 L364.22,308.11 L364.83,308.11 L365.44,308.11 L366.05,308.11 L366.66,308.11 L367.28,308.11 L367.89,308.11 L368.50,308.11 L369.11,308.11 L369.72,308.11 L370.33,308.11 L370.94,308.11 L371.56,308.11 L372.17,308.11 L372.78,308.11 L373.39,308.11 L374.00,308.11 L374.62,308.11 L375.23,308.11 L375.84,308.11 L376.45,308.11 L377.06,308.11 L377.67,308.11 L378.29,308.11 L378.90,308.11 L379.51,308.11 L380.12,308.11 L380.73,308.11 L381.34,308.11 L381.96,308.11 L382.57,308.11 L383.18,308.11 L383.79,308.11 L384.40,308.11 L385.01,308.11 L385.62,308.11 L386.24,308.11 L386.85,308.11 L387.46,308.11 L388.07,308.11 L388.68,308.11 L389.30,308.11 L389.91,308.11 L390.52,308.11 L391.13,308.11 L391.74,308.11 L392.35,308.11 L392.97,308.11 L393.58,308.11 L394.19,308.11 L394.80,308.11 L395.41,308.11 L396.02,308.11 L396.63,308.11 L397.25,308.11 L397.86,308.11 L398.47,308.11 L399.08,308.11 L399.69,308.11 L400.31,308.11 L400.92,308.11 L401.53,308.11 L402.14,308.11 L402.75,308.11 L403.36,308.11 L403.98,308.11 L404.59,308.11 L405.20,308.11 L405.81,308.11 L406.42,308.11 L407.03,308.11 L407.64,308.11 L408.26,308.11 L408.87,308.11 L409.48,308.11 L410.09,308.11 L410.70,308.11 L411.31,308.11 L411.93,308.11 L412.54,308.11 L413.15,308.11 L413.76,308.11 L414.37,308.11 L414.99,308.11 L415.60,308.11 L416.21,308.11 L416.82,308.11 L417.43,308.11 L418.04,308.11 L418.65,308.11 L419.27,308.11 L419.88,308.11 L420.49,308.11 L421.10,308.11 L421.71,308.11 L422.32,308.11 L422.94,308.11 L423.55,308.11 L424.16,308.11 L424.77,308.11 L425.38,308.11 L426.00,308.11 L426.61,308.11 L427.22,308.11 L427.83,308.11 L428.44,308.11 L429.05,308.11 L429.67,308.11 L430.28,308.11 L430.89,308.11 L431.50,308.11" fill="none" stroke="#6cb63c" stroke-width="1"/>
<path d="M358.10,305.57 L358.71,305.53 L359.32,305.50 L359.94,305.46 L360.55,305.42 L361.16,305.39 L361.77,305.35 L362.38,305.31 L362.99,305.28 L363.61,305.24 L364.22,305.20 L364.83,305.17 L365.44,305.13 L366.05,305.09 L366.66,305.06 L367.28,305.02 L367.89,304.99 L368.50,304.95 L369.11,304.91 L369.72,304.87 L370.33,304.84 L370.94,304.80 L371.56,304.76 L372.17,304.73 L372.78,304.69 L373.39,304.65 L374.00,304.61 L374.62,304.58 L375.23,304.54 L375.84,304.50 L376.45,304.46 L377.06,304.42 L377.67,304.38 L378.29,304.34 L378.90,304.30 L379.51,304.26 L380.12,304.22 L380.73,304.18 L381.34,304.14 L381.96,304.10 L382.57,304.06 L383.18,304.02 L383.79,303.98 L384.40,303.93 L385.01,303.89 L385.62,303.85 L386.24,303.80 L386.85,303.76 L387.46,303.71 L388.07,303.67 L388.68,303.62 L389.30,303.57 L389.91,303.52 L390.52,303.48 L391.13,303.43 L391.74,303.38 L392.35,303.33 L392.97,303.27 L393.58,303.22 L394.19,303.17 L394.80,303.11 L395.41,303.06 L396.02,303.00 L396.63,302.95 L397.25,302.89 L397.86,302.83 L398.47,302.77 L399.08,302.71 L399.69,302.65 L400.31,302.58 L400.92,302.52 L401.53,302.45 L402.14,302.39 L402.75,302.32 L403.36,302.25 L403.98,302.18 L404.59,302.10 L405.20,302.03 L405.81,301.95 L406.42,301.88 L407.03,301.80 L407.64,301.72 L408.26,301.64 L408.87,301.55 L409.48,301.47 L410.09,301.38 L410.70,301.29 L411.31,301.20 L411.93,301.11 L412.54,301.01 L413.15,300.92 L413.76,300.82 L414.37,300.72 L414.99,300.61 L415.60,300.51 L416.21,300.40 L416.82,300.29 L417.43,300.18 L418.04,300.07 L418.65,299.95 L419.27,299.83 L419.88,299.71 L420.49,299.58 L421.10,299.46 L421.71,299.33 L422.32,299.19 L422.94,299.06 L423.55,298.92 L424.16,298.78 L424.77,298.64 L425.38,298.49 L426.00,298.34 L426.61,298.19 L427.22,298.03 L427.83,297.87 L428.44,297.71 L429.05,297.54 L429.67,297.37 L430.28,297.20 L430.89,297.02 L431.50,296.84" fill="none" stroke="#2b4b8c" stroke-width="1.15" stroke-dasharray="2.4 1.4"/>
<path d="M358.10,304.84 L358.28,304.84 L358.47,304.84 L358.65,304.84 L358.83,304.84 L359.02,304.84 L359.20,304.84 L359.38,304.84 L359.57,304.84 L359.75,304.84 L359.94,304.84 L360.12,304.84 L360.30,304.84 L360.49,304.84 L360.67,304.84 L360.85,304.84 L361.04,304.84 L361.22,304.84 L361.40,304.84 L361.59,304.84 L361.77,304.84 L361.95,304.84 L362.14,304.84 L362.32,304.84 L362.50,304.84 L362.69,304.84 L362.87,304.84 L363.05,304.84 L363.24,304.84 L363.42,304.84 L363.61,304.84 L363.79,304.84 L363.97,304.84 L364.16,304.84 L364.34,304.84 L364.52,304.84 L364.71,304.84 L364.89,304.84 L365.07,304.84 L365.26,304.84 L365.44,304.84 L365.62,304.84 L365.81,304.84 L365.99,304.84 L366.17,304.84 L366.36,304.84 L366.54,304.84 L366.72,304.84 L366.91,304.84 L367.09,304.84 L367.28,304.84 L367.46,304.84 L367.64,304.84 L367.83,304.84 L368.01,304.84 L368.19,304.84 L368.38,304.84 L368.56,304.84 L368.74,304.84 L368.93,304.84 L369.11,304.84 L369.29,304.84 L369.48,304.84 L369.66,304.84 L369.84,304.84 L370.03,304.84 L370.21,304.84 L370.39,304.84 L370.58,304.84 L370.76,304.84 L370.94,304.84 L371.13,304.84 L371.31,304.84 L371.50,304.84 L371.68,304.84 L371.86,304.84 L372.05,304.84 L372.23,304.84 L372.41,304.84 L372.60,304.84 L372.78,304.84 L372.96,304.84 L373.15,304.84 L373.33,304.84 L373.51,304.84 L373.70,304.84 L373.88,304.84 L374.06,304.84 L374.25,304.84 L374.43,304.84 L374.62,304.84 L374.80,304.84 L374.98,304.84 L375.17,304.84 L375.35,304.84 L375.53,304.84 L375.72,304.84 L375.90,304.84 L376.08,304.84 L376.27,304.84 L376.45,304.84 L376.63,304.84 L376.82,304.84 L377.00,304.84 L377.18,304.84 L377.37,304.84 L377.55,304.84 L377.73,304.84 L377.92,304.84 L378.10,304.84 L378.29,304.84 L378.47,304.84 L378.65,304.84 L378.84,304.84 L379.02,304.84 L379.20,304.84 L379.39,304.84 L379.57,304.84 L379.75,304.84 L379.94,304.84 L380.12,304.84 L380.30,304.84 L380.49,304.84 L380.67,304.84 L380.85,304.84 L381.04,304.84 L381.22,304.84 L381.40,304.84 L381.59,304.84 L381.77,304.84 L381.96,304.84 L382.14,304.84 L382.32,304.84 L382.51,304.84 L382.69,304.84 L382.87,304.84 L383.06,304.84 L383.24,304.84 L383.42,304.84 L383.61,304.84 L383.79,304.84 L383.97,304.84 L384.16,304.84 L384.34,304.84 L384.52,304.84 L384.71,304.84 L384.89,304.84 L385.07,304.84 L385.26,304.84 L385.44,304.84 L385.62,304.84 L385.81,304.84 L385.99,304.84 L386.18,304.84 L386.36,304.84 L386.54,304.84 L386.73,304.84 L386.91,304.84 L387.09,304.84 L387.28,304.84 L387.46,304.84 L387.64,304.84 L387.83,304.84 L388.01,304.84 L388.19,304.84 L388.38,304.84 L388.56,304.84 L388.74,304.84 L388.93,304.84 L389.11,304.84 L389.30,304.84 L389.48,304.84 L389.66,304.84 L389.85,304.84 L390.03,304.84 L390.21,304.84 L390.40,304.84 L390.58,304.84 L390.76,304.84 L390.95,304.84 L391.13,304.84 L391.31,304.84 L391.50,304.84 L391.68,304.84 L391.86,304.84 L392.05,304.84 L392.23,304.84 L392.41,304.84 L392.60,304.84 L392.78,304.84 L392.97,304.84 L393.15,304.84 L393.33,304.84 L393.52,304.84 L393.70,304.84 L393.88,304.84 L394.07,304.84 L394.25,304.84 L394.43,304.84 L394.62,304.84 L394.80,304.84 L394.98,304.84 L395.17,304.84 L395.35,304.84 L395.53,304.84 L395.72,304.84 L395.90,304.84 L396.08,304.84 L396.27,304.84 L396.45,304.84 L396.63,304.84 L396.82,304.84 L397.00,304.84 L397.19,304.84 L397.37,304.84 L397.55,304.83 L397.74,304.83 L397.92,304.82 L398.10,304.80 L398.29,304.77 L398.47,304.71 L398.65,304.59 L398.84,304.39 L399.02,304.02 L399.20,303.34 L399.39,302.16 L399.57,300.15 L399.75,296.92 L399.94,292.21 L400.12,286.18 L400.31,279.68 L400.49,273.81 L400.67,269.31 L400.86,266.28 L401.04,264.41 L401.22,263.32 L401.41,262.70 L401.59,262.36 L401.77,262.17 L401.96,262.07 L402.14,262.01 L402.32,261.98 L402.51,261.97 L402.69,261.96 L402.87,261.95 L403.06,261.95 L403.24,261.95 L403.42,261.95 L403.61,261.95 L403.79,261.95 L403.98,261.95 L404.16,261.95 L404.34,261.95 L404.53,261.95 L404.71,261.95 L404.89,261.95 L405.08,261.95 L405.26,261.95 L405.44,261.95 L405.63,261.95 L405.81,261.95 L405.99,261.95 L406.18,261.95 L406.36,261.95 L406.54,261.95 L406.73,261.95 L406.91,261.95 L407.09,261.95 L407.28,261.95 L407.46,261.95 L407.64,261.95 L407.83,261.95 L408.01,261.95 L408.20,261.95 L408.38,261.95 L408.56,261.95 L408.75,261.95 L408.93,261.95 L409.11,261.95 L409.30,261.95 L409.48,261.95 L409.66,261.95 L409.85,261.95 L410.03,261.95 L410.21,261.95 L410.40,261.95 L410.58,261.95 L410.76,261.95 L410.95,261.95 L411.13,261.95 L411.31,261.95 L411.50,261.95 L411.68,261.95 L411.87,261.95 L412.05,261.95 L412.23,261.95 L412.42,261.95 L412.60,261.95 L412.78,261.95 L412.97,261.95 L413.15,261.95 L413.33,261.95 L413.52,261.95 L413.70,261.95 L413.88,261.95 L414.07,261.95 L414.25,261.95 L414.43,261.95 L414.62,261.95 L414.80,261.95 L414.99,261.95 L415.17,261.95 L415.35,261.95 L415.54,261.95 L415.72,261.95 L415.90,261.95 L416.09,261.95 L416.27,261.95 L416.45,261.95 L416.64,261.95 L416.82,261.95 L417.00,261.95 L417.19,261.95 L417.37,261.95 L417.55,261.95 L417.74,261.95 L417.92,261.95 L418.10,261.95 L418.29,261.95 L418.47,261.95 L418.65,261.95 L418.84,261.95 L419.02,261.95 L419.21,261.95 L419.39,261.95 L419.57,261.95 L419.76,261.95 L419.94,261.95 L420.12,261.95 L420.31,261.95 L420.49,261.95 L420.67,261.95 L420.86,261.95 L421.04,261.95 L421.22,261.95 L421.41,261.95 L421.59,261.95 L421.77,261.95 L421.96,261.95 L422.14,261.95 L422.32,261.95 L422.51,261.95 L422.69,261.95 L422.88,261.95 L423.06,261.95 L423.24,261.95 L423.43,261.95 L423.61,261.95 L423.79,261.95 L423.98,261.95 L424.16,261.95 L424.34,261.95 L424.53,261.95 L424.71,261.95 L424.89,261.95 L425.08,261.95 L425.26,261.95 L425.44,261.95 L425.63,261.95 L425.81,261.95 L426.00,261.95 L426.18,261.95 L426.36,261.95 L426.55,261.95 L426.73,261.95 L426.91,261.95 L427.10,261.95 L427.28,261.95 L427.46,261.95 L427.65,261.95 L427.83,261.95 L428.01,261.95 L428.20,261.95 L428.38,261.95 L428.56,261.95 L428.75,261.95 L428.93,261.95 L429.11,261.95 L429.30,261.95 L429.48,261.95 L429.67,261.95 L429.85,261.95 L430.03,261.95 L430.22,261.95 L430.40,261.95 L430.58,261.95 L430.77,261.95 L430.95,261.95 L431.13,261.95 L431.32,261.95 L431.50,261.95" fill="none" stroke="#c0102f" stroke-width="1"/>
<circle cx="358.10" cy="307.97" r="1.3" fill="#fff" stroke="#6cb63c" stroke-width="0.8"/>
<circle cx="368.50" cy="307.97" r="1.3" fill="#fff" stroke="#6cb63c" stroke-width="0.8"/>
<circle cx="379.00" cy="307.97" r="1.3" fill="#fff" stroke="#6cb63c" stroke-width="0.8"/>
<circle cx="389.60" cy="308.11" r="1.3" fill="#fff" stroke="#6cb63c" stroke-width="0.8"/>
<circle cx="400.20" cy="308.11" r="1.3" fill="#fff" stroke="#6cb63c" stroke-width="0.8"/>
<circle cx="410.40" cy="309.42" r="1.3" fill="#fff" stroke="#6cb63c" stroke-width="0.8"/>
<circle cx="421.00" cy="307.02" r="1.3" fill="#fff" stroke="#6cb63c" stroke-width="0.8"/>
<circle cx="431.50" cy="307.97" r="1.3" fill="#fff" stroke="#6cb63c" stroke-width="0.8"/>
<rect x="356.65" y="304.48" width="2.9" height="2.9" fill="#fff" stroke="#2b4b8c" stroke-width="0.9"/>
<rect x="367.05" y="301.94" width="2.9" height="2.9" fill="#fff" stroke="#2b4b8c" stroke-width="0.9"/>
<rect x="377.55" y="302.66" width="2.9" height="2.9" fill="#fff" stroke="#2b4b8c" stroke-width="0.9"/>
<rect x="388.15" y="301.21" width="2.9" height="2.9" fill="#fff" stroke="#2b4b8c" stroke-width="0.9"/>
<rect x="398.75" y="299.76" width="2.9" height="2.9" fill="#fff" stroke="#2b4b8c" stroke-width="0.9"/>
<rect x="408.95" y="299.76" width="2.9" height="2.9" fill="#fff" stroke="#2b4b8c" stroke-width="0.9"/>
<rect x="419.55" y="300.48" width="2.9" height="2.9" fill="#fff" stroke="#2b4b8c" stroke-width="0.9"/>
<rect x="430.05" y="294.67" width="2.9" height="2.9" fill="#fff" stroke="#2b4b8c" stroke-width="0.9"/>
<circle cx="358.10" cy="306.30" r="1.35" fill="#b30d31"/>
<circle cx="368.50" cy="304.84" r="1.35" fill="#b30d31"/>
<circle cx="379.00" cy="304.11" r="1.35" fill="#b30d31"/>
<circle cx="389.60" cy="302.66" r="1.35" fill="#b30d31"/>
<circle cx="400.20" cy="284.49" r="1.35" fill="#b30d31"/>
<circle cx="410.40" cy="259.04" r="1.35" fill="#b30d31"/>
<circle cx="421.00" cy="259.77" r="1.35" fill="#b30d31"/>
<circle cx="431.50" cy="265.58" r="1.35" fill="#b30d31"/>
<line x1="457.3" y1="268.7" x2="464" y2="268.7" stroke="#2b4b8c" stroke-width="1"/>
<rect x="459.75" y="267.25" width="2.9" height="2.9" fill="#fff" stroke="#2b4b8c" stroke-width="0.9"/>
<text x="468.8" y="271.10" font-size="6.7" fill="#222" stroke="#222" stroke-width="0.15" textLength="43.3" lengthAdjust="spacingAndGlyphs">JNJ-67368886</text>
<line x1="457.3" y1="279.2" x2="464" y2="279.2" stroke="#c0102f" stroke-width="1"/>
<circle cx="461.20" cy="279.20" r="1.35" fill="#b30d31"/>
<text x="468.8" y="281.60" font-size="6.7" fill="#222" stroke="#222" stroke-width="0.15" textLength="43.3" lengthAdjust="spacingAndGlyphs">JNJ-67571244</text>
<line x1="457.3" y1="289.6" x2="464" y2="289.6" stroke="#6cb63c" stroke-width="1"/>
<circle cx="461.20" cy="289.60" r="1.3" fill="#fff" stroke="#6cb63c" stroke-width="0.8"/>
<text x="468.8" y="292.00" font-size="6.7" fill="#222" stroke="#222" stroke-width="0.15" textLength="25.7" lengthAdjust="spacingAndGlyphs">nullxCD3</text>
<text x="55.4" y="398.1" font-size="8.7" font-weight="normal" fill="#111" text-anchor="start" textLength="56.9" lengthAdjust="spacingAndGlyphs"  stroke="#111" stroke-width="0.1">JNJ-67571244</text>
<line x1="36.9" y1="403.5" x2="36.9" y2="500.7" stroke="#1a1a1a" stroke-width="1.3"/>
<line x1="33.4" y1="500.20" x2="36.9" y2="500.20" stroke="#1a1a1a" stroke-width="0.9"/>
<text x="31.0" y="502.60" font-size="6.7" font-weight="normal" fill="#222" text-anchor="end" letter-spacing="0.3" stroke="#222" stroke-width="0.1">-20</text>
<line x1="33.4" y1="481.50" x2="36.9" y2="481.50" stroke="#1a1a1a" stroke-width="0.9"/>
<text x="31.0" y="483.90" font-size="6.7" font-weight="normal" fill="#222" text-anchor="end" letter-spacing="0.3" stroke="#222" stroke-width="0.1">0</text>
<line x1="33.4" y1="462.80" x2="36.9" y2="462.80" stroke="#1a1a1a" stroke-width="0.9"/>
<text x="31.0" y="465.20" font-size="6.7" font-weight="normal" fill="#222" text-anchor="end" letter-spacing="0.3" stroke="#222" stroke-width="0.1">20</text>
<line x1="33.4" y1="444.10" x2="36.9" y2="444.10" stroke="#1a1a1a" stroke-width="0.9"/>
<text x="31.0" y="446.50" font-size="6.7" font-weight="normal" fill="#222" text-anchor="end" letter-spacing="0.3" stroke="#222" stroke-width="0.1">40</text>
<line x1="33.4" y1="425.40" x2="36.9" y2="425.40" stroke="#1a1a1a" stroke-width="0.9"/>
<text x="31.0" y="427.80" font-size="6.7" font-weight="normal" fill="#222" text-anchor="end" letter-spacing="0.3" stroke="#222" stroke-width="0.1">60</text>
<line x1="33.4" y1="406.70" x2="36.9" y2="406.70" stroke="#1a1a1a" stroke-width="0.9"/>
<text x="31.0" y="409.10" font-size="6.7" font-weight="normal" fill="#222" text-anchor="end" letter-spacing="0.3" stroke="#222" stroke-width="0.1">80</text>
<line x1="36.4" y1="500.4" x2="130.3" y2="500.4" stroke="#1a1a1a" stroke-width="1.1"/>
<line x1="36.9" y1="481.5" x2="130.3" y2="481.5" stroke="#666" stroke-width="0.75" stroke-dasharray="1.1 0.9"/>
<line x1="63.4" y1="500.4" x2="63.4" y2="503.5" stroke="#1a1a1a" stroke-width="0.9"/>
<text x="63.4" y="512.6" font-size="6.8" font-weight="normal" fill="#222" text-anchor="middle"  stroke="#222" stroke-width="0.1">C/C</text>
<line x1="103.5" y1="500.4" x2="103.5" y2="503.5" stroke="#1a1a1a" stroke-width="0.9"/>
<text x="103.5" y="512.6" font-size="6.8" font-weight="normal" fill="#222" text-anchor="middle"  stroke="#222" stroke-width="0.1">C/T</text>
<text x="14.5" y="453" font-size="8.6" font-weight="normal" fill="#222" text-anchor="middle" textLength="38" lengthAdjust="spacingAndGlyphs" transform="rotate(-90 14.5 452)" stroke="#222" stroke-width="0.1">% cytotoxicity</text>
<text x="194.2" y="398.1" font-size="8.7" font-weight="normal" fill="#111" text-anchor="start" textLength="57.8" lengthAdjust="spacingAndGlyphs"  stroke="#111" stroke-width="0.1">JNJ-67368886</text>
<line x1="176.2" y1="403.5" x2="176.2" y2="500.7" stroke="#1a1a1a" stroke-width="1.3"/>
<line x1="172.7" y1="500.20" x2="176.2" y2="500.20" stroke="#1a1a1a" stroke-width="0.9"/>
<text x="170.3" y="502.60" font-size="6.7" font-weight="normal" fill="#222" text-anchor="end" letter-spacing="0.3" stroke="#222" stroke-width="0.1">-20</text>
<line x1="172.7" y1="481.50" x2="176.2" y2="481.50" stroke="#1a1a1a" stroke-width="0.9"/>
<text x="170.3" y="483.90" font-size="6.7" font-weight="normal" fill="#222" text-anchor="end" letter-spacing="0.3" stroke="#222" stroke-width="0.1">0</text>
<line x1="172.7" y1="462.80" x2="176.2" y2="462.80" stroke="#1a1a1a" stroke-width="0.9"/>
<text x="170.3" y="465.20" font-size="6.7" font-weight="normal" fill="#222" text-anchor="end" letter-spacing="0.3" stroke="#222" stroke-width="0.1">20</text>
<line x1="172.7" y1="444.10" x2="176.2" y2="444.10" stroke="#1a1a1a" stroke-width="0.9"/>
<text x="170.3" y="446.50" font-size="6.7" font-weight="normal" fill="#222" text-anchor="end" letter-spacing="0.3" stroke="#222" stroke-width="0.1">40</text>
<line x1="172.7" y1="425.40" x2="176.2" y2="425.40" stroke="#1a1a1a" stroke-width="0.9"/>
<text x="170.3" y="427.80" font-size="6.7" font-weight="normal" fill="#222" text-anchor="end" letter-spacing="0.3" stroke="#222" stroke-width="0.1">60</text>
<line x1="172.7" y1="406.70" x2="176.2" y2="406.70" stroke="#1a1a1a" stroke-width="0.9"/>
<text x="170.3" y="409.10" font-size="6.7" font-weight="normal" fill="#222" text-anchor="end" letter-spacing="0.3" stroke="#222" stroke-width="0.1">80</text>
<line x1="175.7" y1="500.4" x2="269.6" y2="500.4" stroke="#1a1a1a" stroke-width="1.1"/>
<line x1="176.2" y1="481.5" x2="269.6" y2="481.5" stroke="#666" stroke-width="0.75" stroke-dasharray="1.1 0.9"/>
<line x1="202.7" y1="500.4" x2="202.7" y2="503.5" stroke="#1a1a1a" stroke-width="0.9"/>
<text x="202.7" y="512.6" font-size="6.8" font-weight="normal" fill="#222" text-anchor="middle"  stroke="#222" stroke-width="0.1">C/C</text>
<line x1="243.1" y1="500.4" x2="243.1" y2="503.5" stroke="#1a1a1a" stroke-width="0.9"/>
<text x="243.1" y="512.6" font-size="6.8" font-weight="normal" fill="#222" text-anchor="middle"  stroke="#222" stroke-width="0.1">C/T</text>
<text x="153.79999999999998" y="453" font-size="8.6" font-weight="normal" fill="#222" text-anchor="middle" textLength="38" lengthAdjust="spacingAndGlyphs" transform="rotate(-90 153.79999999999998 452)" stroke="#222" stroke-width="0.1">% cytotoxicity</text>

<text x="88.5" y="552" font-size="8.7" font-weight="normal" fill="#111" text-anchor="start" textLength="57.3" lengthAdjust="spacingAndGlyphs"  stroke="#111" stroke-width="0.1">JNJ-67571244</text>
<line x1="35.1" y1="557.8" x2="35.1" y2="671.0" stroke="#1a1a1a" stroke-width="1.3"/>
<line x1="31.6" y1="670.50" x2="35.1" y2="670.50" stroke="#1a1a1a" stroke-width="0.9"/>
<text x="28.6" y="672.90" font-size="6.7" font-weight="normal" fill="#222" text-anchor="end" letter-spacing="0.3" stroke="#222" stroke-width="0.1">-10</text>
<line x1="31.6" y1="652.20" x2="35.1" y2="652.20" stroke="#1a1a1a" stroke-width="0.9"/>
<text x="28.6" y="654.60" font-size="6.7" font-weight="normal" fill="#222" text-anchor="end" letter-spacing="0.3" stroke="#222" stroke-width="0.1">0</text>
<line x1="31.6" y1="633.90" x2="35.1" y2="633.90" stroke="#1a1a1a" stroke-width="0.9"/>
<text x="28.6" y="636.30" font-size="6.7" font-weight="normal" fill="#222" text-anchor="end" letter-spacing="0.3" stroke="#222" stroke-width="0.1">10</text>
<line x1="31.6" y1="615.60" x2="35.1" y2="615.60" stroke="#1a1a1a" stroke-width="0.9"/>
<text x="28.6" y="618.00" font-size="6.7" font-weight="normal" fill="#222" text-anchor="end" letter-spacing="0.3" stroke="#222" stroke-width="0.1">20</text>
<line x1="31.6" y1="597.30" x2="35.1" y2="597.30" stroke="#1a1a1a" stroke-width="0.9"/>
<text x="28.6" y="599.70" font-size="6.7" font-weight="normal" fill="#222" text-anchor="end" letter-spacing="0.3" stroke="#222" stroke-width="0.1">30</text>
<line x1="31.6" y1="579.00" x2="35.1" y2="579.00" stroke="#1a1a1a" stroke-width="0.9"/>
<text x="28.6" y="581.40" font-size="6.7" font-weight="normal" fill="#222" text-anchor="end" letter-spacing="0.3" stroke="#222" stroke-width="0.1">40</text>
<line x1="31.6" y1="560.70" x2="35.1" y2="560.70" stroke="#1a1a1a" stroke-width="0.9"/>
<text x="28.6" y="563.10" font-size="6.7" font-weight="normal" fill="#222" text-anchor="end" letter-spacing="0.3" stroke="#222" stroke-width="0.1">50</text>
<line x1="34.6" y1="670.6" x2="199.9" y2="670.6" stroke="#1a1a1a" stroke-width="1.1"/>
<line x1="35.1" y1="652.2" x2="199.9" y2="652.2" stroke="#666" stroke-width="0.75" stroke-dasharray="1.1 0.9"/>
<line x1="67.9" y1="670.6" x2="67.9" y2="673.3" stroke="#1a1a1a" stroke-width="0.9"/>
<text x="67.9" y="682.4" font-size="6.8" font-weight="normal" fill="#222" text-anchor="middle"  stroke="#222" stroke-width="0.1">C/C</text>
<line x1="117.6" y1="670.6" x2="117.6" y2="673.3" stroke="#1a1a1a" stroke-width="0.9"/>
<text x="117.6" y="682.4" font-size="6.8" font-weight="normal" fill="#222" text-anchor="middle"  stroke="#222" stroke-width="0.1">C/T</text>
<line x1="167.3" y1="670.6" x2="167.3" y2="673.3" stroke="#1a1a1a" stroke-width="0.9"/>
<text x="167.3" y="682.4" font-size="6.8" font-weight="normal" fill="#222" text-anchor="middle"  stroke="#222" stroke-width="0.1">T/T</text>
<text x="14.400000000000002" y="615.2" font-size="8.6" font-weight="normal" fill="#222" text-anchor="middle" textLength="40" lengthAdjust="spacingAndGlyphs" transform="rotate(-90 14.400000000000002 615.2)" stroke="#222" stroke-width="0.1">% cytotoxicity</text>
<text x="297.2" y="552" font-size="8.7" font-weight="normal" fill="#111" text-anchor="start" textLength="58.2" lengthAdjust="spacingAndGlyphs"  stroke="#111" stroke-width="0.1">JNJ-67368886</text>
<line x1="243.8" y1="557.8" x2="243.8" y2="671.0" stroke="#1a1a1a" stroke-width="1.3"/>
<line x1="240.3" y1="670.50" x2="243.8" y2="670.50" stroke="#1a1a1a" stroke-width="0.9"/>
<text x="237.3" y="672.90" font-size="6.7" font-weight="normal" fill="#222" text-anchor="end" letter-spacing="0.3" stroke="#222" stroke-width="0.1">-10</text>
<line x1="240.3" y1="652.20" x2="243.8" y2="652.20" stroke="#1a1a1a" stroke-width="0.9"/>
<text x="237.3" y="654.60" font-size="6.7" font-weight="normal" fill="#222" text-anchor="end" letter-spacing="0.3" stroke="#222" stroke-width="0.1">0</text>
<line x1="240.3" y1="633.90" x2="243.8" y2="633.90" stroke="#1a1a1a" stroke-width="0.9"/>
<text x="237.3" y="636.30" font-size="6.7" font-weight="normal" fill="#222" text-anchor="end" letter-spacing="0.3" stroke="#222" stroke-width="0.1">10</text>
<line x1="240.3" y1="615.60" x2="243.8" y2="615.60" stroke="#1a1a1a" stroke-width="0.9"/>
<text x="237.3" y="618.00" font-size="6.7" font-weight="normal" fill="#222" text-anchor="end" letter-spacing="0.3" stroke="#222" stroke-width="0.1">20</text>
<line x1="240.3" y1="597.30" x2="243.8" y2="597.30" stroke="#1a1a1a" stroke-width="0.9"/>
<text x="237.3" y="599.70" font-size="6.7" font-weight="normal" fill="#222" text-anchor="end" letter-spacing="0.3" stroke="#222" stroke-width="0.1">30</text>
<line x1="240.3" y1="579.00" x2="243.8" y2="579.00" stroke="#1a1a1a" stroke-width="0.9"/>
<text x="237.3" y="581.40" font-size="6.7" font-weight="normal" fill="#222" text-anchor="end" letter-spacing="0.3" stroke="#222" stroke-width="0.1">40</text>
<line x1="240.3" y1="560.70" x2="243.8" y2="560.70" stroke="#1a1a1a" stroke-width="0.9"/>
<text x="237.3" y="563.10" font-size="6.7" font-weight="normal" fill="#222" text-anchor="end" letter-spacing="0.3" stroke="#222" stroke-width="0.1">50</text>
<line x1="243.3" y1="670.6" x2="408.6" y2="670.6" stroke="#1a1a1a" stroke-width="1.1"/>
<line x1="243.8" y1="652.2" x2="408.6" y2="652.2" stroke="#666" stroke-width="0.75" stroke-dasharray="1.1 0.9"/>
<line x1="276.6" y1="670.6" x2="276.6" y2="673.3" stroke="#1a1a1a" stroke-width="0.9"/>
<text x="276.6" y="682.4" font-size="6.8" font-weight="normal" fill="#222" text-anchor="middle"  stroke="#222" stroke-width="0.1">C/C</text>
<line x1="326.2" y1="670.6" x2="326.2" y2="673.3" stroke="#1a1a1a" stroke-width="0.9"/>
<text x="326.2" y="682.4" font-size="6.8" font-weight="normal" fill="#222" text-anchor="middle"  stroke="#222" stroke-width="0.1">C/T</text>
<line x1="375.8" y1="670.6" x2="375.8" y2="673.3" stroke="#1a1a1a" stroke-width="0.9"/>
<text x="375.8" y="682.4" font-size="6.8" font-weight="normal" fill="#222" text-anchor="middle"  stroke="#222" stroke-width="0.1">T/T</text>
<text x="223.10000000000002" y="615.2" font-size="8.6" font-weight="normal" fill="#222" text-anchor="middle" textLength="40" lengthAdjust="spacingAndGlyphs" transform="rotate(-90 223.10000000000002 615.2)" stroke="#222" stroke-width="0.1">% cytotoxicity</text>
<circle cx="52.60" cy="423.50" r="2.3" fill="#b0002a"/>
<circle cx="63.70" cy="420.50" r="2.3" fill="#b0002a"/>
<circle cx="74.60" cy="422.60" r="2.3" fill="#b0002a"/>
<circle cx="63.70" cy="430.80" r="2.3" fill="#b0002a"/>
<circle cx="63.70" cy="436.60" r="2.3" fill="#b0002a"/>
<circle cx="63.70" cy="442.30" r="2.3" fill="#b0002a"/>
<circle cx="63.70" cy="449.00" r="2.3" fill="#b0002a"/>
<line x1="63.7" y1="421.2" x2="63.7" y2="443.2" stroke="#111" stroke-width="1.2"/>
<line x1="56.9" y1="421.2" x2="70.4" y2="421.2" stroke="#111" stroke-width="1.2"/>
<line x1="56.9" y1="443.2" x2="70.4" y2="443.2" stroke="#111" stroke-width="1.2"/>
<line x1="46.9" y1="432.4" x2="80.4" y2="432.4" stroke="#111" stroke-width="1.2"/>
<line x1="86.9" y1="448.9" x2="120.4" y2="448.9" stroke="#222" stroke-width="1.2"/>
<rect x="96.60" y="444.20" width="4.6" height="4.6" fill="#1d4386" stroke="#fff" stroke-width="0.4"/>
<rect x="96.60" y="449.00" width="4.6" height="4.6" fill="#1d4386" stroke="#fff" stroke-width="0.4"/>
<rect x="106.10" y="446.60" width="4.6" height="4.6" fill="#1d4386" stroke="#fff" stroke-width="0.4"/>
<rect x="101.6" y="446.6" width="4.4" height="4.6" fill="#fff" stroke="#1d4386" stroke-width="1.1"/>
<line x1="101" y1="448.9" x2="106.5" y2="448.9" stroke="#222" stroke-width="1.1"/>
<circle cx="191.80" cy="417.20" r="2.3" fill="#b0002a"/>
<circle cx="199.20" cy="420.00" r="2.3" fill="#b0002a"/>
<circle cx="206.90" cy="416.20" r="2.3" fill="#b0002a"/>
<circle cx="206.90" cy="421.10" r="2.3" fill="#b0002a"/>
<circle cx="199.20" cy="440.80" r="2.3" fill="#b0002a"/>
<circle cx="206.90" cy="443.50" r="2.3" fill="#b0002a"/>
<circle cx="202.80" cy="470.80" r="2.3" fill="#b0002a"/>
<line x1="203" y1="412.3" x2="203" y2="452.8" stroke="#111" stroke-width="1.2"/>
<line x1="196.2" y1="412.3" x2="209.7" y2="412.3" stroke="#111" stroke-width="1.2"/>
<line x1="196.2" y1="452.8" x2="209.7" y2="452.8" stroke="#111" stroke-width="1.2"/>
<line x1="186.5" y1="432.6" x2="219.5" y2="432.6" stroke="#111" stroke-width="1.2"/>
<line x1="243.1" y1="471.0" x2="243.1" y2="483.8" stroke="#111" stroke-width="1.2"/>
<line x1="237.3" y1="471.0" x2="249.5" y2="471.0" stroke="#111" stroke-width="1.2"/>
<line x1="237.3" y1="483.8" x2="249.5" y2="483.8" stroke="#111" stroke-width="1.2"/>
<line x1="226.9" y1="477.8" x2="259.7" y2="477.8" stroke="#111" stroke-width="1.2"/>
<rect x="240.90" y="468.20" width="4.4" height="4.4" fill="#1d4386" stroke="#fff" stroke-width="0.4"/>
<rect x="236.30" y="480.20" width="4.4" height="4.4" fill="#1d4386" stroke="#fff" stroke-width="0.4"/>
<rect x="245.00" y="480.20" width="4.4" height="4.4" fill="#1d4386" stroke="#fff" stroke-width="0.4"/>
<circle cx="68.10" cy="566.20" r="2.05" fill="#b0002a"/>
<circle cx="68.10" cy="579.50" r="2.05" fill="#b0002a"/>
<circle cx="68.10" cy="591.80" r="2.05" fill="#b0002a"/>
<circle cx="71.60" cy="601.20" r="2.05" fill="#b0002a"/>
<circle cx="64.20" cy="604.60" r="2.05" fill="#b0002a"/>
<circle cx="68.10" cy="610.20" r="2.05" fill="#b0002a"/>
<circle cx="60.80" cy="614.90" r="2.05" fill="#b0002a"/>
<circle cx="75.30" cy="615.70" r="2.05" fill="#b0002a"/>
<circle cx="68.10" cy="617.70" r="2.05" fill="#b0002a"/>
<circle cx="53.80" cy="622.30" r="2.05" fill="#b0002a"/>
<circle cx="82.40" cy="623.40" r="2.05" fill="#b0002a"/>
<circle cx="60.80" cy="626.50" r="2.05" fill="#b0002a"/>
<circle cx="68.10" cy="625.40" r="2.05" fill="#b0002a"/>
<circle cx="75.30" cy="626.60" r="2.05" fill="#b0002a"/>
<circle cx="60.80" cy="631.80" r="2.05" fill="#b0002a"/>
<circle cx="75.30" cy="634.30" r="2.05" fill="#b0002a"/>
<circle cx="68.10" cy="637.20" r="2.05" fill="#b0002a"/>
<circle cx="68.10" cy="644.90" r="2.05" fill="#b0002a"/>
<line x1="68.1" y1="594.8" x2="68.1" y2="635.5" stroke="#444" stroke-width="1.2"/>
<line x1="60.1" y1="594.8" x2="76.2" y2="594.8" stroke="#111" stroke-width="1.2"/>
<line x1="60.1" y1="635.5" x2="76.2" y2="635.5" stroke="#111" stroke-width="1.2"/>
<line x1="51.6" y1="615.1" x2="84.5" y2="615.1" stroke="#111" stroke-width="1.2"/>
<circle cx="117.60" cy="591.50" r="2.05" fill="#1d4386"/>
<circle cx="117.60" cy="601.20" r="2.05" fill="#1d4386"/>
<circle cx="117.60" cy="606.20" r="2.05" fill="#1d4386"/>
<circle cx="117.60" cy="610.80" r="2.05" fill="#1d4386"/>
<circle cx="113.20" cy="616.20" r="2.05" fill="#1d4386"/>
<circle cx="122.10" cy="616.50" r="2.05" fill="#1d4386"/>
<circle cx="117.60" cy="621.50" r="2.05" fill="#1d4386"/>
<circle cx="108.80" cy="631.20" r="2.05" fill="#1d4386"/>
<circle cx="117.60" cy="633.40" r="2.05" fill="#1d4386"/>
<circle cx="126.50" cy="635.40" r="2.05" fill="#1d4386"/>
<circle cx="108.80" cy="637.70" r="2.05" fill="#1d4386"/>
<line x1="117.6" y1="603.4" x2="117.6" y2="633.4" stroke="#111" stroke-width="1.2"/>
<line x1="109.3" y1="603.4" x2="125.8" y2="603.4" stroke="#111" stroke-width="1.2"/>
<line x1="109.3" y1="633.4" x2="125.8" y2="633.4" stroke="#111" stroke-width="1.2"/>
<line x1="101.2" y1="618.2" x2="133.9" y2="618.2" stroke="#111" stroke-width="1.2"/>
<circle cx="158.20" cy="611.40" r="2.05" fill="#6ab23a"/>
<circle cx="166.90" cy="615.50" r="2.05" fill="#6ab23a"/>
<circle cx="166.90" cy="628.90" r="2.05" fill="#6ab23a"/>
<circle cx="158.20" cy="632.30" r="2.05" fill="#6ab23a"/>
<circle cx="175.70" cy="631.00" r="2.05" fill="#6ab23a"/>
<line x1="166.9" y1="614.1" x2="166.9" y2="633.4" stroke="#444" stroke-width="1.2"/>
<line x1="159.2" y1="614.1" x2="175.3" y2="614.1" stroke="#111" stroke-width="1.2"/>
<line x1="159.2" y1="633.4" x2="175.3" y2="633.4" stroke="#111" stroke-width="1.2"/>
<line x1="150.8" y1="624.0" x2="183.3" y2="624.0" stroke="#111" stroke-width="1.2"/>
<circle cx="276.50" cy="567.90" r="2.05" fill="#b0002a"/>
<circle cx="272.10" cy="590.00" r="2.05" fill="#b0002a"/>
<circle cx="281.70" cy="591.90" r="2.05" fill="#b0002a"/>
<circle cx="276.60" cy="601.20" r="2.05" fill="#b0002a"/>
<circle cx="272.00" cy="608.00" r="2.05" fill="#b0002a"/>
<circle cx="281.50" cy="606.50" r="2.05" fill="#b0002a"/>
<circle cx="276.60" cy="615.70" r="2.05" fill="#b0002a"/>
<circle cx="262.60" cy="628.80" r="2.05" fill="#b0002a"/>
<circle cx="272.00" cy="631.80" r="2.05" fill="#b0002a"/>
<circle cx="281.50" cy="628.60" r="2.05" fill="#b0002a"/>
<circle cx="281.50" cy="634.20" r="2.05" fill="#b0002a"/>
<circle cx="262.60" cy="643.40" r="2.05" fill="#b0002a"/>
<circle cx="272.00" cy="641.20" r="2.05" fill="#b0002a"/>
<circle cx="281.50" cy="641.20" r="2.05" fill="#b0002a"/>
<circle cx="291.20" cy="643.10" r="2.05" fill="#b0002a"/>
<circle cx="281.50" cy="645.70" r="2.05" fill="#b0002a"/>
<circle cx="272.00" cy="651.80" r="2.05" fill="#b0002a"/>
<circle cx="281.50" cy="650.80" r="2.05" fill="#b0002a"/>
<line x1="276.6" y1="599.2" x2="276.6" y2="647.4" stroke="#555" stroke-width="1.2"/>
<line x1="268.6" y1="599.2" x2="285.0" y2="599.2" stroke="#111" stroke-width="1.2"/>
<line x1="268.6" y1="647.4" x2="285.0" y2="647.4" stroke="#111" stroke-width="1.2"/>
<line x1="255.4" y1="623.4" x2="296.6" y2="623.4" stroke="#111" stroke-width="1.2"/>
<rect x="324.25" y="622.65" width="3.9" height="3.9" fill="#1d4386" stroke="#fff" stroke-width="0.4"/>
<rect x="324.25" y="630.85" width="3.9" height="3.9" fill="#1d4386" stroke="#fff" stroke-width="0.4"/>
<rect x="310.05" y="638.35" width="3.9" height="3.9" fill="#1d4386" stroke="#fff" stroke-width="0.4"/>
<rect x="319.55" y="638.55" width="3.9" height="3.9" fill="#1d4386" stroke="#fff" stroke-width="0.4"/>
<rect x="329.15" y="640.35" width="3.9" height="3.9" fill="#1d4386" stroke="#fff" stroke-width="0.4"/>
<rect x="338.55" y="636.55" width="3.9" height="3.9" fill="#1d4386" stroke="#fff" stroke-width="0.4"/>
<rect x="324.25" y="648.05" width="3.9" height="3.9" fill="#1d4386" stroke="#fff" stroke-width="0.4"/>
<rect x="314.65" y="650.35" width="3.9" height="3.9" fill="#1d4386" stroke="#fff" stroke-width="0.4"/>
<rect x="333.85" y="650.35" width="3.9" height="3.9" fill="#1d4386" stroke="#fff" stroke-width="0.4"/>
<rect x="329.15" y="656.85" width="3.9" height="3.9" fill="#1d4386" stroke="#fff" stroke-width="0.4"/>
<rect x="319.55" y="660.65" width="3.9" height="3.9" fill="#1d4386" stroke="#fff" stroke-width="0.4"/>
<line x1="326.2" y1="633.5" x2="326.2" y2="656.5" stroke="#111" stroke-width="1.2"/>
<line x1="318.2" y1="633.5" x2="334.6" y2="633.5" stroke="#111" stroke-width="1.2"/>
<line x1="318.2" y1="656.5" x2="334.6" y2="656.5" stroke="#111" stroke-width="1.2"/>
<line x1="305.1" y1="644.9" x2="345.8" y2="644.9" stroke="#111" stroke-width="1.2"/>
<path d="M375.80,636.73 L378.00,640.55 L373.60,640.55Z" fill="#6ab23a"/>
<path d="M375.80,644.83 L378.00,648.65 L373.60,648.65Z" fill="#6ab23a"/>
<path d="M371.30,650.93 L373.50,654.75 L369.10,654.75Z" fill="#6ab23a"/>
<path d="M380.30,651.33 L382.50,655.15 L378.10,655.15Z" fill="#6ab23a"/>
<path d="M371.30,655.63 L373.50,659.45 L369.10,659.45Z" fill="#6ab23a"/>
<line x1="375.8" y1="642.8" x2="375.8" y2="657.0" stroke="#111" stroke-width="1.2"/>
<line x1="367.5" y1="642.8" x2="383.9" y2="642.8" stroke="#111" stroke-width="1.2"/>
<line x1="367.5" y1="657.0" x2="383.9" y2="657.0" stroke="#111" stroke-width="1.2"/>
<line x1="354.3" y1="649.9" x2="395.5" y2="649.9" stroke="#111" stroke-width="1.2"/>
<line x1="282" y1="567" x2="379.6" y2="567" stroke="#777" stroke-width="1.3"/>
<text x="331" y="562.6" font-size="5.8" fill="#555" stroke="#555" stroke-width="0.1" text-anchor="middle" textLength="24.9" lengthAdjust="spacingAndGlyphs">p=0.0006</text>
<line x1="289.6" y1="589.2" x2="322.4" y2="589.2" stroke="#333" stroke-width="1.1"/>
<text x="305.6" y="584.6" font-size="5.8" fill="#444" stroke="#444" stroke-width="0.1" text-anchor="middle" textLength="21.3" lengthAdjust="spacingAndGlyphs">p=0.003</text>
</svg>
</body></html>
